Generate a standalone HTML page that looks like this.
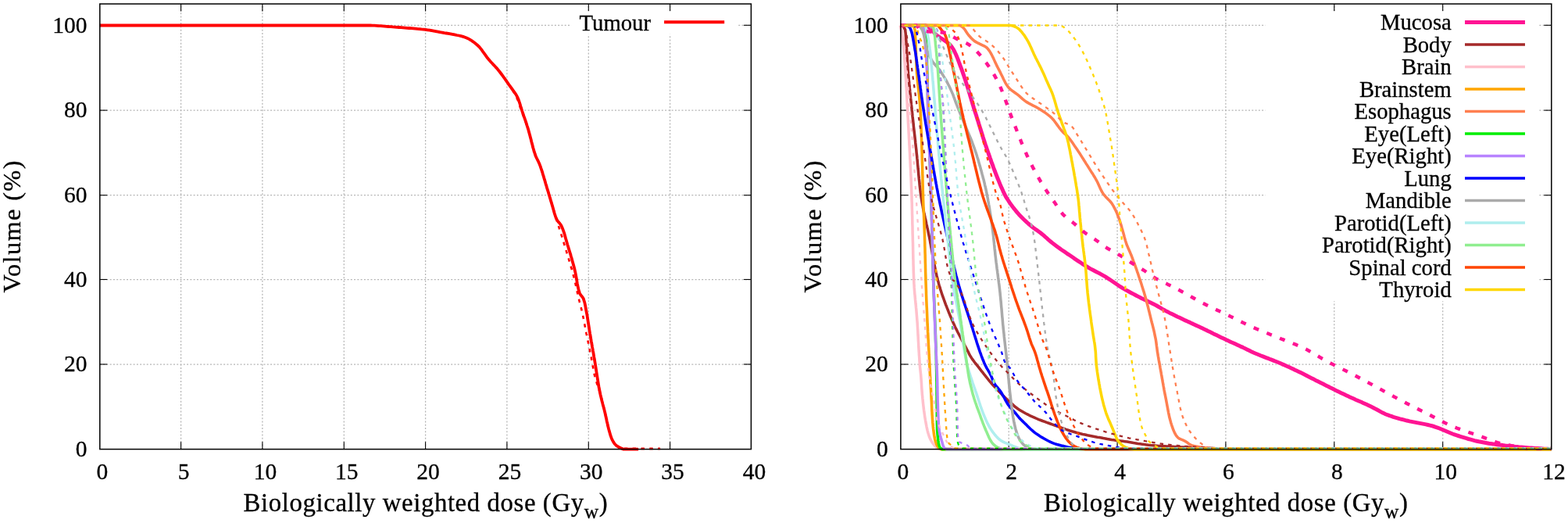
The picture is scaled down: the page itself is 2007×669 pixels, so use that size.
<!DOCTYPE html><html><head><meta charset="utf-8"><style>html,body{margin:0;padding:0;background:#fff;overflow:hidden}svg{display:block}</style></head><body><svg width="2007" height="669" viewBox="0 0 2007 669">
<rect width="2007" height="669" fill="#fff"/>
<g><line x1="231.6" y1="574.65" x2="231.6" y2="5.0" stroke="#b4b4b4" stroke-width="1.25" stroke-dasharray="2 2.28"/><line x1="335.9" y1="574.65" x2="335.9" y2="5.0" stroke="#b4b4b4" stroke-width="1.25" stroke-dasharray="2 2.28"/><line x1="440.3" y1="574.65" x2="440.3" y2="5.0" stroke="#b4b4b4" stroke-width="1.25" stroke-dasharray="2 2.28"/><line x1="544.6" y1="574.65" x2="544.6" y2="5.0" stroke="#b4b4b4" stroke-width="1.25" stroke-dasharray="2 2.28"/><line x1="648.9" y1="574.65" x2="648.9" y2="5.0" stroke="#b4b4b4" stroke-width="1.25" stroke-dasharray="2 2.28"/><line x1="753.3" y1="574.65" x2="753.3" y2="5.0" stroke="#b4b4b4" stroke-width="1.25" stroke-dasharray="2 2.28"/><line x1="857.6" y1="574.65" x2="857.6" y2="5.0" stroke="#b4b4b4" stroke-width="1.25" stroke-dasharray="2 2.28"/><line x1="127.8" y1="466.0" x2="961.4" y2="466.0" stroke="#b4b4b4" stroke-width="1.25" stroke-dasharray="2 2.28"/><line x1="127.8" y1="357.5" x2="961.4" y2="357.5" stroke="#b4b4b4" stroke-width="1.25" stroke-dasharray="2 2.28"/><line x1="127.8" y1="249.7" x2="961.4" y2="249.7" stroke="#b4b4b4" stroke-width="1.25" stroke-dasharray="2 2.28"/><line x1="127.8" y1="141.1" x2="961.4" y2="141.1" stroke="#b4b4b4" stroke-width="1.25" stroke-dasharray="2 2.28"/><line x1="127.8" y1="32.3" x2="961.4" y2="32.3" stroke="#b4b4b4" stroke-width="1.25" stroke-dasharray="2 2.28"/></g>
<g><line x1="1291.2" y1="574.65" x2="1291.2" y2="5.0" stroke="#b4b4b4" stroke-width="1.25" stroke-dasharray="2 2.28"/><line x1="1430.1" y1="574.65" x2="1430.1" y2="5.0" stroke="#b4b4b4" stroke-width="1.25" stroke-dasharray="2 2.28"/><line x1="1568.9" y1="574.65" x2="1568.9" y2="5.0" stroke="#b4b4b4" stroke-width="1.25" stroke-dasharray="2 2.28"/><line x1="1707.8" y1="574.65" x2="1707.8" y2="5.0" stroke="#b4b4b4" stroke-width="1.25" stroke-dasharray="2 2.28"/><line x1="1846.7" y1="574.65" x2="1846.7" y2="5.0" stroke="#b4b4b4" stroke-width="1.25" stroke-dasharray="2 2.28"/><line x1="1152.9" y1="466.0" x2="1985.8" y2="466.0" stroke="#b4b4b4" stroke-width="1.25" stroke-dasharray="2 2.28"/><line x1="1152.9" y1="357.5" x2="1985.8" y2="357.5" stroke="#b4b4b4" stroke-width="1.25" stroke-dasharray="2 2.28"/><line x1="1152.9" y1="249.7" x2="1985.8" y2="249.7" stroke="#b4b4b4" stroke-width="1.25" stroke-dasharray="2 2.28"/><line x1="1152.9" y1="141.1" x2="1985.8" y2="141.1" stroke="#b4b4b4" stroke-width="1.25" stroke-dasharray="2 2.28"/><line x1="1152.9" y1="32.3" x2="1985.8" y2="32.3" stroke="#b4b4b4" stroke-width="1.25" stroke-dasharray="2 2.28"/></g>
<line x1="231.6" y1="574.65" x2="231.6" y2="565.15" stroke="#000" stroke-width="1.1"/><line x1="231.6" y1="5.0" x2="231.6" y2="14.5" stroke="#000" stroke-width="1.1"/><line x1="335.9" y1="574.65" x2="335.9" y2="565.15" stroke="#000" stroke-width="1.1"/><line x1="335.9" y1="5.0" x2="335.9" y2="14.5" stroke="#000" stroke-width="1.1"/><line x1="440.3" y1="574.65" x2="440.3" y2="565.15" stroke="#000" stroke-width="1.1"/><line x1="440.3" y1="5.0" x2="440.3" y2="14.5" stroke="#000" stroke-width="1.1"/><line x1="544.6" y1="574.65" x2="544.6" y2="565.15" stroke="#000" stroke-width="1.1"/><line x1="544.6" y1="5.0" x2="544.6" y2="14.5" stroke="#000" stroke-width="1.1"/><line x1="648.9" y1="574.65" x2="648.9" y2="565.15" stroke="#000" stroke-width="1.1"/><line x1="648.9" y1="5.0" x2="648.9" y2="14.5" stroke="#000" stroke-width="1.1"/><line x1="753.3" y1="574.65" x2="753.3" y2="565.15" stroke="#000" stroke-width="1.1"/><line x1="753.3" y1="5.0" x2="753.3" y2="14.5" stroke="#000" stroke-width="1.1"/><line x1="857.6" y1="574.65" x2="857.6" y2="565.15" stroke="#000" stroke-width="1.1"/><line x1="857.6" y1="5.0" x2="857.6" y2="14.5" stroke="#000" stroke-width="1.1"/><line x1="127.8" y1="466.0" x2="137.3" y2="466.0" stroke="#000" stroke-width="1.1"/><line x1="961.4" y1="466.0" x2="951.9" y2="466.0" stroke="#000" stroke-width="1.1"/><line x1="127.8" y1="357.5" x2="137.3" y2="357.5" stroke="#000" stroke-width="1.1"/><line x1="961.4" y1="357.5" x2="951.9" y2="357.5" stroke="#000" stroke-width="1.1"/><line x1="127.8" y1="249.7" x2="137.3" y2="249.7" stroke="#000" stroke-width="1.1"/><line x1="961.4" y1="249.7" x2="951.9" y2="249.7" stroke="#000" stroke-width="1.1"/><line x1="127.8" y1="141.1" x2="137.3" y2="141.1" stroke="#000" stroke-width="1.1"/><line x1="961.4" y1="141.1" x2="951.9" y2="141.1" stroke="#000" stroke-width="1.1"/><line x1="127.8" y1="32.3" x2="137.3" y2="32.3" stroke="#000" stroke-width="1.1"/><line x1="961.4" y1="32.3" x2="951.9" y2="32.3" stroke="#000" stroke-width="1.1"/>
<line x1="1291.2" y1="574.65" x2="1291.2" y2="565.15" stroke="#000" stroke-width="1.1"/><line x1="1291.2" y1="5.0" x2="1291.2" y2="14.5" stroke="#000" stroke-width="1.1"/><line x1="1430.1" y1="574.65" x2="1430.1" y2="565.15" stroke="#000" stroke-width="1.1"/><line x1="1430.1" y1="5.0" x2="1430.1" y2="14.5" stroke="#000" stroke-width="1.1"/><line x1="1568.9" y1="574.65" x2="1568.9" y2="565.15" stroke="#000" stroke-width="1.1"/><line x1="1568.9" y1="5.0" x2="1568.9" y2="14.5" stroke="#000" stroke-width="1.1"/><line x1="1707.8" y1="574.65" x2="1707.8" y2="565.15" stroke="#000" stroke-width="1.1"/><line x1="1707.8" y1="5.0" x2="1707.8" y2="14.5" stroke="#000" stroke-width="1.1"/><line x1="1846.7" y1="574.65" x2="1846.7" y2="565.15" stroke="#000" stroke-width="1.1"/><line x1="1846.7" y1="5.0" x2="1846.7" y2="14.5" stroke="#000" stroke-width="1.1"/><line x1="1152.9" y1="466.0" x2="1162.4" y2="466.0" stroke="#000" stroke-width="1.1"/><line x1="1985.8" y1="466.0" x2="1976.3" y2="466.0" stroke="#000" stroke-width="1.1"/><line x1="1152.9" y1="357.5" x2="1162.4" y2="357.5" stroke="#000" stroke-width="1.1"/><line x1="1985.8" y1="357.5" x2="1976.3" y2="357.5" stroke="#000" stroke-width="1.1"/><line x1="1152.9" y1="249.7" x2="1162.4" y2="249.7" stroke="#000" stroke-width="1.1"/><line x1="1985.8" y1="249.7" x2="1976.3" y2="249.7" stroke="#000" stroke-width="1.1"/><line x1="1152.9" y1="141.1" x2="1162.4" y2="141.1" stroke="#000" stroke-width="1.1"/><line x1="1985.8" y1="141.1" x2="1976.3" y2="141.1" stroke="#000" stroke-width="1.1"/><line x1="1152.9" y1="32.3" x2="1162.4" y2="32.3" stroke="#000" stroke-width="1.1"/><line x1="1985.8" y1="32.3" x2="1976.3" y2="32.3" stroke="#000" stroke-width="1.1"/>
<path d="M127.2,32.5 L129.8,32.5 L132.3,32.5 L134.8,32.5 L137.3,32.5 L139.8,32.5 L142.3,32.5 L144.9,32.5 L147.4,32.5 L149.9,32.5 L152.4,32.5 L154.9,32.5 L157.4,32.5 L160.0,32.5 L162.5,32.5 L165.0,32.5 L167.5,32.5 L170.0,32.5 L172.5,32.5 L175.1,32.5 L177.6,32.5 L180.1,32.5 L182.6,32.5 L185.1,32.5 L187.6,32.5 L190.1,32.5 L192.7,32.5 L195.2,32.5 L197.7,32.5 L200.2,32.5 L202.7,32.5 L205.2,32.5 L207.7,32.5 L210.3,32.5 L212.8,32.5 L215.3,32.5 L217.8,32.5 L220.3,32.5 L222.8,32.5 L225.3,32.5 L227.9,32.5 L230.4,32.5 L232.9,32.5 L235.4,32.5 L237.9,32.5 L240.4,32.5 L242.9,32.5 L245.5,32.5 L248.0,32.5 L250.5,32.5 L253.0,32.5 L255.5,32.5 L258.0,32.5 L260.5,32.5 L263.1,32.5 L265.6,32.5 L268.1,32.5 L270.6,32.5 L273.1,32.5 L275.6,32.5 L278.1,32.5 L280.6,32.5 L283.2,32.5 L285.7,32.5 L288.2,32.5 L290.7,32.5 L293.2,32.5 L295.7,32.5 L298.2,32.5 L300.8,32.5 L303.3,32.5 L305.8,32.5 L308.3,32.5 L310.8,32.5 L313.3,32.5 L315.8,32.5 L318.3,32.5 L320.9,32.5 L323.4,32.5 L325.9,32.5 L328.4,32.5 L330.9,32.5 L333.4,32.5 L335.9,32.5 L338.4,32.5 L341.0,32.5 L343.5,32.5 L346.0,32.5 L348.5,32.5 L351.0,32.5 L353.5,32.5 L356.0,32.5 L358.5,32.5 L361.1,32.5 L363.6,32.5 L366.1,32.5 L368.6,32.5 L371.1,32.5 L373.6,32.5 L376.1,32.5 L378.6,32.5 L381.1,32.5 L383.7,32.5 L386.2,32.5 L388.7,32.5 L391.2,32.5 L393.7,32.5 L396.2,32.5 L398.7,32.5 L401.2,32.5 L403.8,32.5 L406.3,32.5 L408.8,32.5 L411.3,32.5 L413.8,32.5 L416.3,32.5 L418.8,32.5 L421.3,32.5 L423.8,32.5 L426.4,32.5 L428.9,32.5 L431.4,32.5 L433.9,32.5 L436.4,32.5 L438.9,32.5 L441.4,32.5 L443.9,32.5 L446.4,32.5 L449.0,32.5 L451.5,32.5 L454.0,32.5 L456.5,32.5 L459.0,32.5 L461.5,32.5 L464.0,32.5 L466.5,32.5 L469.0,32.5 L471.6,32.5 L474.2,32.5 L476.8,32.6 L479.4,32.7 L482.0,32.9 L484.6,33.1 L487.2,33.2 L489.8,33.4 L492.4,33.6 L495.0,33.8 L497.6,34.0 L500.3,34.1 L502.9,34.4 L505.5,34.6 L508.1,34.8 L510.7,35.0 L513.3,35.2 L515.9,35.4 L518.5,35.6 L521.1,35.8 L523.7,36.0 L526.4,36.2 L529.0,36.4 L531.6,36.6 L534.2,36.9 L536.8,37.1 L539.4,37.4 L542.0,37.6 L544.6,37.9 L547.3,38.3 L550.0,38.7 L552.7,39.2 L555.3,39.7 L558.0,40.2 L560.7,40.7 L563.4,41.2 L566.0,41.6 L568.7,42.1 L571.3,42.5 L574.0,42.9 L576.6,43.4 L579.2,43.9 L581.9,44.4 L584.7,45.0 L587.4,45.5 L590.1,46.2 L592.8,46.9 L595.3,47.7 L597.8,48.7 L600.2,49.9 L602.6,51.3 L604.9,52.9 L607.2,54.5 L609.3,56.2 L611.4,58.0 L613.3,59.8 L615.0,61.9 L616.7,64.0 L618.3,66.3 L620.0,68.6 L621.6,70.9 L623.2,73.2 L624.9,75.3 L626.6,77.3 L628.3,79.2 L630.0,81.0 L631.7,82.9 L633.5,84.8 L635.2,86.6 L636.9,88.6 L638.5,90.5 L640.1,92.5 L641.6,94.5 L643.1,96.5 L644.6,98.6 L646.1,100.6 L647.5,102.7 L649.0,104.8 L650.4,106.9 L651.8,108.9 L653.5,111.2 L655.2,113.5 L656.9,115.8 L658.5,118.1 L660.1,120.4 L661.5,122.8 L662.7,125.2 L663.8,127.8 L664.7,130.5 L665.6,133.2 L666.4,136.0 L667.3,138.7 L668.1,141.5 L668.9,143.8 L669.7,146.2 L670.5,148.6 L671.4,151.0 L672.2,153.4 L673.0,155.7 L673.8,158.1 L674.5,160.5 L675.3,162.9 L676.1,165.3 L676.8,167.9 L677.5,170.5 L678.2,173.1 L678.9,175.7 L679.6,178.3 L680.2,180.9 L680.9,183.5 L681.6,186.1 L682.2,188.7 L683.0,191.3 L683.7,193.9 L684.6,196.4 L685.4,198.9 L686.4,201.2 L687.5,203.5 L688.6,205.7 L689.7,208.0 L690.7,210.3 L691.6,212.7 L692.4,215.2 L693.3,217.6 L694.1,220.1 L694.8,222.6 L695.6,225.1 L696.3,227.6 L697.1,230.1 L697.8,232.6 L698.5,235.1 L699.3,237.6 L700.0,240.1 L700.8,242.6 L701.6,245.1 L702.3,247.6 L703.1,250.1 L703.8,252.7 L704.6,255.2 L705.3,257.7 L706.1,260.2 L706.8,262.6 L707.5,265.1 L708.2,267.6 L708.9,270.1 L709.6,272.6 L710.4,275.0 L711.2,277.4 L712.1,279.7 L713.2,281.9 L714.7,283.9 L716.5,285.8 L718.0,287.8 L719.1,290.1 L720.1,292.4 L721.0,294.9 L721.9,297.4 L722.7,299.9 L723.4,302.5 L724.1,305.1 L724.9,307.7 L725.6,310.2 L726.3,312.7 L727.1,315.3 L727.9,317.9 L728.7,320.5 L729.5,323.0 L730.3,325.6 L731.0,328.2 L731.8,330.8 L732.5,333.4 L733.2,336.0 L733.9,338.6 L734.6,341.1 L735.3,343.8 L735.9,346.4 L736.5,349.0 L737.0,351.6 L737.5,354.3 L738.0,357.0 L738.4,359.7 L738.8,362.4 L739.3,365.0 L739.9,367.6 L740.5,370.2 L741.2,372.7 L742.0,375.1 L743.4,377.5 L745.3,379.7 L746.8,382.1 L747.6,384.7 L748.4,387.3 L749.0,390.1 L749.5,392.9 L750.0,395.6 L750.5,398.4 L751.0,400.9 L751.5,403.5 L751.9,406.1 L752.3,408.6 L752.7,411.2 L753.1,413.7 L753.5,416.3 L753.9,418.9 L754.3,421.5 L754.7,424.0 L755.1,426.6 L755.6,429.1 L756.0,431.6 L756.4,434.1 L756.8,436.6 L757.3,439.1 L757.7,441.5 L758.1,444.0 L758.6,446.5 L759.0,449.0 L759.5,451.5 L759.9,454.0 L760.3,456.5 L760.8,459.0 L761.2,461.5 L761.6,464.0 L762.0,466.5 L762.4,469.0 L762.8,471.6 L763.2,474.1 L763.6,476.7 L764.0,479.2 L764.4,481.7 L764.8,484.3 L765.2,486.8 L765.6,489.3 L766.0,491.9 L766.4,494.4 L766.9,496.9 L767.4,499.4 L767.9,501.9 L768.4,504.4 L769.0,506.9 L769.6,509.4 L770.2,511.9 L770.9,514.4 L771.5,516.9 L772.2,519.4 L772.9,521.9 L773.5,524.4 L774.1,526.9 L774.7,529.3 L775.2,531.7 L775.8,534.2 L776.3,536.6 L776.8,539.1 L777.4,541.5 L777.9,544.0 L778.5,546.4 L779.1,548.8 L779.8,551.3 L780.6,554.1 L781.4,556.9 L782.4,559.7 L783.5,562.4 L785.0,565.1 L786.7,567.7 L788.7,569.8 L791.6,571.7 L794.8,573.3 L797.7,574.6 L800.3,574.6 L803.0,574.6 L805.7,574.6 L808.5,574.6 L811.3,574.6 L814.2,574.6 L817.1,574.6" fill="none" stroke="#ff0000" stroke-width="3.8" stroke-linejoin="round" stroke-linecap="butt"/>
<path d="M127.2,32.5 L129.8,32.5 L132.3,32.5 L134.8,32.5 L137.3,32.5 L139.8,32.5 L142.3,32.5 L144.9,32.5 L147.4,32.5 L149.9,32.5 L152.4,32.5 L154.9,32.5 L157.4,32.5 L160.0,32.5 L162.5,32.5 L165.0,32.5 L167.5,32.5 L170.0,32.5 L172.5,32.5 L175.1,32.5 L177.6,32.5 L180.1,32.5 L182.6,32.5 L185.1,32.5 L187.6,32.5 L190.1,32.5 L192.7,32.5 L195.2,32.5 L197.7,32.5 L200.2,32.5 L202.7,32.5 L205.2,32.5 L207.7,32.5 L210.3,32.5 L212.8,32.5 L215.3,32.5 L217.8,32.5 L220.3,32.5 L222.8,32.5 L225.3,32.5 L227.9,32.5 L230.4,32.5 L232.9,32.5 L235.4,32.5 L237.9,32.5 L240.4,32.5 L242.9,32.5 L245.5,32.5 L248.0,32.5 L250.5,32.5 L253.0,32.5 L255.5,32.5 L258.0,32.5 L260.5,32.5 L263.1,32.5 L265.6,32.5 L268.1,32.5 L270.6,32.5 L273.1,32.5 L275.6,32.5 L278.1,32.5 L280.6,32.5 L283.2,32.5 L285.7,32.5 L288.2,32.5 L290.7,32.5 L293.2,32.5 L295.7,32.5 L298.2,32.5 L300.8,32.5 L303.3,32.5 L305.8,32.5 L308.3,32.5 L310.8,32.5 L313.3,32.5 L315.8,32.5 L318.3,32.5 L320.9,32.5 L323.4,32.5 L325.9,32.5 L328.4,32.5 L330.9,32.5 L333.4,32.5 L335.9,32.5 L338.4,32.5 L341.0,32.5 L343.5,32.5 L346.0,32.5 L348.5,32.5 L351.0,32.5 L353.5,32.5 L356.0,32.5 L358.5,32.5 L361.1,32.5 L363.6,32.5 L366.1,32.5 L368.6,32.5 L371.1,32.5 L373.6,32.5 L376.1,32.5 L378.6,32.5 L381.1,32.5 L383.7,32.5 L386.2,32.5 L388.7,32.5 L391.2,32.5 L393.7,32.5 L396.2,32.5 L398.7,32.5 L401.2,32.5 L403.8,32.5 L406.3,32.5 L408.8,32.5 L411.3,32.5 L413.8,32.5 L416.3,32.5 L418.8,32.5 L421.3,32.5 L423.8,32.5 L426.4,32.5 L428.9,32.5 L431.4,32.5 L433.9,32.5 L436.4,32.5 L438.9,32.5 L441.4,32.5 L443.9,32.5 L446.4,32.5 L449.0,32.5 L451.5,32.5 L454.0,32.5 L456.5,32.5 L459.0,32.5 L461.5,32.5 L464.0,32.5 L466.5,32.5 L469.0,32.5 L471.6,32.5 L474.2,32.5 L476.8,32.6 L479.4,32.7 L482.0,32.9 L484.6,33.1 L487.2,33.2 L489.8,33.4 L492.4,33.6 L495.0,33.8 L497.6,34.0 L500.3,34.1 L502.9,34.4 L505.5,34.6 L508.1,34.8 L510.7,35.0 L513.3,35.2 L515.9,35.4 L518.5,35.6 L521.1,35.8 L523.7,36.0 L526.4,36.2 L529.0,36.4 L531.6,36.6 L534.2,36.9 L536.8,37.1 L539.4,37.4 L542.0,37.6 L544.6,37.9 L547.3,38.3 L550.0,38.7 L552.7,39.2 L555.3,39.7 L558.0,40.2 L560.7,40.7 L563.4,41.2 L566.0,41.6 L568.7,42.1 L571.3,42.5 L574.0,42.9 L576.6,43.4 L579.2,43.9 L581.9,44.4 L584.7,45.0 L587.4,45.5 L590.1,46.2 L592.8,46.9 L595.3,47.7 L597.8,48.7 L600.2,49.9 L602.6,51.3 L604.9,52.9 L607.2,54.5 L609.3,56.2 L611.4,58.0 L613.3,59.8 L615.0,61.9 L616.7,64.0 L618.3,66.3 L620.0,68.6 L621.6,70.9 L623.2,73.2 L624.9,75.3 L626.6,77.3 L628.3,79.2 L630.0,81.0 L631.7,82.9 L633.5,84.8 L635.2,86.6 L636.9,88.6 L638.5,90.5 L640.1,92.5 L641.6,94.5 L643.1,96.5 L644.7,98.5 L646.1,100.6 L647.6,102.7 L649.0,104.7 L650.5,106.8 L651.8,108.9 L653.3,111.2 L654.8,113.5 L656.3,115.8 L657.7,118.1 L659.0,120.4 L660.3,122.8 L661.4,125.2 L662.6,127.8 L663.6,130.5 L664.5,133.2 L665.4,136.0 L666.3,138.7 L667.3,141.5 L668.2,143.8 L669.1,146.2 L670.0,148.6 L670.9,151.0 L671.8,153.4 L672.7,155.7 L673.6,158.1 L674.4,160.5 L675.3,162.9 L676.1,165.3 L676.8,167.9 L677.6,170.5 L678.3,173.1 L679.0,175.7 L679.6,178.3 L680.3,180.9 L680.9,183.5 L681.6,186.1 L682.3,188.7 L683.0,191.3 L683.8,193.9 L684.6,196.4 L685.4,198.9 L686.4,201.2 L687.5,203.5 L688.6,205.7 L689.7,208.0 L690.7,210.3 L691.6,212.7 L692.4,215.2 L693.3,217.6 L694.1,220.1 L694.8,222.6 L695.6,225.1 L696.3,227.6 L697.1,230.1 L697.8,232.6 L698.5,235.1 L699.3,237.6 L700.0,240.1 L700.8,242.6 L701.6,245.1 L702.3,247.6 L703.1,250.1 L703.8,252.6 L704.6,255.2 L705.3,257.7 L706.1,260.2 L706.8,262.6 L707.5,265.0 L708.2,267.4 L709.0,269.8 L709.7,272.2 L710.4,274.6 L711.1,277.0 L711.8,279.5 L712.6,281.9 L713.4,284.5 L714.2,287.1 L715.1,289.7 L715.9,292.3 L716.7,294.9 L717.5,297.3 L718.3,299.8 L719.1,302.2 L719.8,304.7 L720.6,307.2 L721.3,309.6 L722.1,312.1 L722.9,314.6 L723.6,317.0 L724.4,319.5 L725.1,322.0 L725.8,324.5 L726.6,327.0 L727.3,329.4 L728.1,331.9 L728.8,334.4 L729.6,336.9 L730.3,339.4 L731.0,341.9 L731.8,344.4 L732.5,346.9 L733.2,349.5 L733.8,352.0 L734.5,354.5 L735.1,356.9 L735.7,359.4 L736.3,361.9 L736.8,364.3 L737.4,366.8 L737.9,369.3 L738.5,371.7 L739.0,374.2 L739.6,376.7 L740.2,379.1 L740.7,381.6 L741.3,384.0 L741.9,386.5 L742.6,388.9 L743.2,391.3 L743.8,393.8 L744.4,396.2 L745.0,398.7 L745.5,401.1 L746.1,403.6 L746.6,406.2 L747.1,408.7 L747.6,411.3 L748.1,413.8 L748.6,416.4 L749.1,418.9 L749.6,421.5 L750.0,424.0 L750.5,426.6 L751.1,429.2 L751.6,431.8 L752.1,434.4 L752.7,437.0 L753.2,439.6 L753.7,442.2 L754.3,444.9 L754.8,447.5 L755.3,450.1 L755.9,452.7 L756.4,455.3 L756.9,457.8 L757.3,460.2 L757.8,462.7 L758.2,465.2 L758.6,467.7 L759.1,470.1 L759.5,472.6 L760.0,475.1 L760.5,477.5 L761.0,480.0 L761.6,482.4 L762.3,484.9 L763.0,487.3 L763.8,489.8 L764.6,492.2 L765.5,494.6 L766.3,497.0 L767.1,499.5 L767.9,501.9 L768.6,504.4 L769.2,506.9 L769.9,509.4 L770.5,511.9 L771.1,514.4 L771.7,516.9 L772.3,519.4 L772.9,521.9 L773.5,524.4 L774.1,526.9 L774.7,529.3 L775.2,531.7 L775.8,534.2 L776.3,536.6 L776.8,539.1 L777.4,541.5 L777.9,544.0 L778.5,546.4 L779.1,548.8 L779.8,551.3 L780.6,554.1 L781.4,556.9 L782.4,559.7 L783.5,562.4 L785.0,565.1 L786.7,567.7 L788.7,569.8 L791.6,571.7 L794.8,573.3 L797.7,573.9 L800.2,573.9 L802.7,573.9 L805.2,573.9 L807.7,573.9 L810.3,573.9 L812.8,573.9 L815.4,573.9 L818.0,573.9 L820.6,573.9 L823.2,573.9 L825.8,573.9 L828.5,573.9 L831.2,573.9 L833.9,573.9 L836.7,573.9 L839.4,573.9 L842.2,573.9 L845.1,573.9" fill="none" stroke="#ff0000" stroke-width="2.6" stroke-dasharray="4.5 6.3" stroke-linejoin="round" stroke-linecap="butt"/>
<path d="M1152.3,32.5 L1155.1,32.5 L1157.9,32.5 L1160.7,32.5 L1163.3,32.5 L1166.0,32.5 L1168.6,32.5 L1171.2,32.5 L1173.7,32.5 L1176.2,32.5 L1178.7,32.5 L1181.1,32.5 L1183.5,32.5 L1186.0,33.2 L1188.3,34.7 L1190.5,36.3 L1192.7,38.3 L1194.7,40.6 L1196.7,42.9 L1198.8,45.0 L1201.2,46.7 L1203.6,48.3 L1206.1,49.8 L1208.5,51.5 L1211.0,53.3 L1213.4,55.1 L1215.7,57.0 L1217.6,59.1 L1218.9,61.0 L1220.2,63.0 L1221.4,65.2 L1222.5,67.5 L1223.6,69.8 L1224.6,72.2 L1225.6,74.6 L1226.5,77.0 L1227.4,79.5 L1228.3,81.9 L1229.2,84.3 L1230.1,86.7 L1231.0,89.1 L1231.9,91.5 L1232.7,94.0 L1233.6,96.4 L1234.4,98.9 L1235.2,101.3 L1236.0,103.8 L1236.8,106.2 L1237.6,108.7 L1238.4,111.2 L1239.1,113.7 L1239.9,116.1 L1240.6,118.6 L1241.4,121.1 L1242.1,123.6 L1242.9,126.1 L1243.6,128.5 L1244.4,131.0 L1245.1,133.5 L1245.9,136.0 L1246.6,138.5 L1247.4,140.9 L1248.2,143.4 L1249.0,145.9 L1249.8,148.3 L1250.5,150.8 L1251.3,153.3 L1252.1,155.7 L1252.8,158.2 L1253.6,160.7 L1254.4,163.2 L1255.1,165.6 L1255.9,168.1 L1256.7,170.6 L1257.5,173.0 L1258.2,175.5 L1259.0,178.0 L1259.8,180.4 L1260.6,182.9 L1261.4,185.3 L1262.3,187.8 L1263.1,190.2 L1263.9,192.7 L1264.8,195.1 L1265.6,197.5 L1266.5,199.9 L1267.3,202.3 L1268.2,204.7 L1269.0,207.1 L1269.9,209.5 L1270.8,211.9 L1271.6,214.3 L1272.5,216.6 L1273.4,219.0 L1274.3,221.4 L1275.2,223.8 L1276.2,226.2 L1277.1,228.5 L1278.1,230.9 L1279.0,233.2 L1280.0,235.6 L1281.0,237.9 L1282.0,240.2 L1283.1,242.5 L1284.1,244.8 L1285.2,247.1 L1286.3,249.3 L1287.6,251.8 L1289.1,254.2 L1290.6,256.5 L1292.1,258.9 L1293.7,261.1 L1295.4,263.4 L1297.0,265.6 L1298.8,267.8 L1300.5,270.0 L1302.3,272.1 L1304.1,274.2 L1306.0,276.2 L1308.0,278.3 L1310.0,280.3 L1312.0,282.2 L1314.1,284.1 L1316.2,286.0 L1318.3,287.8 L1320.4,289.5 L1322.5,291.2 L1324.7,292.8 L1327.0,294.3 L1329.2,295.9 L1331.4,297.5 L1333.5,299.2 L1335.6,300.9 L1337.5,302.6 L1339.5,304.3 L1341.4,306.1 L1343.4,307.8 L1345.4,309.5 L1347.4,311.1 L1349.6,312.8 L1351.8,314.4 L1353.9,316.0 L1356.2,317.6 L1358.4,319.2 L1360.6,320.7 L1362.9,322.2 L1365.1,323.8 L1367.4,325.3 L1369.6,326.8 L1371.8,328.3 L1374.0,329.8 L1376.2,331.4 L1378.4,332.8 L1380.7,334.3 L1382.9,335.8 L1385.1,337.3 L1387.3,338.7 L1389.6,340.1 L1391.9,341.5 L1394.1,342.8 L1396.4,344.1 L1398.7,345.3 L1401.0,346.5 L1403.3,347.7 L1405.6,348.9 L1408.0,350.1 L1410.3,351.4 L1412.5,352.6 L1414.8,353.9 L1417.0,355.3 L1419.3,356.8 L1421.5,358.3 L1423.7,359.8 L1425.9,361.3 L1428.1,362.8 L1430.3,364.3 L1432.5,365.8 L1434.7,367.2 L1437.0,368.6 L1439.2,369.8 L1441.4,371.1 L1443.6,372.3 L1445.8,373.5 L1448.0,374.7 L1450.3,375.9 L1452.5,377.0 L1454.7,378.2 L1457.0,379.4 L1459.2,380.5 L1461.5,381.7 L1463.8,382.8 L1466.2,383.9 L1468.5,385.1 L1470.8,386.2 L1473.1,387.3 L1475.5,388.5 L1477.8,389.6 L1480.1,390.8 L1482.6,392.2 L1485.1,393.6 L1487.5,395.1 L1490.0,396.5 L1492.6,397.9 L1495.0,399.1 L1497.4,400.4 L1499.9,401.6 L1502.4,402.8 L1504.8,404.0 L1507.3,405.2 L1509.8,406.3 L1512.3,407.5 L1514.8,408.7 L1517.2,409.9 L1519.7,411.0 L1522.2,412.1 L1524.6,413.3 L1527.1,414.4 L1529.6,415.6 L1532.1,416.7 L1534.5,417.8 L1537.0,419.0 L1539.3,420.1 L1541.7,421.2 L1544.0,422.3 L1546.3,423.5 L1548.7,424.6 L1551.0,425.7 L1553.3,426.9 L1555.6,428.0 L1558.0,429.1 L1560.3,430.3 L1562.6,431.4 L1565.0,432.5 L1567.3,433.6 L1569.6,434.7 L1572.0,435.8 L1574.3,436.9 L1576.7,438.0 L1579.1,439.0 L1581.4,440.1 L1583.8,441.2 L1586.2,442.3 L1588.5,443.4 L1590.9,444.4 L1593.2,445.6 L1596.0,446.9 L1598.8,448.3 L1601.6,449.7 L1604.4,451.0 L1606.7,452.0 L1609.2,453.0 L1611.6,454.0 L1614.0,455.0 L1616.4,455.9 L1618.9,456.9 L1621.3,457.8 L1623.8,458.7 L1626.2,459.7 L1628.7,460.6 L1631.1,461.6 L1633.5,462.5 L1636.0,463.5 L1638.4,464.5 L1640.8,465.6 L1643.2,466.6 L1645.6,467.7 L1648.0,468.7 L1650.4,469.8 L1652.8,470.9 L1655.2,472.0 L1657.5,473.2 L1659.9,474.3 L1662.3,475.4 L1664.7,476.6 L1667.2,477.8 L1669.6,479.0 L1672.0,480.2 L1674.4,481.5 L1676.8,482.7 L1679.2,483.9 L1681.6,485.1 L1683.9,486.4 L1686.3,487.6 L1688.7,488.8 L1691.2,490.0 L1693.4,491.1 L1695.7,492.3 L1698.0,493.4 L1700.3,494.5 L1702.5,495.7 L1704.8,496.8 L1707.1,497.9 L1709.4,499.1 L1711.6,500.2 L1713.9,501.3 L1716.2,502.4 L1718.5,503.5 L1720.8,504.6 L1723.1,505.7 L1725.5,506.8 L1727.9,507.9 L1730.3,509.0 L1732.7,510.1 L1735.1,511.2 L1737.5,512.2 L1739.9,513.3 L1742.4,514.3 L1744.8,515.4 L1747.2,516.5 L1749.6,517.6 L1752.0,518.7 L1754.3,519.8 L1756.7,521.0 L1759.1,522.3 L1761.5,523.5 L1763.9,524.8 L1766.2,526.1 L1768.6,527.4 L1771.0,528.6 L1773.4,529.7 L1775.9,530.7 L1778.4,531.6 L1780.9,532.4 L1783.4,533.3 L1786.0,534.1 L1788.6,534.8 L1791.2,535.6 L1793.8,536.3 L1796.4,536.9 L1799.0,537.6 L1801.6,538.2 L1804.1,538.9 L1806.8,539.4 L1809.4,539.9 L1812.0,540.4 L1814.6,540.9 L1817.2,541.4 L1819.9,541.9 L1822.5,542.4 L1825.1,542.9 L1827.7,543.5 L1830.3,544.1 L1832.8,544.7 L1835.3,545.5 L1837.7,546.3 L1840.1,547.1 L1842.5,548.0 L1844.9,549.0 L1847.3,550.0 L1849.7,551.0 L1852.0,552.0 L1854.4,553.0 L1856.8,554.0 L1859.2,555.0 L1861.6,555.8 L1864.1,556.7 L1866.6,557.5 L1869.2,558.3 L1871.8,559.1 L1874.4,559.9 L1877.0,560.7 L1879.6,561.5 L1882.2,562.2 L1884.8,562.9 L1887.4,563.6 L1890.0,564.2 L1892.7,564.8 L1895.3,565.3 L1897.9,565.8 L1900.5,566.3 L1903.1,566.7 L1905.7,567.2 L1908.3,567.6 L1910.9,567.9 L1913.5,568.3 L1916.1,568.7 L1918.7,569.0 L1921.3,569.3 L1923.9,569.6 L1926.6,570.0 L1929.2,570.2 L1931.8,570.5 L1934.4,570.8 L1937.0,571.1 L1939.6,571.4 L1942.2,571.6 L1944.8,571.9 L1947.4,572.1 L1950.0,572.3 L1952.6,572.5 L1955.2,572.7 L1957.8,572.9 L1960.3,573.1 L1962.8,573.3 L1965.4,573.5 L1967.9,573.6 L1970.4,573.8 L1972.9,573.9 L1975.5,574.1 L1978.0,574.2 L1980.5,574.3 L1983.1,574.5 L1985.6,574.6" fill="none" stroke="#ff1493" stroke-width="5.0" stroke-linejoin="round" stroke-linecap="butt"/>
<path d="M1152.3,32.5 L1156.5,34.1 L1158.5,37.9 L1158.9,40.5 L1159.2,43.3 L1159.4,46.0 L1159.6,48.8 L1159.8,51.5 L1160.0,54.2 L1160.1,56.9 L1160.3,59.6 L1160.5,62.3 L1160.6,65.0 L1160.8,67.7 L1161.0,70.5 L1161.1,73.2 L1161.3,75.9 L1161.5,78.6 L1161.7,81.3 L1161.8,84.0 L1162.0,86.7 L1162.2,89.3 L1162.4,91.9 L1162.6,94.5 L1162.9,97.1 L1163.1,99.6 L1163.3,102.2 L1163.6,104.8 L1163.8,107.4 L1164.1,110.0 L1164.3,112.5 L1164.6,115.1 L1164.8,117.7 L1165.1,120.3 L1165.4,122.9 L1165.6,125.4 L1165.9,128.0 L1166.2,130.6 L1166.4,133.2 L1166.7,135.8 L1167.0,138.3 L1167.2,140.9 L1167.5,143.5 L1167.8,146.1 L1168.0,148.7 L1168.3,151.2 L1168.6,153.8 L1168.9,156.4 L1169.2,159.0 L1169.4,161.6 L1169.7,164.2 L1170.0,166.7 L1170.3,169.3 L1170.6,171.9 L1170.9,174.5 L1171.2,177.1 L1171.5,179.6 L1171.7,182.2 L1172.0,184.8 L1172.3,187.4 L1172.6,190.0 L1172.9,192.5 L1173.1,195.1 L1173.4,197.7 L1173.7,200.3 L1173.9,202.9 L1174.2,205.5 L1174.4,208.0 L1174.6,210.6 L1174.9,213.2 L1175.1,215.8 L1175.4,218.4 L1175.6,221.0 L1175.8,223.6 L1176.1,226.2 L1176.3,228.7 L1176.6,231.3 L1176.9,233.9 L1177.1,236.5 L1177.4,239.1 L1177.7,241.6 L1178.0,244.2 L1178.3,246.8 L1178.7,249.3 L1179.0,251.8 L1179.4,254.3 L1179.8,256.8 L1180.2,259.2 L1180.7,261.7 L1181.2,264.2 L1181.6,266.6 L1182.1,269.1 L1182.6,271.6 L1183.2,274.0 L1183.7,276.5 L1184.2,278.9 L1184.8,281.4 L1185.3,283.9 L1185.8,286.3 L1186.4,288.8 L1186.9,291.2 L1187.5,293.7 L1188.0,296.1 L1188.5,298.6 L1189.0,301.1 L1189.5,303.5 L1190.0,306.0 L1190.5,308.5 L1190.9,310.9 L1191.4,313.4 L1191.8,315.9 L1192.3,318.4 L1192.7,320.9 L1193.2,323.3 L1193.6,325.8 L1194.1,328.3 L1194.5,330.8 L1195.0,333.2 L1195.4,335.7 L1195.9,338.2 L1196.4,340.7 L1196.9,343.1 L1197.4,345.6 L1197.9,348.0 L1198.5,350.5 L1199.0,352.9 L1199.6,355.3 L1200.2,357.7 L1200.9,360.2 L1201.5,362.7 L1202.2,365.2 L1203.0,367.6 L1203.7,370.1 L1204.5,372.5 L1205.3,375.0 L1206.1,377.4 L1207.0,379.9 L1207.9,382.3 L1208.7,384.7 L1209.6,387.2 L1210.5,389.6 L1211.5,392.0 L1212.4,394.4 L1213.4,396.8 L1214.3,399.2 L1215.3,401.6 L1216.3,404.0 L1217.3,406.3 L1218.3,408.7 L1219.3,411.0 L1220.3,413.3 L1221.4,415.6 L1222.4,417.9 L1223.5,420.2 L1224.7,422.4 L1225.8,424.7 L1227.0,427.0 L1228.2,429.2 L1229.4,431.5 L1230.5,433.7 L1231.7,436.0 L1232.9,438.2 L1234.1,440.4 L1235.3,442.7 L1236.5,444.9 L1237.7,447.2 L1239.0,449.6 L1240.2,452.1 L1241.5,454.6 L1242.9,456.9 L1244.3,459.1 L1245.9,461.2 L1247.4,463.3 L1249.1,465.3 L1250.7,467.4 L1252.3,469.4 L1254.2,471.9 L1256.1,474.3 L1258.0,476.7 L1259.9,479.2 L1261.7,481.3 L1263.4,483.5 L1265.1,485.7 L1266.9,487.8 L1268.9,490.2 L1271.0,492.5 L1273.1,494.8 L1275.2,497.0 L1277.0,498.9 L1278.7,500.7 L1280.5,502.5 L1282.3,504.4 L1284.1,506.2 L1285.9,508.0 L1287.7,509.7 L1289.5,511.5 L1291.4,513.2 L1293.3,514.9 L1295.5,516.9 L1297.7,518.9 L1299.9,520.8 L1302.3,522.5 L1304.4,523.9 L1306.5,525.2 L1308.7,526.5 L1310.9,527.8 L1313.1,529.0 L1315.4,530.1 L1317.6,531.3 L1319.9,532.4 L1322.2,533.4 L1324.5,534.4 L1327.0,535.5 L1329.5,536.6 L1332.0,537.5 L1334.6,538.5 L1337.2,539.4 L1339.7,540.4 L1342.3,541.3 L1344.9,542.2 L1347.4,543.1 L1349.9,544.0 L1352.3,544.9 L1354.8,545.8 L1357.3,546.7 L1359.7,547.6 L1362.2,548.5 L1364.7,549.4 L1367.2,550.2 L1369.6,551.0 L1372.2,551.8 L1374.8,552.5 L1377.4,553.3 L1380.1,554.0 L1383.0,554.7 L1385.9,555.4 L1388.9,556.0 L1391.9,556.7 L1394.4,557.2 L1396.9,557.7 L1399.5,558.2 L1402.0,558.7 L1404.6,559.2 L1407.1,559.6 L1409.7,560.1 L1412.2,560.6 L1414.8,561.0 L1417.4,561.5 L1420.1,561.9 L1422.7,562.4 L1425.3,562.8 L1428.0,563.2 L1431.0,563.6 L1434.0,563.9 L1437.0,564.3 L1439.8,564.7 L1442.6,565.1 L1445.3,565.5 L1448.1,566.0 L1450.9,566.5 L1453.7,566.9 L1456.4,567.4 L1459.2,567.8 L1462.0,568.2 L1464.8,568.6 L1467.5,568.9 L1470.3,569.3 L1473.1,569.6 L1475.9,569.8 L1478.4,570.0 L1480.9,570.2 L1483.4,570.4 L1486.0,570.5 L1488.5,570.7 L1491.0,570.8 L1493.5,571.0 L1496.0,571.1 L1498.6,571.2 L1501.1,571.3 L1503.6,571.4 L1506.1,571.5 L1508.7,571.6 L1511.2,571.8 L1513.7,571.9 L1516.2,572.0 L1518.8,572.1 L1521.3,572.2 L1523.8,572.3 L1526.3,572.4 L1528.8,572.5 L1531.3,572.6 L1533.8,572.7 L1536.3,572.9 L1538.8,573.0 L1541.4,573.1 L1543.9,573.2 L1546.4,573.3 L1548.9,573.4 L1551.4,573.5 L1553.9,573.6 L1556.4,573.7 L1558.9,573.8 L1561.4,573.9 L1563.9,573.9 L1566.4,574.0 L1568.9,574.0 L1571.5,574.1 L1574.1,574.1 L1576.7,574.1 L1579.2,574.2 L1581.8,574.2 L1584.4,574.2 L1586.9,574.2 L1589.5,574.3 L1592.1,574.3 L1594.7,574.3 L1597.2,574.3 L1599.8,574.4 L1602.4,574.4 L1604.9,574.4 L1607.5,574.4 L1610.1,574.5 L1612.7,574.5 L1615.2,574.5 L1617.8,574.5 L1620.4,574.5 L1622.9,574.5 L1625.5,574.5 L1628.1,574.5 L1630.7,574.6 L1633.2,574.6 L1635.8,574.6 L1638.4,574.6 L1640.9,574.6 L1643.4,574.6 L1645.9,574.6 L1648.4,574.6 L1651.0,574.6 L1653.5,574.6 L1656.0,574.6 L1658.5,574.6 L1661.0,574.6 L1663.5,574.6 L1666.1,574.6 L1668.6,574.6 L1671.1,574.6 L1673.6,574.6 L1676.1,574.6 L1678.6,574.6 L1681.2,574.6 L1683.7,574.6 L1686.2,574.6 L1688.7,574.6 L1691.2,574.6 L1693.7,574.6 L1696.2,574.6 L1698.8,574.6 L1701.3,574.6 L1703.8,574.6 L1706.3,574.6 L1708.8,574.6 L1711.3,574.6 L1713.9,574.6 L1716.4,574.6 L1718.9,574.6 L1721.4,574.6 L1723.9,574.6 L1726.4,574.6 L1729.0,574.6 L1731.5,574.6 L1734.0,574.6 L1736.5,574.6 L1739.0,574.6 L1741.5,574.6 L1744.0,574.6 L1746.6,574.6 L1749.1,574.6 L1751.6,574.6 L1754.1,574.6 L1756.6,574.6 L1759.1,574.6 L1761.7,574.6 L1764.2,574.6 L1766.7,574.6 L1769.2,574.6 L1771.7,574.6 L1774.2,574.6 L1776.8,574.6 L1779.3,574.6 L1781.8,574.6 L1784.3,574.6 L1786.8,574.6 L1789.3,574.6 L1791.9,574.6 L1794.4,574.6 L1796.9,574.6 L1799.4,574.6 L1801.9,574.6 L1804.4,574.6 L1806.9,574.6 L1809.5,574.6 L1812.0,574.6 L1814.5,574.6 L1817.0,574.6 L1819.5,574.6 L1822.0,574.6 L1824.6,574.6 L1827.1,574.6 L1829.6,574.6 L1832.1,574.6 L1834.6,574.6 L1837.1,574.6 L1839.7,574.6 L1842.2,574.6 L1844.7,574.6 L1847.2,574.6 L1849.7,574.6 L1852.2,574.6 L1854.7,574.6 L1857.3,574.6 L1859.8,574.6 L1862.3,574.6 L1864.8,574.6 L1867.3,574.6 L1869.8,574.6 L1872.4,574.6 L1874.9,574.6 L1877.4,574.6 L1879.9,574.6 L1882.4,574.6 L1884.9,574.6 L1887.5,574.6 L1890.0,574.6 L1892.5,574.6 L1895.0,574.6 L1897.5,574.6 L1900.0,574.6 L1902.6,574.6 L1905.1,574.6 L1907.6,574.6 L1910.1,574.6 L1912.6,574.6 L1915.1,574.6 L1917.6,574.6 L1920.2,574.6 L1922.7,574.6 L1925.2,574.6 L1927.7,574.6 L1930.2,574.6 L1932.7,574.6 L1935.3,574.6 L1937.8,574.6 L1940.3,574.6 L1942.8,574.6 L1945.3,574.6 L1947.8,574.6 L1950.4,574.6 L1952.9,574.6 L1955.4,574.6 L1957.9,574.6 L1960.4,574.6 L1962.9,574.6 L1965.5,574.6 L1968.0,574.6 L1970.5,574.6 L1973.0,574.6 L1975.5,574.6 L1978.0,574.6 L1980.5,574.6 L1983.1,574.6 L1985.6,574.6" fill="none" stroke="#a52a2a" stroke-width="3.55" stroke-linejoin="round" stroke-linecap="butt"/>
<path d="M1152.3,32.5 L1152.9,35.2 L1153.4,37.9 L1153.9,40.6 L1154.4,43.4 L1154.8,46.1 L1155.2,48.8 L1155.5,51.5 L1155.9,54.2 L1156.2,56.9 L1156.5,59.6 L1156.7,62.3 L1157.0,65.0 L1157.2,67.7 L1157.4,70.4 L1157.6,73.2 L1157.8,75.9 L1158.0,78.6 L1158.2,81.3 L1158.4,84.0 L1158.5,86.7 L1158.7,89.3 L1158.9,91.9 L1159.0,94.5 L1159.2,97.0 L1159.4,99.6 L1159.5,102.2 L1159.7,104.8 L1159.8,107.4 L1159.9,109.9 L1160.1,112.5 L1160.2,115.1 L1160.4,117.7 L1160.5,120.3 L1160.6,122.8 L1160.8,125.4 L1160.9,128.0 L1161.1,130.6 L1161.2,133.2 L1161.3,135.8 L1161.5,138.3 L1161.6,140.9 L1161.7,143.5 L1161.9,146.1 L1162.0,148.7 L1162.2,151.2 L1162.3,153.8 L1162.4,156.4 L1162.6,159.0 L1162.7,161.6 L1162.9,164.1 L1163.0,166.7 L1163.1,169.3 L1163.3,171.9 L1163.4,174.5 L1163.5,177.1 L1163.7,179.6 L1163.8,182.2 L1163.9,184.8 L1164.1,187.4 L1164.2,190.0 L1164.3,192.5 L1164.5,195.1 L1164.6,197.7 L1164.7,200.3 L1164.8,202.9 L1165.0,205.4 L1165.1,208.0 L1165.2,210.6 L1165.3,213.2 L1165.5,215.8 L1165.6,218.4 L1165.7,220.9 L1165.8,223.5 L1166.0,226.1 L1166.1,228.7 L1166.2,231.3 L1166.3,233.8 L1166.4,236.4 L1166.5,239.0 L1166.6,241.6 L1166.7,244.2 L1166.8,246.7 L1166.9,249.3 L1167.0,251.9 L1167.0,254.5 L1167.1,257.1 L1167.2,259.7 L1167.3,262.2 L1167.3,264.8 L1167.4,267.4 L1167.5,270.0 L1167.5,272.6 L1167.6,275.1 L1167.7,277.7 L1167.7,280.3 L1167.8,282.9 L1167.8,285.5 L1167.9,288.0 L1168.0,290.6 L1168.0,293.2 L1168.1,295.8 L1168.1,298.4 L1168.2,301.0 L1168.3,303.5 L1168.3,306.1 L1168.4,308.7 L1168.5,311.3 L1168.5,313.9 L1168.6,316.4 L1168.6,319.0 L1168.7,321.6 L1168.7,324.2 L1168.8,326.8 L1168.8,329.4 L1168.9,331.9 L1169.0,334.5 L1169.0,337.1 L1169.1,339.7 L1169.2,342.3 L1169.2,344.8 L1169.3,347.4 L1169.4,350.0 L1169.5,352.6 L1169.6,355.2 L1169.7,357.7 L1169.8,360.3 L1169.9,362.8 L1170.1,365.4 L1170.2,367.9 L1170.4,370.5 L1170.6,373.0 L1170.8,375.6 L1171.1,378.1 L1171.3,380.7 L1171.5,383.2 L1171.8,385.8 L1172.0,388.3 L1172.3,390.9 L1172.5,393.4 L1172.8,396.0 L1173.0,398.5 L1173.2,401.0 L1173.4,403.6 L1173.6,406.1 L1173.8,408.7 L1174.0,411.2 L1174.2,413.7 L1174.3,416.2 L1174.5,418.7 L1174.6,421.2 L1174.8,423.7 L1174.9,426.2 L1175.0,428.7 L1175.2,431.2 L1175.3,433.7 L1175.4,436.2 L1175.6,438.7 L1175.7,441.2 L1175.8,443.7 L1176.0,446.2 L1176.1,448.7 L1176.3,451.2 L1176.4,453.7 L1176.6,456.2 L1176.8,458.7 L1176.9,461.2 L1177.1,463.7 L1177.3,466.1 L1177.5,469.0 L1177.8,471.8 L1178.1,474.6 L1178.4,477.4 L1178.7,480.2 L1178.9,483.0 L1179.1,485.7 L1179.3,488.4 L1179.5,491.1 L1179.6,493.8 L1179.8,496.5 L1180.0,499.2 L1180.2,501.9 L1180.4,504.6 L1180.7,507.2 L1180.9,509.7 L1181.2,512.3 L1181.4,514.8 L1181.7,517.4 L1182.0,519.9 L1182.3,522.5 L1182.6,525.0 L1183.0,527.6 L1183.3,530.1 L1183.7,532.7 L1184.1,535.2 L1184.5,537.7 L1185.0,540.4 L1185.5,543.1 L1186.0,545.8 L1186.6,548.5 L1187.2,551.1 L1187.9,553.8 L1188.7,556.3 L1189.5,558.8 L1190.5,561.1 L1191.7,563.4 L1193.0,565.6 L1194.5,567.7 L1196.0,569.7 L1199.5,572.9 L1201.9,574.0 L1204.4,574.6 L1206.8,574.6 L1209.2,574.6 L1211.6,574.6 L1214.0,574.6 L1216.5,574.6 L1218.9,574.6 L1221.3,574.6 L1223.7,574.6 L1226.1,574.6 L1228.6,574.6 L1231.0,574.6 L1233.4,574.6 L1235.8,574.6 L1238.2,574.6 L1240.7,574.6 L1243.1,574.6 L1245.5,574.6 L1247.9,574.6 L1250.3,574.6 L1252.8,574.6 L1255.2,574.6 L1257.6,574.6 L1260.0,574.6 L1262.5,574.6 L1264.9,574.6 L1267.3,574.6 L1269.7,574.6 L1272.2,574.6 L1274.6,574.6 L1277.0,574.6 L1279.4,574.6 L1281.9,574.6 L1284.3,574.6 L1286.7,574.6 L1289.2,574.6 L1291.6,574.6 L1294.0,574.6 L1296.4,574.6 L1298.9,574.6 L1301.3,574.6 L1303.7,574.6 L1306.2,574.6 L1308.6,574.6 L1311.0,574.6 L1313.5,574.6 L1315.9,574.6 L1318.3,574.6 L1320.8,574.6 L1323.2,574.6 L1325.6,574.6 L1328.1,574.6 L1330.5,574.6 L1332.9,574.6 L1335.4,574.6 L1337.8,574.6 L1340.2,574.6 L1342.7,574.6 L1345.1,574.6 L1347.6,574.6 L1350.0,574.6 L1352.4,574.6 L1354.9,574.6 L1357.3,574.6 L1359.7,574.6 L1362.2,574.6 L1364.6,574.6 L1367.1,574.6 L1369.5,574.6 L1372.0,574.6 L1374.4,574.6 L1376.8,574.6 L1379.3,574.6 L1381.7,574.6 L1384.2,574.6 L1386.6,574.6 L1389.1,574.6 L1391.5,574.6 L1394.0,574.6 L1396.4,574.6 L1398.9,574.6 L1401.3,574.6 L1403.8,574.6 L1406.2,574.6 L1408.7,574.6 L1411.1,574.6 L1413.6,574.6 L1416.0,574.6 L1418.5,574.6 L1420.9,574.6 L1423.4,574.6 L1425.8,574.6 L1428.3,574.6 L1430.7,574.6 L1433.2,574.6 L1435.6,574.6 L1438.1,574.6 L1440.6,574.6 L1443.0,574.6 L1445.5,574.6 L1447.9,574.6 L1450.4,574.6 L1452.8,574.6 L1455.3,574.6 L1457.8,574.6 L1460.2,574.6 L1462.7,574.6 L1465.2,574.6 L1467.6,574.6 L1470.1,574.6 L1472.5,574.6 L1475.0,574.6 L1477.5,574.6 L1479.9,574.6 L1482.4,574.6 L1484.9,574.6 L1487.3,574.6 L1489.8,574.6 L1492.3,574.6 L1494.7,574.6 L1497.2,574.6 L1499.7,574.6 L1502.2,574.6 L1504.6,574.6 L1507.1,574.6 L1509.6,574.6 L1512.0,574.6 L1514.5,574.6 L1517.0,574.6 L1519.5,574.6 L1522.0,574.6 L1524.4,574.6 L1526.9,574.6 L1529.4,574.6 L1531.9,574.6 L1534.3,574.6 L1536.8,574.6 L1539.3,574.6 L1541.8,574.6 L1544.3,574.6 L1546.7,574.6 L1549.2,574.6 L1551.7,574.6 L1554.2,574.6 L1556.7,574.6 L1559.2,574.6 L1561.7,574.6 L1564.1,574.6 L1566.6,574.6 L1569.1,574.6 L1571.6,574.6 L1574.1,574.6 L1576.6,574.6 L1579.1,574.6 L1581.6,574.6 L1584.1,574.6 L1586.6,574.6 L1589.1,574.6 L1591.5,574.6 L1594.0,574.6 L1596.5,574.6 L1599.0,574.6 L1601.5,574.6 L1604.0,574.6 L1606.5,574.6 L1609.0,574.6 L1611.5,574.6 L1614.0,574.6 L1616.5,574.6 L1619.0,574.6 L1621.5,574.6 L1624.0,574.6 L1626.5,574.6 L1629.0,574.6 L1631.6,574.6 L1634.1,574.6 L1636.6,574.6 L1639.1,574.6 L1641.6,574.6 L1644.1,574.6 L1646.6,574.6 L1649.1,574.6 L1651.6,574.6 L1654.1,574.6 L1656.7,574.6 L1659.2,574.6 L1661.7,574.6 L1664.2,574.6 L1666.7,574.6 L1669.2,574.6 L1671.8,574.6 L1674.3,574.6 L1676.8,574.6 L1679.3,574.6 L1681.8,574.6 L1684.4,574.6 L1686.9,574.6 L1689.4,574.6 L1691.9,574.6 L1694.5,574.6 L1697.0,574.6 L1699.5,574.6 L1702.0,574.6 L1704.6,574.6 L1707.1,574.6 L1709.6,574.6 L1712.2,574.6 L1714.7,574.6 L1717.2,574.6 L1719.8,574.6 L1722.3,574.6 L1724.8,574.6 L1727.4,574.6 L1729.9,574.6 L1732.4,574.6 L1735.0,574.6 L1737.5,574.6 L1740.0,574.6 L1742.6,574.6 L1745.1,574.6 L1747.7,574.6 L1750.2,574.6 L1752.8,574.6 L1755.3,574.6 L1757.9,574.6 L1760.4,574.6 L1762.9,574.6 L1765.5,574.6 L1768.0,574.6 L1770.6,574.6 L1773.1,574.6 L1775.7,574.6 L1778.3,574.6 L1780.8,574.6 L1783.4,574.6 L1785.9,574.6 L1788.5,574.6 L1791.0,574.6 L1793.6,574.6 L1796.1,574.6 L1798.7,574.6 L1801.3,574.6 L1803.8,574.6 L1806.4,574.6 L1809.0,574.6 L1811.5,574.6 L1814.1,574.6 L1816.7,574.6 L1819.2,574.6 L1821.8,574.6 L1824.4,574.6 L1826.9,574.6 L1829.5,574.6 L1832.1,574.6 L1834.6,574.6 L1837.2,574.6 L1839.8,574.6 L1842.4,574.6 L1845.0,574.6 L1847.5,574.6 L1850.1,574.6 L1852.7,574.6 L1855.3,574.6 L1857.8,574.6 L1860.4,574.6 L1863.0,574.6 L1865.6,574.6 L1868.2,574.6 L1870.8,574.6 L1873.4,574.6 L1875.9,574.6 L1878.5,574.6 L1881.1,574.6 L1883.7,574.6 L1886.3,574.6 L1888.9,574.6 L1891.5,574.6 L1894.1,574.6 L1896.7,574.6 L1899.3,574.6 L1901.9,574.6 L1904.5,574.6 L1907.1,574.6 L1909.7,574.6 L1912.3,574.6 L1914.9,574.6 L1917.5,574.6 L1920.1,574.6 L1922.7,574.6 L1925.3,574.6 L1927.9,574.6 L1930.5,574.6 L1933.1,574.6 L1935.8,574.6 L1938.4,574.6 L1941.0,574.6 L1943.6,574.6 L1946.2,574.6 L1948.8,574.6 L1951.5,574.6 L1954.1,574.6 L1956.7,574.6 L1959.3,574.6 L1961.9,574.6 L1964.6,574.6 L1967.2,574.6 L1969.8,574.6 L1972.4,574.6 L1975.1,574.6 L1977.7,574.6 L1980.3,574.6 L1982.9,574.6 L1985.6,574.6" fill="none" stroke="#ffc0cb" stroke-width="3.55" stroke-linejoin="round" stroke-linecap="butt"/>
<path d="M1152.3,32.5 L1155.5,32.5 L1158.5,32.5 L1161.2,32.5 L1163.6,32.5 L1165.7,32.5 L1167.6,32.5 L1169.8,34.5 L1171.0,37.9 L1171.3,40.5 L1171.5,43.2 L1171.6,46.0 L1171.7,48.8 L1171.9,51.3 L1172.0,53.8 L1172.1,56.4 L1172.2,58.9 L1172.2,61.4 L1172.3,64.0 L1172.4,66.5 L1172.5,69.0 L1172.5,71.5 L1172.6,74.1 L1172.7,76.6 L1172.8,79.1 L1172.9,81.7 L1173.0,84.2 L1173.1,86.7 L1173.3,89.3 L1173.4,91.9 L1173.6,94.5 L1173.9,97.0 L1174.1,99.6 L1174.3,102.2 L1174.6,104.8 L1174.9,107.4 L1175.1,109.9 L1175.4,112.5 L1175.7,115.1 L1176.0,117.7 L1176.2,120.3 L1176.5,122.8 L1176.8,125.4 L1177.0,128.0 L1177.2,130.6 L1177.5,133.2 L1177.7,135.8 L1177.8,138.3 L1178.0,140.9 L1178.1,143.5 L1178.3,146.1 L1178.4,148.7 L1178.5,151.2 L1178.6,153.8 L1178.7,156.4 L1178.8,159.0 L1178.9,161.6 L1179.0,164.1 L1179.1,166.7 L1179.2,169.3 L1179.3,171.9 L1179.4,174.5 L1179.5,177.0 L1179.6,179.6 L1179.7,182.2 L1179.8,184.8 L1179.8,187.4 L1179.9,190.0 L1180.0,192.5 L1180.1,195.1 L1180.2,197.7 L1180.2,200.3 L1180.3,202.9 L1180.4,205.4 L1180.4,208.0 L1180.5,210.6 L1180.6,213.2 L1180.6,215.8 L1180.7,218.4 L1180.7,220.9 L1180.8,223.5 L1180.9,226.1 L1180.9,228.7 L1181.0,231.3 L1181.0,233.8 L1181.1,236.4 L1181.2,239.0 L1181.2,241.6 L1181.3,244.2 L1181.4,246.7 L1181.5,249.3 L1181.5,251.9 L1181.6,254.5 L1181.7,257.1 L1181.8,259.7 L1181.9,262.2 L1182.0,264.8 L1182.1,267.4 L1182.2,270.0 L1182.3,272.6 L1182.5,275.1 L1182.6,277.7 L1182.7,280.3 L1182.8,282.9 L1182.9,285.5 L1183.0,288.0 L1183.1,290.6 L1183.2,293.2 L1183.3,295.8 L1183.4,298.4 L1183.5,301.0 L1183.5,303.5 L1183.6,306.1 L1183.7,308.7 L1183.8,311.3 L1183.8,313.9 L1183.9,316.4 L1184.0,319.0 L1184.0,321.6 L1184.1,324.2 L1184.2,326.8 L1184.2,329.3 L1184.3,331.9 L1184.3,334.5 L1184.4,337.1 L1184.5,339.7 L1184.5,342.3 L1184.6,344.8 L1184.6,347.4 L1184.7,350.0 L1184.8,352.6 L1184.9,355.2 L1184.9,357.7 L1185.0,360.3 L1185.1,362.9 L1185.2,365.5 L1185.3,368.1 L1185.4,370.6 L1185.5,373.2 L1185.5,375.8 L1185.6,378.4 L1185.7,381.0 L1185.8,383.6 L1185.9,386.1 L1186.0,388.7 L1186.1,391.3 L1186.3,393.9 L1186.4,396.5 L1186.5,399.0 L1186.6,401.6 L1186.7,404.2 L1186.8,406.8 L1186.9,409.4 L1187.0,411.9 L1187.1,414.5 L1187.3,417.1 L1187.4,419.7 L1187.5,422.3 L1187.6,424.9 L1187.8,427.4 L1187.9,430.0 L1188.0,432.6 L1188.2,435.2 L1188.3,437.8 L1188.4,440.3 L1188.6,442.9 L1188.7,445.5 L1188.9,448.1 L1189.0,450.7 L1189.1,453.2 L1189.3,455.8 L1189.4,458.4 L1189.5,461.0 L1189.7,463.6 L1189.8,466.1 L1189.9,469.0 L1190.1,471.8 L1190.2,474.6 L1190.3,477.4 L1190.5,480.2 L1190.6,483.0 L1190.8,485.7 L1190.9,488.4 L1191.1,491.1 L1191.3,493.8 L1191.4,496.5 L1191.6,499.2 L1191.7,501.9 L1191.9,504.6 L1192.0,507.2 L1192.1,509.7 L1192.3,512.3 L1192.4,514.8 L1192.5,517.4 L1192.6,519.9 L1192.7,522.5 L1192.8,525.0 L1193.0,527.5 L1193.1,530.1 L1193.3,532.6 L1193.4,535.2 L1193.6,537.7 L1193.8,540.4 L1194.1,543.2 L1194.3,545.9 L1194.6,548.7 L1195.0,551.4 L1195.3,554.1 L1195.7,556.8 L1196.2,559.5 L1196.7,562.1 L1197.4,564.8 L1198.4,567.5 L1199.5,570.0 L1200.9,572.1 L1204.4,574.6 L1206.6,574.6 L1208.7,574.6 L1210.9,574.6 L1213.1,574.6 L1215.3,574.6 L1217.5,574.6 L1219.7,574.6 L1221.9,574.6 L1224.1,574.6 L1226.3,574.6 L1228.5,574.6 L1230.7,574.6 L1232.8,574.6 L1235.0,574.6 L1237.2,574.6 L1239.4,574.6 L1241.7,574.6 L1243.9,574.6 L1246.1,574.6 L1248.3,574.6 L1250.5,574.6 L1252.7,574.6 L1254.9,574.6 L1257.1,574.6 L1259.3,574.6 L1261.5,574.6 L1263.8,574.6 L1266.0,574.6 L1268.2,574.6 L1270.4,574.6 L1272.6,574.6 L1274.9,574.6 L1277.1,574.6 L1279.3,574.6 L1281.5,574.6 L1283.8,574.6 L1286.0,574.6 L1288.2,574.6 L1290.5,574.6 L1292.7,574.6 L1295.0,574.6 L1297.2,574.6 L1299.4,574.6 L1301.7,574.6 L1303.9,574.6 L1306.2,574.6 L1308.4,574.6 L1310.7,574.6 L1312.9,574.6 L1315.2,574.6 L1317.4,574.6 L1319.7,574.6 L1321.9,574.6 L1324.2,574.6 L1326.5,574.6 L1328.7,574.6 L1331.0,574.6 L1333.2,574.6 L1335.5,574.6 L1337.8,574.6 L1340.1,574.6 L1342.3,574.6 L1344.6,574.6 L1346.9,574.6 L1349.2,574.6 L1351.4,574.6 L1353.7,574.6 L1356.0,574.6 L1358.3,574.6 L1360.6,574.6 L1362.9,574.6 L1365.1,574.6 L1367.4,574.6 L1369.7,574.6 L1372.0,574.6 L1374.3,574.6 L1376.6,574.6 L1378.9,574.6 L1381.2,574.6 L1383.5,574.6 L1385.8,574.6 L1388.1,574.6 L1390.5,574.6 L1392.8,574.6 L1395.1,574.6 L1397.4,574.6 L1399.7,574.6 L1402.0,574.6 L1404.4,574.6 L1406.7,574.6 L1409.0,574.6 L1411.3,574.6 L1413.7,574.6 L1416.0,574.6 L1418.3,574.6 L1420.7,574.6 L1423.0,574.6 L1425.3,574.6 L1427.7,574.6 L1430.0,574.6 L1432.4,574.6 L1434.7,574.6 L1437.1,574.6 L1439.4,574.6 L1441.8,574.6 L1444.1,574.6 L1446.5,574.6 L1448.9,574.6 L1451.2,574.6 L1453.6,574.6 L1455.9,574.6 L1458.3,574.6 L1460.7,574.6 L1463.1,574.6 L1465.4,574.6 L1467.8,574.6 L1470.2,574.6 L1472.6,574.6 L1475.0,574.6 L1477.3,574.6 L1479.7,574.6 L1482.1,574.6 L1484.5,574.6 L1486.9,574.6 L1489.3,574.6 L1491.7,574.6 L1494.1,574.6 L1496.5,574.6 L1498.9,574.6 L1501.3,574.6 L1503.7,574.6 L1506.2,574.6 L1508.6,574.6 L1511.0,574.6 L1513.4,574.6 L1515.8,574.6 L1518.2,574.6 L1520.7,574.6 L1523.1,574.6 L1525.5,574.6 L1528.0,574.6 L1530.4,574.6 L1532.8,574.6 L1535.3,574.6 L1537.7,574.6 L1540.2,574.6 L1542.6,574.6 L1545.1,574.6 L1547.5,574.6 L1550.0,574.6 L1552.4,574.6 L1554.9,574.6 L1557.4,574.6 L1559.8,574.6 L1562.3,574.6 L1564.8,574.6 L1567.2,574.6 L1569.7,574.6 L1572.2,574.6 L1574.7,574.6 L1577.2,574.6 L1579.6,574.6 L1582.1,574.6 L1584.6,574.6 L1587.1,574.6 L1589.6,574.6 L1592.1,574.6 L1594.6,574.6 L1597.1,574.6 L1599.6,574.6 L1602.1,574.6 L1604.6,574.6 L1607.1,574.6 L1609.7,574.6 L1612.2,574.6 L1614.7,574.6 L1617.2,574.6 L1619.7,574.6 L1622.3,574.6 L1624.8,574.6 L1627.3,574.6 L1629.9,574.6 L1632.4,574.6 L1635.0,574.6 L1637.5,574.6 L1640.1,574.6 L1642.6,574.6 L1645.2,574.6 L1647.7,574.6 L1650.3,574.6 L1652.8,574.6 L1655.4,574.6 L1658.0,574.6 L1660.5,574.6 L1663.1,574.6 L1665.7,574.6 L1668.3,574.6 L1670.8,574.6 L1673.4,574.6 L1676.0,574.6 L1678.6,574.6 L1681.2,574.6 L1683.8,574.6 L1686.4,574.6 L1689.0,574.6 L1691.6,574.6 L1694.2,574.6 L1696.8,574.6 L1699.4,574.6 L1702.0,574.6 L1704.7,574.6 L1707.3,574.6 L1709.9,574.6 L1712.5,574.6 L1715.2,574.6 L1717.8,574.6 L1720.4,574.6 L1723.1,574.6 L1725.7,574.6 L1728.4,574.6 L1731.0,574.6 L1733.7,574.6 L1736.3,574.6 L1739.0,574.6 L1741.6,574.6 L1744.3,574.6 L1747.0,574.6 L1749.6,574.6 L1752.3,574.6 L1755.0,574.6 L1757.7,574.6 L1760.3,574.6 L1763.0,574.6 L1765.7,574.6 L1768.4,574.6 L1771.1,574.6 L1773.8,574.6 L1776.5,574.6 L1779.2,574.6 L1781.9,574.6 L1784.6,574.6 L1787.3,574.6 L1790.0,574.6 L1792.8,574.6 L1795.5,574.6 L1798.2,574.6 L1800.9,574.6 L1803.7,574.6 L1806.4,574.6 L1809.1,574.6 L1811.9,574.6 L1814.6,574.6 L1817.4,574.6 L1820.1,574.6 L1822.9,574.6 L1825.6,574.6 L1828.4,574.6 L1831.2,574.6 L1833.9,574.6 L1836.7,574.6 L1839.5,574.6 L1842.3,574.6 L1845.0,574.6 L1847.8,574.6 L1850.6,574.6 L1853.4,574.6 L1856.2,574.6 L1859.0,574.6 L1861.8,574.6 L1864.6,574.6 L1867.4,574.6 L1870.2,574.6 L1873.0,574.6 L1875.9,574.6 L1878.7,574.6 L1881.5,574.6 L1884.3,574.6 L1887.2,574.6 L1890.0,574.6 L1892.8,574.6 L1895.7,574.6 L1898.5,574.6 L1901.4,574.6 L1904.2,574.6 L1907.1,574.6 L1910.0,574.6 L1912.8,574.6 L1915.7,574.6 L1918.6,574.6 L1921.4,574.6 L1924.3,574.6 L1927.2,574.6 L1930.1,574.6 L1933.0,574.6 L1935.9,574.6 L1938.7,574.6 L1941.6,574.6 L1944.6,574.6 L1947.5,574.6 L1950.4,574.6 L1953.3,574.6 L1956.2,574.6 L1959.1,574.6 L1962.0,574.6 L1965.0,574.6 L1967.9,574.6 L1970.8,574.6 L1973.8,574.6 L1976.7,574.6 L1979.7,574.6 L1982.6,574.6 L1985.6,574.6" fill="none" stroke="#ffa500" stroke-width="3.55" stroke-linejoin="round" stroke-linecap="butt"/>
<path d="M1152.3,32.5 L1155.2,32.5 L1158.1,32.5 L1160.9,32.5 L1163.7,32.5 L1166.5,32.5 L1169.2,32.5 L1172.0,32.5 L1174.7,32.5 L1177.3,32.5 L1180.0,32.5 L1182.6,32.5 L1185.2,32.5 L1187.8,32.5 L1190.3,32.5 L1192.9,32.5 L1195.4,32.5 L1197.9,32.5 L1200.3,32.5 L1202.8,32.5 L1205.2,32.5 L1207.6,32.5 L1210.0,32.5 L1212.4,32.5 L1214.8,32.5 L1217.1,32.5 L1219.5,32.5 L1221.8,32.5 L1224.1,32.5 L1226.4,32.5 L1228.7,32.5 L1232.2,34.7 L1233.9,36.5 L1235.4,38.5 L1236.8,40.7 L1238.2,42.9 L1239.8,45.0 L1241.6,47.0 L1243.4,49.0 L1245.4,50.9 L1247.4,52.6 L1249.6,53.9 L1252.0,55.2 L1254.4,56.4 L1257.0,57.6 L1259.7,58.8 L1262.0,60.2 L1263.7,61.7 L1265.2,63.5 L1266.6,65.4 L1268.0,67.6 L1269.2,69.8 L1270.4,72.2 L1271.6,74.6 L1272.7,77.1 L1273.8,79.6 L1275.0,82.0 L1276.1,84.4 L1277.3,86.7 L1278.7,89.4 L1280.1,92.1 L1281.2,94.4 L1282.4,96.8 L1283.5,99.1 L1284.6,101.5 L1285.8,103.8 L1287.0,106.1 L1288.3,108.2 L1289.7,110.3 L1291.2,112.2 L1293.1,114.1 L1295.3,115.8 L1297.6,117.5 L1300.0,119.2 L1302.3,120.9 L1304.5,122.7 L1306.7,124.6 L1308.9,126.6 L1311.1,128.4 L1313.4,130.1 L1315.6,131.4 L1317.8,132.7 L1320.2,133.9 L1322.5,135.1 L1324.8,136.2 L1327.1,137.4 L1329.4,138.8 L1331.8,140.2 L1334.1,141.7 L1336.5,143.3 L1338.8,144.9 L1341.1,146.6 L1343.3,148.3 L1345.3,150.1 L1347.2,152.0 L1349.0,154.0 L1350.6,156.2 L1352.2,158.4 L1353.8,160.6 L1355.4,162.8 L1357.1,165.0 L1358.8,167.1 L1360.6,169.1 L1363.1,171.3 L1365.5,173.4 L1367.3,175.5 L1369.1,177.6 L1370.7,179.8 L1372.4,182.1 L1374.0,184.4 L1375.5,186.7 L1377.1,189.0 L1378.7,191.3 L1380.2,193.6 L1381.7,195.8 L1383.2,198.1 L1384.6,200.4 L1386.1,202.7 L1387.5,205.0 L1389.0,207.3 L1390.4,209.6 L1391.9,211.9 L1393.3,214.2 L1394.7,216.4 L1396.1,218.6 L1397.5,220.8 L1399.0,223.0 L1400.3,225.3 L1401.7,227.5 L1403.0,229.8 L1404.2,232.0 L1405.3,234.3 L1406.3,236.6 L1407.4,238.9 L1408.4,241.2 L1409.5,243.4 L1410.7,245.6 L1412.0,247.7 L1413.5,249.7 L1415.2,251.7 L1417.0,253.5 L1418.9,255.4 L1420.7,257.3 L1422.4,259.2 L1423.8,261.3 L1425.2,263.6 L1426.5,266.1 L1427.8,268.6 L1429.0,271.2 L1430.1,273.9 L1431.1,276.5 L1432.1,279.1 L1433.1,281.7 L1433.9,284.3 L1434.7,286.9 L1435.5,289.6 L1436.2,292.2 L1437.0,294.9 L1437.7,297.4 L1438.4,299.9 L1439.0,302.5 L1439.7,305.0 L1440.4,307.5 L1441.2,310.0 L1442.0,312.5 L1443.0,314.9 L1444.0,317.3 L1445.1,319.7 L1446.1,322.0 L1447.1,324.4 L1448.1,326.8 L1449.1,329.3 L1450.0,331.8 L1450.9,334.3 L1451.9,336.8 L1452.8,339.3 L1453.7,341.8 L1454.6,344.3 L1455.4,346.8 L1456.3,349.3 L1457.1,351.8 L1457.9,354.2 L1458.7,356.5 L1459.5,358.9 L1460.3,361.3 L1461.1,363.7 L1461.8,366.1 L1462.6,368.5 L1463.3,370.9 L1464.1,373.3 L1464.8,375.7 L1465.5,378.1 L1466.2,380.5 L1466.9,383.0 L1467.5,385.4 L1468.2,387.9 L1468.8,390.3 L1469.5,392.8 L1470.1,395.3 L1470.7,397.7 L1471.3,400.2 L1471.9,402.7 L1472.5,405.1 L1473.1,407.6 L1473.7,410.1 L1474.3,412.5 L1475.0,415.0 L1475.6,417.4 L1476.2,419.9 L1476.8,422.3 L1477.4,424.8 L1477.9,427.3 L1478.4,429.8 L1478.9,432.2 L1479.4,434.7 L1479.8,437.2 L1480.1,439.8 L1480.4,442.3 L1480.8,444.8 L1481.1,447.4 L1481.4,449.9 L1481.9,452.5 L1482.3,455.2 L1482.8,457.9 L1483.2,460.5 L1483.7,463.1 L1484.2,465.8 L1484.7,468.4 L1485.1,471.1 L1485.6,473.7 L1486.1,476.3 L1486.5,478.8 L1487.0,481.3 L1487.4,483.9 L1487.9,486.4 L1488.3,488.9 L1488.8,491.5 L1489.2,494.0 L1489.7,496.5 L1490.1,499.1 L1490.6,501.6 L1491.1,504.1 L1491.6,506.6 L1492.1,509.2 L1492.6,511.7 L1493.1,514.4 L1493.6,517.0 L1494.1,519.7 L1494.6,522.4 L1495.1,525.1 L1495.6,527.8 L1496.2,530.5 L1496.7,533.2 L1497.4,535.8 L1498.1,538.4 L1498.8,541.0 L1499.6,543.5 L1500.5,546.1 L1501.4,548.8 L1502.5,551.4 L1503.6,553.9 L1504.9,556.2 L1506.3,558.2 L1507.8,559.9 L1509.7,561.2 L1512.0,562.2 L1514.5,563.2 L1516.9,564.3 L1519.1,565.7 L1521.3,567.4 L1523.6,568.9 L1525.9,570.0 L1528.4,570.6 L1531.0,571.1 L1533.7,571.5 L1536.4,571.9 L1539.2,572.3 L1541.9,572.7 L1544.5,573.1 L1547.1,573.6 L1549.8,574.1 L1552.4,574.4 L1555.1,574.6 L1557.5,574.6 L1560.0,574.6 L1562.5,574.6 L1565.0,574.6 L1567.5,574.6 L1570.0,574.6 L1572.5,574.6 L1574.9,574.6 L1577.4,574.6 L1579.9,574.6 L1582.4,574.6 L1584.9,574.6 L1587.4,574.6 L1589.9,574.6 L1592.4,574.6 L1594.8,574.6 L1597.3,574.6 L1599.8,574.6 L1602.3,574.6 L1604.8,574.6 L1607.3,574.6 L1609.8,574.6 L1612.3,574.6 L1614.8,574.6 L1617.2,574.6 L1619.7,574.6 L1622.2,574.6 L1624.7,574.6 L1627.2,574.6 L1629.7,574.6 L1632.2,574.6 L1634.7,574.6 L1637.2,574.6 L1639.7,574.6 L1642.1,574.6 L1644.6,574.6 L1647.1,574.6 L1649.6,574.6 L1652.1,574.6 L1654.6,574.6 L1657.1,574.6 L1659.6,574.6 L1662.1,574.6 L1664.6,574.6 L1667.1,574.6 L1669.6,574.6 L1672.0,574.6 L1674.5,574.6 L1677.0,574.6 L1679.5,574.6 L1682.0,574.6 L1684.5,574.6 L1687.0,574.6 L1689.5,574.6 L1692.0,574.6 L1694.5,574.6 L1697.0,574.6 L1699.5,574.6 L1702.0,574.6 L1704.5,574.6 L1707.0,574.6 L1709.5,574.6 L1712.0,574.6 L1714.5,574.6 L1717.0,574.6 L1719.4,574.6 L1721.9,574.6 L1724.4,574.6 L1726.9,574.6 L1729.4,574.6 L1731.9,574.6 L1734.4,574.6 L1736.9,574.6 L1739.4,574.6 L1741.9,574.6 L1744.4,574.6 L1746.9,574.6 L1749.4,574.6 L1751.9,574.6 L1754.4,574.6 L1756.9,574.6 L1759.4,574.6 L1761.9,574.6 L1764.4,574.6 L1766.9,574.6 L1769.4,574.6 L1771.9,574.6 L1774.4,574.6 L1776.9,574.6 L1779.4,574.6 L1781.9,574.6 L1784.4,574.6 L1786.9,574.6 L1789.4,574.6 L1791.9,574.6 L1794.4,574.6 L1797.0,574.6 L1799.5,574.6 L1802.0,574.6 L1804.5,574.6 L1807.0,574.6 L1809.5,574.6 L1812.0,574.6 L1814.5,574.6 L1817.0,574.6 L1819.5,574.6 L1822.0,574.6 L1824.5,574.6 L1827.0,574.6 L1829.5,574.6 L1832.0,574.6 L1834.5,574.6 L1837.0,574.6 L1839.6,574.6 L1842.1,574.6 L1844.6,574.6 L1847.1,574.6 L1849.6,574.6 L1852.1,574.6 L1854.6,574.6 L1857.1,574.6 L1859.6,574.6 L1862.1,574.6 L1864.7,574.6 L1867.2,574.6 L1869.7,574.6 L1872.2,574.6 L1874.7,574.6 L1877.2,574.6 L1879.7,574.6 L1882.2,574.6 L1884.8,574.6 L1887.3,574.6 L1889.8,574.6 L1892.3,574.6 L1894.8,574.6 L1897.3,574.6 L1899.8,574.6 L1902.4,574.6 L1904.9,574.6 L1907.4,574.6 L1909.9,574.6 L1912.4,574.6 L1914.9,574.6 L1917.5,574.6 L1920.0,574.6 L1922.5,574.6 L1925.0,574.6 L1927.5,574.6 L1930.1,574.6 L1932.6,574.6 L1935.1,574.6 L1937.6,574.6 L1940.1,574.6 L1942.7,574.6 L1945.2,574.6 L1947.7,574.6 L1950.2,574.6 L1952.8,574.6 L1955.3,574.6 L1957.8,574.6 L1960.3,574.6 L1962.8,574.6 L1965.4,574.6 L1967.9,574.6 L1970.4,574.6 L1972.9,574.6 L1975.5,574.6 L1978.0,574.6 L1980.5,574.6 L1983.1,574.6 L1985.6,574.6" fill="none" stroke="#ff7f50" stroke-width="3.55" stroke-linejoin="round" stroke-linecap="butt"/>
<path d="M1152.3,32.5 L1155.2,32.5 L1158.0,32.5 L1160.7,32.5 L1163.3,32.5 L1165.9,32.5 L1168.4,32.5 L1170.8,32.5 L1173.2,32.5 L1175.5,32.5 L1177.8,32.5 L1180.1,32.5 L1183.2,34.7 L1184.0,37.0 L1184.6,39.9 L1185.0,43.0 L1185.3,46.1 L1185.4,48.6 L1185.6,51.1 L1185.7,53.6 L1185.8,56.2 L1185.9,58.7 L1186.0,61.2 L1186.1,63.8 L1186.2,66.3 L1186.2,68.9 L1186.3,71.4 L1186.4,74.0 L1186.4,76.5 L1186.5,79.1 L1186.5,81.6 L1186.6,84.2 L1186.7,86.7 L1186.7,89.3 L1186.8,91.9 L1186.9,94.5 L1186.9,97.0 L1187.0,99.6 L1187.1,102.2 L1187.1,104.8 L1187.2,107.4 L1187.2,109.9 L1187.3,112.5 L1187.3,115.1 L1187.4,117.7 L1187.4,120.3 L1187.5,122.9 L1187.5,125.4 L1187.6,128.0 L1187.7,130.6 L1187.7,133.2 L1187.8,135.8 L1187.9,138.3 L1187.9,140.9 L1188.0,143.4 L1188.1,146.0 L1188.1,148.5 L1188.2,151.0 L1188.3,153.5 L1188.4,156.0 L1188.4,158.6 L1188.5,161.1 L1188.6,163.6 L1188.7,166.1 L1188.8,168.7 L1188.9,171.2 L1189.0,173.7 L1189.1,176.2 L1189.1,178.7 L1189.2,181.3 L1189.3,183.8 L1189.4,186.3 L1189.5,188.8 L1189.6,191.3 L1189.7,193.9 L1189.8,196.4 L1189.9,198.9 L1190.0,201.4 L1190.1,203.9 L1190.2,206.5 L1190.3,209.0 L1190.4,211.5 L1190.5,214.0 L1190.5,216.6 L1190.6,219.1 L1190.7,221.6 L1190.8,224.1 L1190.9,226.6 L1191.0,229.2 L1191.1,231.7 L1191.2,234.2 L1191.3,236.7 L1191.3,239.2 L1191.4,241.8 L1191.5,244.3 L1191.6,246.8 L1191.7,249.3 L1191.7,251.9 L1191.8,254.4 L1191.9,256.9 L1192.0,259.4 L1192.0,261.9 L1192.1,264.5 L1192.2,267.0 L1192.3,269.5 L1192.3,272.0 L1192.4,274.5 L1192.5,277.1 L1192.5,279.6 L1192.6,282.1 L1192.7,284.6 L1192.7,287.1 L1192.8,289.7 L1192.9,292.2 L1192.9,294.7 L1193.0,297.2 L1193.1,299.8 L1193.1,302.3 L1193.2,304.8 L1193.3,307.3 L1193.3,309.8 L1193.4,312.4 L1193.5,314.9 L1193.5,317.4 L1193.6,319.9 L1193.7,322.4 L1193.7,325.0 L1193.8,327.5 L1193.9,330.0 L1193.9,332.5 L1194.0,335.1 L1194.1,337.6 L1194.1,340.1 L1194.2,342.6 L1194.3,345.1 L1194.4,347.7 L1194.4,350.2 L1194.5,352.7 L1194.6,355.2 L1194.7,357.7 L1194.7,360.3 L1194.8,362.8 L1194.9,365.3 L1195.0,367.8 L1195.1,370.3 L1195.2,372.9 L1195.3,375.4 L1195.4,377.9 L1195.5,380.4 L1195.6,383.0 L1195.7,385.5 L1195.8,388.0 L1195.9,390.5 L1196.0,393.0 L1196.1,395.6 L1196.2,398.1 L1196.3,400.6 L1196.4,403.1 L1196.5,405.6 L1196.6,408.2 L1196.7,410.7 L1196.8,413.2 L1196.9,415.7 L1197.0,418.2 L1197.1,420.8 L1197.2,423.3 L1197.3,425.8 L1197.4,428.3 L1197.5,430.8 L1197.5,433.4 L1197.6,435.9 L1197.7,438.4 L1197.8,440.9 L1197.9,443.5 L1198.0,446.0 L1198.0,448.5 L1198.1,451.0 L1198.2,453.5 L1198.3,456.1 L1198.3,458.6 L1198.4,461.1 L1198.4,463.6 L1198.5,466.1 L1198.5,468.7 L1198.6,471.3 L1198.6,473.9 L1198.7,476.4 L1198.7,479.0 L1198.7,481.6 L1198.8,484.1 L1198.8,486.7 L1198.9,489.3 L1198.9,491.8 L1198.9,494.4 L1199.0,497.0 L1199.0,499.5 L1199.0,502.1 L1199.0,504.7 L1199.1,507.2 L1199.1,509.8 L1199.1,512.4 L1199.2,514.9 L1199.2,517.4 L1199.2,519.9 L1199.2,522.4 L1199.3,524.9 L1199.3,527.4 L1199.3,530.0 L1199.3,532.5 L1199.3,535.0 L1199.4,537.5 L1199.4,540.0 L1199.4,542.5 L1199.5,545.0 L1199.5,547.5 L1199.6,550.2 L1199.8,552.9 L1200.0,555.6 L1200.3,558.3 L1200.6,561.0 L1200.9,563.7 L1201.4,566.8 L1202.0,569.8 L1203.0,572.4 L1205.8,574.6 L1207.9,574.6 L1210.0,574.6 L1212.2,574.6 L1214.3,574.6 L1216.4,574.6 L1218.6,574.6 L1220.7,574.6 L1222.8,574.6 L1225.0,574.6 L1227.1,574.6 L1229.3,574.6 L1231.4,574.6 L1233.6,574.6 L1235.7,574.6 L1237.9,574.6 L1240.0,574.6 L1242.2,574.6 L1244.3,574.6 L1246.5,574.6 L1248.6,574.6 L1250.8,574.6 L1252.9,574.6 L1255.1,574.6 L1257.3,574.6 L1259.4,574.6 L1261.6,574.6 L1263.8,574.6 L1266.0,574.6 L1268.1,574.6 L1270.3,574.6 L1272.5,574.6 L1274.7,574.6 L1276.8,574.6 L1279.0,574.6 L1281.2,574.6 L1283.4,574.6 L1285.6,574.6 L1287.8,574.6 L1290.0,574.6 L1292.2,574.6 L1294.3,574.6 L1296.5,574.6 L1298.7,574.6 L1300.9,574.6 L1303.1,574.6 L1305.4,574.6 L1307.6,574.6 L1309.8,574.6 L1312.0,574.6 L1314.2,574.6 L1316.4,574.6 L1318.6,574.6 L1320.8,574.6 L1323.1,574.6 L1325.3,574.6 L1327.5,574.6 L1329.7,574.6 L1332.0,574.6 L1334.2,574.6 L1336.4,574.6 L1338.7,574.6 L1340.9,574.6 L1343.1,574.6 L1345.4,574.6 L1347.6,574.6 L1349.9,574.6 L1352.1,574.6 L1354.4,574.6 L1356.6,574.6 L1358.9,574.6 L1361.1,574.6 L1363.4,574.6 L1365.6,574.6 L1367.9,574.6 L1370.2,574.6 L1372.4,574.6 L1374.7,574.6 L1377.0,574.6 L1379.2,574.6 L1381.5,574.6 L1383.8,574.6 L1386.1,574.6 L1388.3,574.6 L1390.6,574.6 L1392.9,574.6 L1395.2,574.6 L1397.5,574.6 L1399.8,574.6 L1402.1,574.6 L1404.4,574.6 L1406.7,574.6 L1409.0,574.6 L1411.3,574.6 L1413.6,574.6 L1415.9,574.6 L1418.2,574.6 L1420.5,574.6 L1422.8,574.6 L1425.2,574.6 L1427.5,574.6 L1429.8,574.6 L1432.1,574.6 L1434.5,574.6 L1436.8,574.6 L1439.1,574.6 L1441.5,574.6 L1443.8,574.6 L1446.1,574.6 L1448.5,574.6 L1450.8,574.6 L1453.2,574.6 L1455.5,574.6 L1457.9,574.6 L1460.2,574.6 L1462.6,574.6 L1465.0,574.6 L1467.3,574.6 L1469.7,574.6 L1472.1,574.6 L1474.4,574.6 L1476.8,574.6 L1479.2,574.6 L1481.6,574.6 L1483.9,574.6 L1486.3,574.6 L1488.7,574.6 L1491.1,574.6 L1493.5,574.6 L1495.9,574.6 L1498.3,574.6 L1500.7,574.6 L1503.1,574.6 L1505.5,574.6 L1507.9,574.6 L1510.3,574.6 L1512.7,574.6 L1515.1,574.6 L1517.6,574.6 L1520.0,574.6 L1522.4,574.6 L1524.8,574.6 L1527.3,574.6 L1529.7,574.6 L1532.1,574.6 L1534.6,574.6 L1537.0,574.6 L1539.5,574.6 L1541.9,574.6 L1544.4,574.6 L1546.8,574.6 L1549.3,574.6 L1551.7,574.6 L1554.2,574.6 L1556.7,574.6 L1559.1,574.6 L1561.6,574.6 L1564.1,574.6 L1566.5,574.6 L1569.0,574.6 L1571.5,574.6 L1574.0,574.6 L1576.5,574.6 L1579.0,574.6 L1581.5,574.6 L1584.0,574.6 L1586.5,574.6 L1589.0,574.6 L1591.5,574.6 L1594.0,574.6 L1596.5,574.6 L1599.0,574.6 L1601.5,574.6 L1604.0,574.6 L1606.6,574.6 L1609.1,574.6 L1611.6,574.6 L1614.2,574.6 L1616.7,574.6 L1619.2,574.6 L1621.8,574.6 L1624.3,574.6 L1626.9,574.6 L1629.4,574.6 L1632.0,574.6 L1634.5,574.6 L1637.1,574.6 L1639.7,574.6 L1642.2,574.6 L1644.8,574.6 L1647.4,574.6 L1650.0,574.6 L1652.5,574.6 L1655.1,574.6 L1657.7,574.6 L1660.3,574.6 L1662.9,574.6 L1665.5,574.6 L1668.1,574.6 L1670.7,574.6 L1673.3,574.6 L1675.9,574.6 L1678.5,574.6 L1681.2,574.6 L1683.8,574.6 L1686.4,574.6 L1689.0,574.6 L1691.7,574.6 L1694.3,574.6 L1696.9,574.6 L1699.6,574.6 L1702.2,574.6 L1704.9,574.6 L1707.5,574.6 L1710.2,574.6 L1712.8,574.6 L1715.5,574.6 L1718.2,574.6 L1720.8,574.6 L1723.5,574.6 L1726.2,574.6 L1728.9,574.6 L1731.5,574.6 L1734.2,574.6 L1736.9,574.6 L1739.6,574.6 L1742.3,574.6 L1745.0,574.6 L1747.7,574.6 L1750.4,574.6 L1753.1,574.6 L1755.8,574.6 L1758.6,574.6 L1761.3,574.6 L1764.0,574.6 L1766.7,574.6 L1769.5,574.6 L1772.2,574.6 L1775.0,574.6 L1777.7,574.6 L1780.5,574.6 L1783.2,574.6 L1786.0,574.6 L1788.7,574.6 L1791.5,574.6 L1794.2,574.6 L1797.0,574.6 L1799.8,574.6 L1802.6,574.6 L1805.4,574.6 L1808.1,574.6 L1810.9,574.6 L1813.7,574.6 L1816.5,574.6 L1819.3,574.6 L1822.1,574.6 L1824.9,574.6 L1827.7,574.6 L1830.6,574.6 L1833.4,574.6 L1836.2,574.6 L1839.0,574.6 L1841.9,574.6 L1844.7,574.6 L1847.5,574.6 L1850.4,574.6 L1853.2,574.6 L1856.1,574.6 L1858.9,574.6 L1861.8,574.6 L1864.7,574.6 L1867.5,574.6 L1870.4,574.6 L1873.3,574.6 L1876.2,574.6 L1879.0,574.6 L1881.9,574.6 L1884.8,574.6 L1887.7,574.6 L1890.6,574.6 L1893.5,574.6 L1896.4,574.6 L1899.3,574.6 L1902.2,574.6 L1905.2,574.6 L1908.1,574.6 L1911.0,574.6 L1914.0,574.6 L1916.9,574.6 L1919.8,574.6 L1922.8,574.6 L1925.7,574.6 L1928.7,574.6 L1931.6,574.6 L1934.6,574.6 L1937.6,574.6 L1940.5,574.6 L1943.5,574.6 L1946.5,574.6 L1949.5,574.6 L1952.4,574.6 L1955.4,574.6 L1958.4,574.6 L1961.4,574.6 L1964.4,574.6 L1967.4,574.6 L1970.5,574.6 L1973.5,574.6 L1976.5,574.6 L1979.5,574.6 L1982.5,574.6 L1985.6,574.6" fill="none" stroke="#00ee00" stroke-width="3.55" stroke-linejoin="round" stroke-linecap="butt"/>
<path d="M1152.3,32.5 L1156.0,32.5 L1159.5,32.5 L1162.9,32.5 L1166.0,32.5 L1168.9,32.5 L1171.5,32.5 L1173.9,32.5 L1175.9,32.5 L1177.7,32.5 L1179.1,32.5 L1180.1,32.5 L1180.9,33.3 L1181.6,35.5 L1182.3,38.6 L1182.8,42.1 L1183.2,45.7 L1183.5,48.8 L1183.8,51.3 L1184.1,53.8 L1184.4,56.3 L1184.6,58.8 L1184.8,61.4 L1185.0,63.9 L1185.2,66.4 L1185.4,69.0 L1185.6,71.5 L1185.7,74.0 L1185.9,76.6 L1186.0,79.1 L1186.1,81.6 L1186.2,84.2 L1186.3,86.7 L1186.4,89.3 L1186.5,91.9 L1186.6,94.5 L1186.7,97.0 L1186.7,99.6 L1186.8,102.2 L1186.9,104.8 L1186.9,107.4 L1187.0,109.9 L1187.1,112.5 L1187.1,115.1 L1187.2,117.7 L1187.2,120.3 L1187.3,122.8 L1187.3,125.4 L1187.4,128.0 L1187.4,130.6 L1187.5,133.2 L1187.6,135.8 L1187.6,138.3 L1187.7,140.9 L1187.8,143.4 L1187.9,146.0 L1187.9,148.5 L1188.0,151.0 L1188.1,153.5 L1188.2,156.0 L1188.3,158.6 L1188.4,161.1 L1188.5,163.6 L1188.6,166.1 L1188.6,168.7 L1188.7,171.2 L1188.8,173.7 L1188.9,176.2 L1189.0,178.7 L1189.1,181.3 L1189.2,183.8 L1189.3,186.3 L1189.4,188.8 L1189.5,191.3 L1189.6,193.9 L1189.7,196.4 L1189.8,198.9 L1189.9,201.4 L1190.0,203.9 L1190.1,206.5 L1190.2,209.0 L1190.3,211.5 L1190.4,214.0 L1190.5,216.6 L1190.6,219.1 L1190.7,221.6 L1190.8,224.1 L1190.9,226.6 L1191.0,229.2 L1191.1,231.7 L1191.2,234.2 L1191.3,236.7 L1191.3,239.2 L1191.4,241.8 L1191.5,244.3 L1191.6,246.8 L1191.7,249.3 L1191.8,251.9 L1191.8,254.4 L1191.9,256.9 L1192.0,259.4 L1192.1,261.9 L1192.1,264.5 L1192.2,267.0 L1192.3,269.5 L1192.3,272.0 L1192.4,274.5 L1192.5,277.1 L1192.5,279.6 L1192.6,282.1 L1192.7,284.6 L1192.7,287.1 L1192.8,289.7 L1192.9,292.2 L1192.9,294.7 L1193.0,297.2 L1193.1,299.8 L1193.1,302.3 L1193.2,304.8 L1193.3,307.3 L1193.3,309.8 L1193.4,312.4 L1193.4,314.9 L1193.5,317.4 L1193.6,319.9 L1193.6,322.4 L1193.7,325.0 L1193.8,327.5 L1193.8,330.0 L1193.9,332.5 L1194.0,335.1 L1194.1,337.6 L1194.1,340.1 L1194.2,342.6 L1194.3,345.1 L1194.3,347.7 L1194.4,350.2 L1194.5,352.7 L1194.6,355.2 L1194.7,357.7 L1194.7,360.3 L1194.8,362.8 L1194.9,365.3 L1195.0,367.8 L1195.1,370.3 L1195.2,372.9 L1195.2,375.4 L1195.3,377.9 L1195.4,380.4 L1195.5,383.0 L1195.6,385.5 L1195.7,388.0 L1195.8,390.5 L1195.9,393.0 L1196.0,395.6 L1196.0,398.1 L1196.1,400.6 L1196.2,403.1 L1196.3,405.6 L1196.4,408.2 L1196.5,410.7 L1196.6,413.2 L1196.7,415.7 L1196.8,418.3 L1196.9,420.8 L1197.0,423.3 L1197.1,425.8 L1197.2,428.3 L1197.3,430.9 L1197.4,433.4 L1197.5,435.9 L1197.6,438.4 L1197.7,440.9 L1197.8,443.5 L1197.9,446.0 L1198.1,448.5 L1198.2,451.0 L1198.3,453.5 L1198.4,456.1 L1198.5,458.6 L1198.6,461.1 L1198.7,463.6 L1198.8,466.1 L1199.0,469.0 L1199.1,471.8 L1199.3,474.6 L1199.4,477.4 L1199.5,480.2 L1199.6,482.7 L1199.7,485.2 L1199.7,487.7 L1199.8,490.2 L1199.8,492.8 L1199.9,495.3 L1199.9,497.8 L1199.9,500.3 L1200.0,502.8 L1200.0,505.3 L1200.1,507.8 L1200.1,510.3 L1200.2,512.8 L1200.3,515.3 L1200.4,517.9 L1200.4,520.4 L1200.5,523.0 L1200.6,525.5 L1200.7,528.1 L1200.8,530.6 L1200.9,533.2 L1201.0,535.7 L1201.1,538.3 L1201.3,540.8 L1201.4,543.3 L1201.6,545.8 L1201.9,548.6 L1202.3,551.5 L1202.9,554.3 L1203.5,557.1 L1204.2,559.8 L1205.0,562.6 L1205.8,565.3 L1206.5,568.1 L1207.4,570.8 L1208.5,572.9 L1211.3,574.6 L1213.6,574.6 L1215.9,574.6 L1218.1,574.6 L1220.4,574.6 L1222.7,574.6 L1224.9,574.6 L1227.2,574.6 L1229.5,574.6 L1231.8,574.6 L1234.0,574.6 L1236.3,574.6 L1238.6,574.6 L1240.9,574.6 L1243.1,574.6 L1245.4,574.6 L1247.7,574.6 L1250.0,574.6 L1252.3,574.6 L1254.6,574.6 L1256.8,574.6 L1259.1,574.6 L1261.4,574.6 L1263.7,574.6 L1266.0,574.6 L1268.3,574.6 L1270.6,574.6 L1272.9,574.6 L1275.2,574.6 L1277.4,574.6 L1279.7,574.6 L1282.0,574.6 L1284.3,574.6 L1286.6,574.6 L1288.9,574.6 L1291.2,574.6 L1293.5,574.6 L1295.8,574.6 L1298.1,574.6 L1300.4,574.6 L1302.8,574.6 L1305.1,574.6 L1307.4,574.6 L1309.7,574.6 L1312.0,574.6 L1314.3,574.6 L1316.6,574.6 L1318.9,574.6 L1321.2,574.6 L1323.6,574.6 L1325.9,574.6 L1328.2,574.6 L1330.5,574.6 L1332.8,574.6 L1335.2,574.6 L1337.5,574.6 L1339.8,574.6 L1342.1,574.6 L1344.5,574.6 L1346.8,574.6 L1349.1,574.6 L1351.5,574.6 L1353.8,574.6 L1356.1,574.6 L1358.5,574.6 L1360.8,574.6 L1363.1,574.6 L1365.5,574.6 L1367.8,574.6 L1370.2,574.6 L1372.5,574.6 L1374.8,574.6 L1377.2,574.6 L1379.5,574.6 L1381.9,574.6 L1384.2,574.6 L1386.6,574.6 L1388.9,574.6 L1391.3,574.6 L1393.7,574.6 L1396.0,574.6 L1398.4,574.6 L1400.7,574.6 L1403.1,574.6 L1405.5,574.6 L1407.8,574.6 L1410.2,574.6 L1412.6,574.6 L1414.9,574.6 L1417.3,574.6 L1419.7,574.6 L1422.0,574.6 L1424.4,574.6 L1426.8,574.6 L1429.2,574.6 L1431.5,574.6 L1433.9,574.6 L1436.3,574.6 L1438.7,574.6 L1441.1,574.6 L1443.5,574.6 L1445.8,574.6 L1448.2,574.6 L1450.6,574.6 L1453.0,574.6 L1455.4,574.6 L1457.8,574.6 L1460.2,574.6 L1462.6,574.6 L1465.0,574.6 L1467.4,574.6 L1469.8,574.6 L1472.2,574.6 L1474.6,574.6 L1477.0,574.6 L1479.4,574.6 L1481.9,574.6 L1484.3,574.6 L1486.7,574.6 L1489.1,574.6 L1491.5,574.6 L1493.9,574.6 L1496.4,574.6 L1498.8,574.6 L1501.2,574.6 L1503.6,574.6 L1506.1,574.6 L1508.5,574.6 L1510.9,574.6 L1513.4,574.6 L1515.8,574.6 L1518.2,574.6 L1520.7,574.6 L1523.1,574.6 L1525.5,574.6 L1528.0,574.6 L1530.4,574.6 L1532.9,574.6 L1535.3,574.6 L1537.8,574.6 L1540.2,574.6 L1542.7,574.6 L1545.1,574.6 L1547.6,574.6 L1550.1,574.6 L1552.5,574.6 L1555.0,574.6 L1557.5,574.6 L1559.9,574.6 L1562.4,574.6 L1564.9,574.6 L1567.3,574.6 L1569.8,574.6 L1572.3,574.6 L1574.8,574.6 L1577.2,574.6 L1579.7,574.6 L1582.2,574.6 L1584.7,574.6 L1587.2,574.6 L1589.7,574.6 L1592.2,574.6 L1594.7,574.6 L1597.1,574.6 L1599.6,574.6 L1602.1,574.6 L1604.6,574.6 L1607.1,574.6 L1609.7,574.6 L1612.2,574.6 L1614.7,574.6 L1617.2,574.6 L1619.7,574.6 L1622.2,574.6 L1624.7,574.6 L1627.2,574.6 L1629.8,574.6 L1632.3,574.6 L1634.8,574.6 L1637.3,574.6 L1639.9,574.6 L1642.4,574.6 L1644.9,574.6 L1647.5,574.6 L1650.0,574.6 L1652.5,574.6 L1655.1,574.6 L1657.6,574.6 L1660.2,574.6 L1662.7,574.6 L1665.3,574.6 L1667.8,574.6 L1670.4,574.6 L1672.9,574.6 L1675.5,574.6 L1678.1,574.6 L1680.6,574.6 L1683.2,574.6 L1685.8,574.6 L1688.3,574.6 L1690.9,574.6 L1693.5,574.6 L1696.0,574.6 L1698.6,574.6 L1701.2,574.6 L1703.8,574.6 L1706.4,574.6 L1709.0,574.6 L1711.5,574.6 L1714.1,574.6 L1716.7,574.6 L1719.3,574.6 L1721.9,574.6 L1724.5,574.6 L1727.1,574.6 L1729.7,574.6 L1732.3,574.6 L1734.9,574.6 L1737.6,574.6 L1740.2,574.6 L1742.8,574.6 L1745.4,574.6 L1748.0,574.6 L1750.6,574.6 L1753.3,574.6 L1755.9,574.6 L1758.5,574.6 L1761.2,574.6 L1763.8,574.6 L1766.4,574.6 L1769.1,574.6 L1771.7,574.6 L1774.4,574.6 L1777.0,574.6 L1779.6,574.6 L1782.3,574.6 L1785.0,574.6 L1787.6,574.6 L1790.3,574.6 L1792.9,574.6 L1795.6,574.6 L1798.3,574.6 L1800.9,574.6 L1803.6,574.6 L1806.3,574.6 L1808.9,574.6 L1811.6,574.6 L1814.3,574.6 L1817.0,574.6 L1819.7,574.6 L1822.4,574.6 L1825.0,574.6 L1827.7,574.6 L1830.4,574.6 L1833.1,574.6 L1835.8,574.6 L1838.5,574.6 L1841.2,574.6 L1844.0,574.6 L1846.7,574.6 L1849.4,574.6 L1852.1,574.6 L1854.8,574.6 L1857.5,574.6 L1860.3,574.6 L1863.0,574.6 L1865.7,574.6 L1868.4,574.6 L1871.2,574.6 L1873.9,574.6 L1876.6,574.6 L1879.4,574.6 L1882.1,574.6 L1884.9,574.6 L1887.6,574.6 L1890.4,574.6 L1893.1,574.6 L1895.9,574.6 L1898.7,574.6 L1901.4,574.6 L1904.2,574.6 L1907.0,574.6 L1909.7,574.6 L1912.5,574.6 L1915.3,574.6 L1918.1,574.6 L1920.8,574.6 L1923.6,574.6 L1926.4,574.6 L1929.2,574.6 L1932.0,574.6 L1934.8,574.6 L1937.6,574.6 L1940.4,574.6 L1943.2,574.6 L1946.0,574.6 L1948.8,574.6 L1951.6,574.6 L1954.4,574.6 L1957.2,574.6 L1960.1,574.6 L1962.9,574.6 L1965.7,574.6 L1968.5,574.6 L1971.4,574.6 L1974.2,574.6 L1977.1,574.6 L1979.9,574.6 L1982.7,574.6 L1985.6,574.6" fill="none" stroke="#b883ff" stroke-width="3.55" stroke-linejoin="round" stroke-linecap="butt"/>
<path d="M1152.3,32.5 L1155.3,32.5 L1158.0,32.5 L1160.6,32.5 L1164.1,34.7 L1165.1,36.4 L1166.0,38.5 L1166.8,40.8 L1167.5,43.2 L1168.0,45.8 L1168.5,48.5 L1169.0,51.2 L1169.5,53.9 L1169.9,56.5 L1170.4,59.1 L1170.8,61.6 L1171.2,64.1 L1171.7,66.6 L1172.0,69.1 L1172.4,71.6 L1172.8,74.1 L1173.1,76.6 L1173.5,79.2 L1173.8,81.7 L1174.2,84.2 L1174.5,86.7 L1174.9,89.3 L1175.3,91.9 L1175.6,94.5 L1176.0,97.0 L1176.4,99.6 L1176.7,102.2 L1177.1,104.8 L1177.4,107.4 L1177.8,110.0 L1178.1,112.5 L1178.5,115.1 L1178.8,117.7 L1179.2,120.3 L1179.5,122.9 L1179.9,125.4 L1180.3,128.0 L1180.6,130.6 L1181.0,133.2 L1181.4,135.8 L1181.8,138.3 L1182.2,140.9 L1182.6,143.5 L1183.0,146.1 L1183.4,148.7 L1183.8,151.3 L1184.2,153.8 L1184.6,156.4 L1185.0,159.0 L1185.5,161.6 L1185.9,164.2 L1186.3,166.8 L1186.8,169.3 L1187.2,171.9 L1187.6,174.5 L1188.1,177.1 L1188.5,179.7 L1189.0,182.2 L1189.4,184.8 L1189.8,187.4 L1190.3,190.0 L1190.7,192.5 L1191.2,195.1 L1191.6,197.6 L1192.0,200.1 L1192.5,202.5 L1192.9,205.0 L1193.3,207.5 L1193.7,209.9 L1194.2,212.4 L1194.6,214.9 L1195.0,217.3 L1195.5,219.8 L1195.9,222.3 L1196.3,224.7 L1196.8,227.2 L1197.2,229.7 L1197.7,232.1 L1198.1,234.6 L1198.6,237.0 L1199.0,239.5 L1199.5,242.0 L1200.0,244.4 L1200.4,246.9 L1200.9,249.3 L1201.4,251.8 L1201.9,254.3 L1202.4,256.7 L1202.9,259.2 L1203.4,261.7 L1204.0,264.1 L1204.5,266.6 L1205.0,269.1 L1205.5,271.5 L1206.1,274.0 L1206.6,276.5 L1207.2,278.9 L1207.7,281.4 L1208.3,283.9 L1208.8,286.3 L1209.4,288.8 L1209.9,291.2 L1210.5,293.7 L1211.1,296.2 L1211.6,298.6 L1212.2,301.1 L1212.7,303.5 L1213.3,306.0 L1213.8,308.5 L1214.4,310.9 L1214.9,313.4 L1215.4,315.9 L1216.0,318.4 L1216.5,320.8 L1217.1,323.3 L1217.6,325.8 L1218.1,328.2 L1218.7,330.7 L1219.3,333.2 L1219.8,335.7 L1220.4,338.1 L1220.9,340.6 L1221.5,343.0 L1222.1,345.5 L1222.7,348.0 L1223.3,350.4 L1223.9,352.9 L1224.6,355.3 L1225.2,357.7 L1225.9,360.2 L1226.6,362.6 L1227.2,365.1 L1228.0,367.5 L1228.7,370.0 L1229.4,372.4 L1230.2,374.8 L1230.9,377.2 L1231.7,379.7 L1232.5,382.1 L1233.2,384.5 L1234.0,386.9 L1234.8,389.4 L1235.6,391.8 L1236.4,394.2 L1237.2,396.6 L1238.0,399.0 L1238.8,401.4 L1239.6,403.9 L1240.4,406.3 L1241.2,408.7 L1242.0,411.1 L1242.7,413.5 L1243.5,415.9 L1244.2,418.4 L1245.0,420.8 L1245.7,423.2 L1246.5,425.6 L1247.2,428.1 L1248.0,430.5 L1248.7,432.9 L1249.5,435.3 L1250.2,437.8 L1251.0,440.2 L1251.8,442.6 L1252.6,445.0 L1253.4,447.4 L1254.2,449.8 L1255.1,452.2 L1255.9,454.5 L1256.8,456.9 L1257.7,459.2 L1258.7,461.5 L1259.6,463.9 L1260.6,466.1 L1261.8,468.5 L1263.0,470.9 L1264.4,473.2 L1265.7,475.5 L1267.1,477.9 L1268.3,480.2 L1269.3,482.7 L1270.3,485.2 L1271.3,487.6 L1272.4,490.0 L1273.9,492.3 L1275.6,494.4 L1277.4,496.5 L1279.1,498.6 L1280.8,500.8 L1282.1,503.0 L1283.4,505.3 L1284.7,507.5 L1285.9,509.8 L1287.1,512.1 L1288.4,514.4 L1289.7,516.6 L1291.2,518.7 L1292.9,520.9 L1294.7,522.9 L1296.5,524.9 L1298.4,526.9 L1300.2,529.0 L1302.3,531.7 L1304.0,533.7 L1305.8,535.7 L1307.7,537.6 L1309.6,539.4 L1311.5,541.3 L1313.4,543.1 L1315.2,544.9 L1317.0,546.7 L1318.8,548.5 L1320.7,550.2 L1322.6,551.8 L1324.5,553.4 L1326.8,555.1 L1329.1,556.6 L1331.5,558.2 L1333.9,559.6 L1336.3,561.0 L1339.0,562.5 L1341.8,564.0 L1344.6,565.4 L1347.4,566.6 L1350.1,567.6 L1352.9,568.5 L1355.7,569.2 L1358.5,570.0 L1361.3,570.6 L1364.1,571.3 L1366.9,571.9 L1369.6,572.4 L1372.6,572.9 L1375.5,573.4 L1378.5,573.8 L1381.5,574.0 L1384.2,574.2 L1387.0,574.3 L1389.8,574.5 L1392.6,574.5 L1395.3,574.6 L1397.8,574.6 L1400.3,574.6 L1402.8,574.6 L1405.3,574.6 L1407.8,574.6 L1410.3,574.6 L1412.8,574.6 L1415.3,574.6 L1417.8,574.6 L1420.3,574.6 L1422.8,574.6 L1425.3,574.6 L1427.8,574.6 L1430.3,574.6 L1432.8,574.6 L1435.3,574.6 L1437.8,574.6 L1440.3,574.6 L1442.8,574.6 L1445.3,574.6 L1447.8,574.6 L1450.3,574.6 L1452.8,574.6 L1455.3,574.6 L1457.8,574.6 L1460.3,574.6 L1462.8,574.6 L1465.3,574.6 L1467.8,574.6 L1470.3,574.6 L1472.8,574.6 L1475.3,574.6 L1477.8,574.6 L1480.3,574.6 L1482.8,574.6 L1485.3,574.6 L1487.8,574.6 L1490.3,574.6 L1492.8,574.6 L1495.3,574.6 L1497.8,574.6 L1500.3,574.6 L1502.8,574.6 L1505.3,574.6 L1507.8,574.6 L1510.3,574.6 L1512.8,574.6 L1515.3,574.6 L1517.8,574.6 L1520.3,574.6 L1522.8,574.6 L1525.3,574.6 L1527.8,574.6 L1530.3,574.6 L1532.8,574.6 L1535.3,574.6 L1537.8,574.6 L1540.3,574.6 L1542.8,574.6 L1545.3,574.6 L1547.8,574.6 L1550.3,574.6 L1552.8,574.6 L1555.3,574.6 L1557.8,574.6 L1560.3,574.6 L1562.8,574.6 L1565.3,574.6 L1567.8,574.6 L1570.3,574.6 L1572.8,574.6 L1575.3,574.6 L1577.8,574.6 L1580.3,574.6 L1582.8,574.6 L1585.3,574.6 L1587.8,574.6 L1590.3,574.6 L1592.8,574.6 L1595.3,574.6 L1597.8,574.6 L1600.3,574.6 L1602.8,574.6 L1605.3,574.6 L1607.8,574.6 L1610.3,574.6 L1612.8,574.6 L1615.3,574.6 L1617.8,574.6 L1620.3,574.6 L1622.8,574.6 L1625.3,574.6 L1627.9,574.6 L1630.4,574.6 L1632.9,574.6 L1635.4,574.6 L1637.9,574.6 L1640.4,574.6 L1642.9,574.6 L1645.4,574.6 L1647.9,574.6 L1650.4,574.6 L1652.9,574.6 L1655.4,574.6 L1657.9,574.6 L1660.4,574.6 L1662.9,574.6 L1665.4,574.6 L1667.9,574.6 L1670.4,574.6 L1672.9,574.6 L1675.4,574.6 L1677.9,574.6 L1680.4,574.6 L1682.9,574.6 L1685.4,574.6 L1687.9,574.6 L1690.4,574.6 L1692.9,574.6 L1695.4,574.6 L1697.9,574.6 L1700.4,574.6 L1702.9,574.6 L1705.4,574.6 L1707.9,574.6 L1710.4,574.6 L1712.9,574.6 L1715.4,574.6 L1717.9,574.6 L1720.4,574.6 L1722.9,574.6 L1725.4,574.6 L1727.9,574.6 L1730.4,574.6 L1732.9,574.6 L1735.4,574.6 L1737.9,574.6 L1740.4,574.6 L1742.9,574.6 L1745.4,574.6 L1747.9,574.6 L1750.4,574.6 L1752.9,574.6 L1755.4,574.6 L1757.9,574.6 L1760.4,574.6 L1762.9,574.6 L1765.4,574.6 L1767.9,574.6 L1770.4,574.6 L1772.9,574.6 L1775.4,574.6 L1777.9,574.6 L1780.4,574.6 L1782.9,574.6 L1785.4,574.6 L1787.9,574.6 L1790.4,574.6 L1792.9,574.6 L1795.4,574.6 L1797.9,574.6 L1800.4,574.6 L1802.9,574.6 L1805.4,574.6 L1807.9,574.6 L1810.4,574.6 L1812.9,574.6 L1815.4,574.6 L1817.9,574.6 L1820.4,574.6 L1822.9,574.6 L1825.4,574.6 L1827.9,574.6 L1830.4,574.6 L1832.9,574.6 L1835.4,574.6 L1837.9,574.6 L1840.4,574.6 L1842.9,574.6 L1845.4,574.6 L1848.0,574.6 L1850.5,574.6 L1853.0,574.6 L1855.5,574.6 L1858.0,574.6 L1860.5,574.6 L1863.0,574.6 L1865.5,574.6 L1868.0,574.6 L1870.5,574.6 L1873.0,574.6 L1875.5,574.6 L1878.0,574.6 L1880.5,574.6 L1883.0,574.6 L1885.5,574.6 L1888.0,574.6 L1890.5,574.6 L1893.0,574.6 L1895.5,574.6 L1898.0,574.6 L1900.5,574.6 L1903.0,574.6 L1905.5,574.6 L1908.0,574.6 L1910.5,574.6 L1913.0,574.6 L1915.5,574.6 L1918.0,574.6 L1920.5,574.6 L1923.0,574.6 L1925.5,574.6 L1928.0,574.6 L1930.5,574.6 L1933.0,574.6 L1935.5,574.6 L1938.0,574.6 L1940.5,574.6 L1943.0,574.6 L1945.5,574.6 L1948.0,574.6 L1950.5,574.6 L1953.0,574.6 L1955.5,574.6 L1958.0,574.6 L1960.6,574.6 L1963.1,574.6 L1965.6,574.6 L1968.1,574.6 L1970.6,574.6 L1973.1,574.6 L1975.6,574.6 L1978.1,574.6 L1980.6,574.6 L1983.1,574.6 L1985.6,574.6" fill="none" stroke="#0000ff" stroke-width="3.55" stroke-linejoin="round" stroke-linecap="butt"/>
<path d="M1152.3,32.5 L1155.4,32.5 L1158.4,32.5 L1161.2,32.5 L1163.8,32.5 L1166.4,32.5 L1168.8,32.5 L1171.0,32.5 L1173.2,32.5 L1175.2,32.5 L1178.0,34.5 L1180.1,37.9 L1181.2,40.4 L1182.1,43.2 L1182.8,46.0 L1183.5,48.8 L1184.2,51.5 L1184.7,54.2 L1185.2,57.0 L1185.7,59.7 L1186.3,62.4 L1187.0,65.0 L1187.9,67.7 L1189.0,70.3 L1190.3,72.9 L1191.7,75.4 L1193.1,77.9 L1194.7,80.2 L1196.6,82.6 L1198.8,84.9 L1200.9,87.3 L1202.5,89.4 L1204.1,91.7 L1205.6,94.0 L1207.1,96.3 L1208.5,98.6 L1209.9,100.9 L1211.2,103.1 L1212.4,105.4 L1213.6,107.7 L1214.8,110.0 L1216.1,112.7 L1217.3,115.4 L1218.5,118.1 L1219.7,120.9 L1220.7,123.7 L1221.8,126.5 L1222.8,129.4 L1223.8,132.2 L1224.8,134.7 L1225.8,137.2 L1226.8,139.7 L1227.8,142.1 L1228.8,144.6 L1229.8,147.1 L1230.8,149.5 L1231.9,152.0 L1232.9,154.4 L1233.9,156.9 L1234.9,159.3 L1236.0,161.8 L1237.0,164.3 L1238.0,166.7 L1239.1,169.2 L1240.1,171.6 L1241.2,174.1 L1242.2,176.5 L1243.2,179.0 L1244.2,181.5 L1245.1,184.0 L1246.0,186.5 L1246.9,188.8 L1247.7,191.2 L1248.5,193.6 L1249.3,195.9 L1250.1,198.3 L1250.8,200.7 L1251.6,203.1 L1252.3,205.5 L1253.0,207.9 L1253.7,210.4 L1254.4,212.8 L1255.1,215.2 L1255.7,217.6 L1256.4,220.0 L1257.0,222.4 L1257.7,224.9 L1258.3,227.3 L1259.0,229.7 L1259.6,232.2 L1260.2,234.6 L1260.7,237.1 L1261.3,239.5 L1261.9,242.0 L1262.4,244.4 L1262.9,246.9 L1263.4,249.3 L1263.9,251.9 L1264.4,254.4 L1264.8,256.9 L1265.3,259.5 L1265.7,262.0 L1266.2,264.6 L1266.6,267.1 L1267.0,269.7 L1267.4,272.2 L1267.8,274.8 L1268.2,277.3 L1268.6,279.9 L1269.0,282.5 L1269.3,285.0 L1269.7,287.6 L1270.0,290.1 L1270.3,292.7 L1270.7,295.2 L1271.0,297.7 L1271.3,300.3 L1271.6,302.8 L1271.8,305.3 L1272.1,307.9 L1272.4,310.4 L1272.6,312.9 L1272.9,315.5 L1273.1,318.0 L1273.4,320.5 L1273.7,323.0 L1273.9,325.6 L1274.2,328.1 L1274.5,330.6 L1274.8,333.3 L1275.1,335.9 L1275.5,338.5 L1275.8,341.1 L1276.1,343.7 L1276.5,346.3 L1276.8,348.9 L1277.2,351.6 L1277.5,354.2 L1277.9,356.8 L1278.2,359.4 L1278.5,362.0 L1278.9,364.6 L1279.2,367.2 L1279.5,369.8 L1279.8,372.5 L1280.1,375.1 L1280.3,377.6 L1280.6,380.1 L1280.8,382.6 L1281.1,385.1 L1281.3,387.6 L1281.5,390.1 L1281.7,392.6 L1282.0,395.1 L1282.2,397.6 L1282.4,400.1 L1282.6,402.6 L1282.8,405.1 L1283.1,407.6 L1283.3,410.1 L1283.5,412.6 L1283.7,415.1 L1284.0,417.6 L1284.2,420.1 L1284.5,422.7 L1284.8,425.3 L1285.1,427.9 L1285.3,430.5 L1285.6,433.2 L1285.9,435.8 L1286.2,438.4 L1286.5,441.0 L1286.8,443.6 L1287.1,446.2 L1287.4,448.8 L1287.7,451.4 L1288.0,454.1 L1288.3,456.7 L1288.6,459.3 L1288.8,461.9 L1289.1,464.5 L1289.3,467.1 L1289.6,469.6 L1289.8,472.1 L1290.0,474.6 L1290.2,477.2 L1290.5,479.7 L1290.7,482.2 L1291.0,484.7 L1291.2,487.2 L1291.4,489.8 L1291.7,492.3 L1291.9,494.8 L1292.2,497.3 L1292.4,499.8 L1292.7,502.3 L1293.0,504.8 L1293.3,507.3 L1293.6,509.9 L1293.9,512.5 L1294.2,515.1 L1294.5,517.7 L1294.8,520.3 L1295.2,522.9 L1295.5,525.5 L1295.9,528.1 L1296.3,530.7 L1296.7,533.3 L1297.2,535.9 L1297.6,538.4 L1298.1,541.0 L1298.7,543.5 L1299.3,546.1 L1299.9,548.7 L1300.7,551.3 L1301.5,553.9 L1302.3,556.4 L1303.3,558.7 L1304.4,561.0 L1305.7,563.3 L1307.4,565.7 L1309.2,567.9 L1311.3,569.8 L1313.4,571.3 L1316.2,572.8 L1319.3,574.0 L1322.4,574.6 L1324.8,574.6 L1327.2,574.6 L1329.6,574.6 L1332.0,574.6 L1334.4,574.6 L1336.8,574.6 L1339.3,574.6 L1341.7,574.6 L1344.1,574.6 L1346.5,574.6 L1348.9,574.6 L1351.3,574.6 L1353.7,574.6 L1356.1,574.6 L1358.5,574.6 L1360.9,574.6 L1363.3,574.6 L1365.7,574.6 L1368.2,574.6 L1370.6,574.6 L1373.0,574.6 L1375.4,574.6 L1377.8,574.6 L1380.2,574.6 L1382.6,574.6 L1385.0,574.6 L1387.5,574.6 L1389.9,574.6 L1392.3,574.6 L1394.7,574.6 L1397.1,574.6 L1399.5,574.6 L1402.0,574.6 L1404.4,574.6 L1406.8,574.6 L1409.2,574.6 L1411.6,574.6 L1414.1,574.6 L1416.5,574.6 L1418.9,574.6 L1421.3,574.6 L1423.7,574.6 L1426.2,574.6 L1428.6,574.6 L1431.0,574.6 L1433.4,574.6 L1435.9,574.6 L1438.3,574.6 L1440.7,574.6 L1443.1,574.6 L1445.6,574.6 L1448.0,574.6 L1450.4,574.6 L1452.9,574.6 L1455.3,574.6 L1457.7,574.6 L1460.1,574.6 L1462.6,574.6 L1465.0,574.6 L1467.4,574.6 L1469.9,574.6 L1472.3,574.6 L1474.8,574.6 L1477.2,574.6 L1479.6,574.6 L1482.1,574.6 L1484.5,574.6 L1486.9,574.6 L1489.4,574.6 L1491.8,574.6 L1494.3,574.6 L1496.7,574.6 L1499.1,574.6 L1501.6,574.6 L1504.0,574.6 L1506.5,574.6 L1508.9,574.6 L1511.4,574.6 L1513.8,574.6 L1516.3,574.6 L1518.7,574.6 L1521.2,574.6 L1523.6,574.6 L1526.1,574.6 L1528.5,574.6 L1531.0,574.6 L1533.4,574.6 L1535.9,574.6 L1538.3,574.6 L1540.8,574.6 L1543.2,574.6 L1545.7,574.6 L1548.1,574.6 L1550.6,574.6 L1553.1,574.6 L1555.5,574.6 L1558.0,574.6 L1560.4,574.6 L1562.9,574.6 L1565.4,574.6 L1567.8,574.6 L1570.3,574.6 L1572.8,574.6 L1575.2,574.6 L1577.7,574.6 L1580.2,574.6 L1582.6,574.6 L1585.1,574.6 L1587.6,574.6 L1590.0,574.6 L1592.5,574.6 L1595.0,574.6 L1597.5,574.6 L1599.9,574.6 L1602.4,574.6 L1604.9,574.6 L1607.4,574.6 L1609.8,574.6 L1612.3,574.6 L1614.8,574.6 L1617.3,574.6 L1619.7,574.6 L1622.2,574.6 L1624.7,574.6 L1627.2,574.6 L1629.7,574.6 L1632.2,574.6 L1634.7,574.6 L1637.1,574.6 L1639.6,574.6 L1642.1,574.6 L1644.6,574.6 L1647.1,574.6 L1649.6,574.6 L1652.1,574.6 L1654.6,574.6 L1657.1,574.6 L1659.6,574.6 L1662.1,574.6 L1664.6,574.6 L1667.1,574.6 L1669.6,574.6 L1672.1,574.6 L1674.6,574.6 L1677.1,574.6 L1679.6,574.6 L1682.1,574.6 L1684.6,574.6 L1687.1,574.6 L1689.6,574.6 L1692.1,574.6 L1694.6,574.6 L1697.1,574.6 L1699.6,574.6 L1702.1,574.6 L1704.7,574.6 L1707.2,574.6 L1709.7,574.6 L1712.2,574.6 L1714.7,574.6 L1717.2,574.6 L1719.8,574.6 L1722.3,574.6 L1724.8,574.6 L1727.3,574.6 L1729.8,574.6 L1732.4,574.6 L1734.9,574.6 L1737.4,574.6 L1740.0,574.6 L1742.5,574.6 L1745.0,574.6 L1747.5,574.6 L1750.1,574.6 L1752.6,574.6 L1755.1,574.6 L1757.7,574.6 L1760.2,574.6 L1762.8,574.6 L1765.3,574.6 L1767.8,574.6 L1770.4,574.6 L1772.9,574.6 L1775.5,574.6 L1778.0,574.6 L1780.5,574.6 L1783.1,574.6 L1785.6,574.6 L1788.2,574.6 L1790.7,574.6 L1793.3,574.6 L1795.8,574.6 L1798.4,574.6 L1801.0,574.6 L1803.5,574.6 L1806.1,574.6 L1808.6,574.6 L1811.2,574.6 L1813.7,574.6 L1816.3,574.6 L1818.9,574.6 L1821.4,574.6 L1824.0,574.6 L1826.6,574.6 L1829.1,574.6 L1831.7,574.6 L1834.3,574.6 L1836.8,574.6 L1839.4,574.6 L1842.0,574.6 L1844.6,574.6 L1847.1,574.6 L1849.7,574.6 L1852.3,574.6 L1854.9,574.6 L1857.5,574.6 L1860.0,574.6 L1862.6,574.6 L1865.2,574.6 L1867.8,574.6 L1870.4,574.6 L1873.0,574.6 L1875.6,574.6 L1878.2,574.6 L1880.8,574.6 L1883.4,574.6 L1885.9,574.6 L1888.5,574.6 L1891.1,574.6 L1893.7,574.6 L1896.3,574.6 L1898.9,574.6 L1901.5,574.6 L1904.2,574.6 L1906.8,574.6 L1909.4,574.6 L1912.0,574.6 L1914.6,574.6 L1917.2,574.6 L1919.8,574.6 L1922.4,574.6 L1925.0,574.6 L1927.7,574.6 L1930.3,574.6 L1932.9,574.6 L1935.5,574.6 L1938.1,574.6 L1940.8,574.6 L1943.4,574.6 L1946.0,574.6 L1948.6,574.6 L1951.3,574.6 L1953.9,574.6 L1956.5,574.6 L1959.2,574.6 L1961.8,574.6 L1964.4,574.6 L1967.1,574.6 L1969.7,574.6 L1972.4,574.6 L1975.0,574.6 L1977.6,574.6 L1980.3,574.6 L1982.9,574.6 L1985.6,574.6" fill="none" stroke="#aaaaaa" stroke-width="3.55" stroke-linejoin="round" stroke-linecap="butt"/>
<path d="M1152.3,32.5 L1156.2,32.5 L1159.8,32.5 L1163.3,32.5 L1166.5,32.5 L1169.4,32.5 L1172.2,32.5 L1174.7,32.5 L1176.9,32.5 L1179.0,32.5 L1180.7,32.5 L1182.3,32.5 L1183.5,32.5 L1184.7,34.0 L1185.6,37.3 L1186.3,40.6 L1187.0,43.3 L1187.5,46.0 L1188.1,48.7 L1188.6,51.4 L1189.0,54.2 L1189.4,56.9 L1189.8,59.6 L1190.1,62.3 L1190.5,65.0 L1190.8,67.7 L1191.1,70.4 L1191.3,73.1 L1191.6,75.9 L1191.8,78.6 L1192.1,81.3 L1192.3,84.0 L1192.6,86.7 L1192.8,89.3 L1193.0,91.9 L1193.3,94.5 L1193.5,97.0 L1193.7,99.6 L1193.9,102.2 L1194.2,104.8 L1194.4,107.4 L1194.6,109.9 L1194.8,112.5 L1195.0,115.1 L1195.2,117.7 L1195.4,120.3 L1195.6,122.8 L1195.8,125.4 L1196.0,128.0 L1196.2,130.6 L1196.5,133.2 L1196.7,135.8 L1196.9,138.3 L1197.1,140.9 L1197.3,143.5 L1197.5,146.1 L1197.7,148.7 L1197.9,151.2 L1198.1,153.8 L1198.4,156.4 L1198.6,159.0 L1198.8,161.6 L1199.0,164.2 L1199.2,166.7 L1199.4,169.3 L1199.6,171.9 L1199.8,174.5 L1200.1,177.1 L1200.3,179.6 L1200.5,182.2 L1200.7,184.8 L1200.9,187.4 L1201.1,190.0 L1201.4,192.5 L1201.6,195.1 L1201.8,197.7 L1202.1,200.3 L1202.3,202.9 L1202.5,205.5 L1202.8,208.0 L1203.0,210.6 L1203.3,213.2 L1203.5,215.8 L1203.7,218.4 L1204.0,220.9 L1204.2,223.5 L1204.5,226.1 L1204.7,228.7 L1205.0,231.3 L1205.3,233.8 L1205.5,236.4 L1205.8,239.0 L1206.0,241.6 L1206.3,244.2 L1206.5,246.8 L1206.8,249.3 L1207.1,251.9 L1207.3,254.5 L1207.6,257.1 L1207.9,259.7 L1208.2,262.2 L1208.4,264.8 L1208.7,267.4 L1209.0,270.0 L1209.3,272.6 L1209.6,275.1 L1209.8,277.7 L1210.1,280.3 L1210.4,282.9 L1210.7,285.5 L1211.0,288.1 L1211.3,290.6 L1211.6,293.2 L1211.8,295.8 L1212.1,298.4 L1212.4,301.0 L1212.7,303.5 L1213.0,306.1 L1213.3,308.7 L1213.6,311.3 L1213.8,313.9 L1214.1,316.5 L1214.4,319.0 L1214.7,321.6 L1214.9,324.2 L1215.2,326.8 L1215.5,329.4 L1215.8,332.0 L1216.1,334.5 L1216.4,337.1 L1216.7,339.7 L1217.0,342.3 L1217.3,344.9 L1217.6,347.4 L1217.9,350.0 L1218.3,352.6 L1218.6,355.2 L1219.0,357.7 L1219.3,360.2 L1219.7,362.7 L1220.1,365.2 L1220.5,367.6 L1220.9,370.1 L1221.3,372.6 L1221.8,375.0 L1222.2,377.5 L1222.7,379.9 L1223.1,382.4 L1223.6,384.9 L1224.1,387.3 L1224.6,389.8 L1225.0,392.2 L1225.5,394.7 L1226.0,397.2 L1226.4,399.6 L1226.9,402.1 L1227.4,404.6 L1227.8,407.0 L1228.3,409.5 L1228.7,411.9 L1229.1,414.5 L1229.5,417.1 L1230.0,419.7 L1230.4,422.3 L1230.7,424.9 L1231.1,427.5 L1231.5,430.1 L1231.9,432.7 L1232.3,435.3 L1232.7,437.9 L1233.1,440.5 L1233.5,443.0 L1233.9,445.6 L1234.3,448.2 L1234.7,450.8 L1235.2,453.4 L1235.6,455.9 L1236.1,458.5 L1236.6,461.1 L1237.2,463.6 L1237.7,466.1 L1238.4,469.0 L1239.2,471.8 L1240.1,474.6 L1241.0,477.4 L1241.9,480.2 L1242.7,482.7 L1243.5,485.1 L1244.3,487.6 L1245.1,490.0 L1246.0,492.5 L1246.8,494.9 L1247.7,497.3 L1248.5,499.8 L1249.4,502.2 L1250.2,504.6 L1251.0,507.1 L1251.8,509.5 L1252.6,512.0 L1253.4,514.5 L1254.2,516.9 L1255.0,519.4 L1255.9,521.8 L1256.7,524.2 L1257.6,526.6 L1258.5,529.0 L1259.6,531.6 L1260.7,534.2 L1261.8,536.8 L1263.0,539.4 L1264.2,541.9 L1265.5,544.4 L1266.8,546.8 L1268.3,549.1 L1269.8,551.4 L1271.5,553.7 L1273.3,556.0 L1275.2,558.2 L1277.2,560.3 L1279.3,562.1 L1281.5,563.7 L1283.9,565.1 L1286.5,566.3 L1289.2,567.4 L1292.0,568.5 L1294.7,569.7 L1298.1,571.3 L1300.8,572.2 L1303.6,573.1 L1306.4,573.8 L1309.2,574.4 L1312.0,574.6 L1314.5,574.6 L1316.9,574.6 L1319.4,574.6 L1321.9,574.6 L1324.3,574.6 L1326.8,574.6 L1329.2,574.6 L1331.7,574.6 L1334.2,574.6 L1336.6,574.6 L1339.1,574.6 L1341.5,574.6 L1344.0,574.6 L1346.5,574.6 L1348.9,574.6 L1351.4,574.6 L1353.9,574.6 L1356.3,574.6 L1358.8,574.6 L1361.3,574.6 L1363.7,574.6 L1366.2,574.6 L1368.6,574.6 L1371.1,574.6 L1373.6,574.6 L1376.0,574.6 L1378.5,574.6 L1381.0,574.6 L1383.4,574.6 L1385.9,574.6 L1388.4,574.6 L1390.8,574.6 L1393.3,574.6 L1395.8,574.6 L1398.2,574.6 L1400.7,574.6 L1403.2,574.6 L1405.6,574.6 L1408.1,574.6 L1410.6,574.6 L1413.0,574.6 L1415.5,574.6 L1418.0,574.6 L1420.4,574.6 L1422.9,574.6 L1425.4,574.6 L1427.9,574.6 L1430.3,574.6 L1432.8,574.6 L1435.3,574.6 L1437.7,574.6 L1440.2,574.6 L1442.7,574.6 L1445.2,574.6 L1447.6,574.6 L1450.1,574.6 L1452.6,574.6 L1455.0,574.6 L1457.5,574.6 L1460.0,574.6 L1462.5,574.6 L1464.9,574.6 L1467.4,574.6 L1469.9,574.6 L1472.4,574.6 L1474.8,574.6 L1477.3,574.6 L1479.8,574.6 L1482.3,574.6 L1484.7,574.6 L1487.2,574.6 L1489.7,574.6 L1492.2,574.6 L1494.6,574.6 L1497.1,574.6 L1499.6,574.6 L1502.1,574.6 L1504.6,574.6 L1507.0,574.6 L1509.5,574.6 L1512.0,574.6 L1514.5,574.6 L1517.0,574.6 L1519.4,574.6 L1521.9,574.6 L1524.4,574.6 L1526.9,574.6 L1529.4,574.6 L1531.8,574.6 L1534.3,574.6 L1536.8,574.6 L1539.3,574.6 L1541.8,574.6 L1544.3,574.6 L1546.7,574.6 L1549.2,574.6 L1551.7,574.6 L1554.2,574.6 L1556.7,574.6 L1559.2,574.6 L1561.7,574.6 L1564.1,574.6 L1566.6,574.6 L1569.1,574.6 L1571.6,574.6 L1574.1,574.6 L1576.6,574.6 L1579.1,574.6 L1581.6,574.6 L1584.0,574.6 L1586.5,574.6 L1589.0,574.6 L1591.5,574.6 L1594.0,574.6 L1596.5,574.6 L1599.0,574.6 L1601.5,574.6 L1604.0,574.6 L1606.5,574.6 L1609.0,574.6 L1611.4,574.6 L1613.9,574.6 L1616.4,574.6 L1618.9,574.6 L1621.4,574.6 L1623.9,574.6 L1626.4,574.6 L1628.9,574.6 L1631.4,574.6 L1633.9,574.6 L1636.4,574.6 L1638.9,574.6 L1641.4,574.6 L1643.9,574.6 L1646.4,574.6 L1648.9,574.6 L1651.4,574.6 L1653.9,574.6 L1656.4,574.6 L1658.9,574.6 L1661.4,574.6 L1663.9,574.6 L1666.4,574.6 L1668.9,574.6 L1671.4,574.6 L1673.9,574.6 L1676.4,574.6 L1678.9,574.6 L1681.4,574.6 L1683.9,574.6 L1686.4,574.6 L1688.9,574.6 L1691.4,574.6 L1694.0,574.6 L1696.5,574.6 L1699.0,574.6 L1701.5,574.6 L1704.0,574.6 L1706.5,574.6 L1709.0,574.6 L1711.5,574.6 L1714.0,574.6 L1716.5,574.6 L1719.0,574.6 L1721.6,574.6 L1724.1,574.6 L1726.6,574.6 L1729.1,574.6 L1731.6,574.6 L1734.1,574.6 L1736.6,574.6 L1739.2,574.6 L1741.7,574.6 L1744.2,574.6 L1746.7,574.6 L1749.2,574.6 L1751.7,574.6 L1754.3,574.6 L1756.8,574.6 L1759.3,574.6 L1761.8,574.6 L1764.3,574.6 L1766.8,574.6 L1769.4,574.6 L1771.9,574.6 L1774.4,574.6 L1776.9,574.6 L1779.5,574.6 L1782.0,574.6 L1784.5,574.6 L1787.0,574.6 L1789.5,574.6 L1792.1,574.6 L1794.6,574.6 L1797.1,574.6 L1799.7,574.6 L1802.2,574.6 L1804.7,574.6 L1807.2,574.6 L1809.8,574.6 L1812.3,574.6 L1814.8,574.6 L1817.4,574.6 L1819.9,574.6 L1822.4,574.6 L1824.9,574.6 L1827.5,574.6 L1830.0,574.6 L1832.5,574.6 L1835.1,574.6 L1837.6,574.6 L1840.1,574.6 L1842.7,574.6 L1845.2,574.6 L1847.8,574.6 L1850.3,574.6 L1852.8,574.6 L1855.4,574.6 L1857.9,574.6 L1860.4,574.6 L1863.0,574.6 L1865.5,574.6 L1868.1,574.6 L1870.6,574.6 L1873.2,574.6 L1875.7,574.6 L1878.2,574.6 L1880.8,574.6 L1883.3,574.6 L1885.9,574.6 L1888.4,574.6 L1891.0,574.6 L1893.5,574.6 L1896.1,574.6 L1898.6,574.6 L1901.2,574.6 L1903.7,574.6 L1906.3,574.6 L1908.8,574.6 L1911.4,574.6 L1913.9,574.6 L1916.5,574.6 L1919.0,574.6 L1921.6,574.6 L1924.1,574.6 L1926.7,574.6 L1929.2,574.6 L1931.8,574.6 L1934.3,574.6 L1936.9,574.6 L1939.4,574.6 L1942.0,574.6 L1944.6,574.6 L1947.1,574.6 L1949.7,574.6 L1952.2,574.6 L1954.8,574.6 L1957.4,574.6 L1959.9,574.6 L1962.5,574.6 L1965.1,574.6 L1967.6,574.6 L1970.2,574.6 L1972.7,574.6 L1975.3,574.6 L1977.9,574.6 L1980.4,574.6 L1983.0,574.6 L1985.6,574.6" fill="none" stroke="#afeeee" stroke-width="3.55" stroke-linejoin="round" stroke-linecap="butt"/>
<path d="M1152.3,32.5 L1156.3,32.5 L1160.1,32.5 L1163.7,32.5 L1167.1,32.5 L1170.3,32.5 L1173.4,32.5 L1176.2,32.5 L1178.9,32.5 L1181.4,32.5 L1183.7,32.5 L1185.7,32.5 L1187.6,32.5 L1189.3,32.5 L1190.8,32.5 L1192.2,32.5 L1193.3,32.5 L1194.3,34.0 L1195.1,37.3 L1195.7,40.6 L1196.1,43.3 L1196.5,46.0 L1196.8,48.7 L1197.0,51.4 L1197.3,54.2 L1197.5,56.9 L1197.8,59.6 L1198.1,62.3 L1198.3,65.0 L1198.6,67.7 L1198.8,70.4 L1199.1,73.2 L1199.3,75.9 L1199.6,78.6 L1199.8,81.3 L1200.0,84.0 L1200.2,86.7 L1200.4,89.3 L1200.6,91.9 L1200.8,94.5 L1200.9,97.0 L1201.1,99.6 L1201.3,102.2 L1201.4,104.8 L1201.6,107.4 L1201.8,109.9 L1201.9,112.5 L1202.1,115.1 L1202.2,117.7 L1202.4,120.3 L1202.5,122.9 L1202.7,125.4 L1202.8,128.0 L1203.0,130.6 L1203.2,133.2 L1203.3,135.8 L1203.5,138.3 L1203.7,140.9 L1203.9,143.5 L1204.1,146.1 L1204.2,148.7 L1204.4,151.2 L1204.6,153.8 L1204.8,156.4 L1205.0,159.0 L1205.2,161.6 L1205.4,164.2 L1205.6,166.7 L1205.8,169.3 L1206.0,171.9 L1206.2,174.5 L1206.4,177.1 L1206.6,179.6 L1206.8,182.2 L1207.0,184.8 L1207.3,187.4 L1207.5,190.0 L1207.7,192.5 L1207.9,195.1 L1208.0,197.7 L1208.2,200.3 L1208.4,202.9 L1208.6,205.5 L1208.8,208.0 L1209.0,210.6 L1209.2,213.2 L1209.4,215.8 L1209.6,218.4 L1209.8,220.9 L1210.0,223.5 L1210.2,226.1 L1210.4,228.7 L1210.6,231.3 L1210.8,233.8 L1211.0,236.4 L1211.2,239.0 L1211.4,241.6 L1211.6,244.2 L1211.8,246.8 L1212.0,249.3 L1212.2,251.9 L1212.4,254.5 L1212.7,257.1 L1212.9,259.7 L1213.1,262.2 L1213.3,264.8 L1213.6,267.4 L1213.8,270.0 L1214.0,272.6 L1214.2,275.1 L1214.5,277.7 L1214.7,280.3 L1214.9,282.9 L1215.2,285.5 L1215.4,288.1 L1215.7,290.6 L1215.9,293.2 L1216.1,295.8 L1216.4,298.4 L1216.6,301.0 L1216.9,303.5 L1217.1,306.1 L1217.4,308.7 L1217.6,311.3 L1217.9,313.9 L1218.1,316.5 L1218.4,319.0 L1218.6,321.6 L1218.9,324.2 L1219.1,326.8 L1219.4,329.4 L1219.6,331.9 L1219.9,334.5 L1220.2,337.1 L1220.4,339.7 L1220.7,342.3 L1221.0,344.9 L1221.3,347.4 L1221.5,350.0 L1221.8,352.6 L1222.1,355.2 L1222.4,357.7 L1222.7,360.3 L1223.1,362.9 L1223.4,365.5 L1223.7,368.1 L1224.1,370.7 L1224.4,373.2 L1224.8,375.8 L1225.2,378.4 L1225.5,381.0 L1225.9,383.6 L1226.3,386.1 L1226.7,388.7 L1227.1,391.3 L1227.4,393.9 L1227.8,396.5 L1228.2,399.0 L1228.6,401.6 L1229.0,404.2 L1229.3,406.8 L1229.7,409.4 L1230.1,411.9 L1230.4,414.5 L1230.8,417.1 L1231.2,419.7 L1231.5,422.3 L1231.9,424.9 L1232.2,427.4 L1232.6,430.0 L1233.0,432.6 L1233.3,435.2 L1233.7,437.8 L1234.0,440.3 L1234.4,442.9 L1234.8,445.5 L1235.1,448.1 L1235.5,450.7 L1235.9,453.2 L1236.2,455.8 L1236.6,458.4 L1237.0,461.0 L1237.3,463.6 L1237.7,466.1 L1238.1,469.0 L1238.5,471.8 L1238.9,474.6 L1239.3,477.4 L1239.8,480.2 L1240.2,482.7 L1240.7,485.2 L1241.2,487.6 L1241.7,490.1 L1242.3,492.5 L1242.9,494.9 L1243.5,497.4 L1244.1,499.8 L1244.7,502.2 L1245.3,504.6 L1246.1,507.1 L1246.8,509.6 L1247.6,512.0 L1248.4,514.5 L1249.3,516.9 L1250.1,519.3 L1251.0,521.8 L1251.9,524.2 L1252.8,526.6 L1253.7,529.0 L1254.6,531.5 L1255.4,533.9 L1256.3,536.3 L1257.2,538.7 L1258.1,541.2 L1259.1,543.6 L1260.0,546.0 L1261.0,548.3 L1262.0,550.7 L1263.1,553.1 L1264.1,555.6 L1265.2,558.0 L1266.3,560.5 L1267.5,562.8 L1268.9,565.0 L1270.3,567.0 L1272.2,568.9 L1274.3,570.7 L1276.6,572.1 L1279.0,573.2 L1281.6,574.2 L1284.2,574.6 L1286.7,574.6 L1289.1,574.6 L1291.5,574.6 L1293.9,574.6 L1296.4,574.6 L1298.8,574.6 L1301.2,574.6 L1303.6,574.6 L1306.1,574.6 L1308.5,574.6 L1310.9,574.6 L1313.4,574.6 L1315.8,574.6 L1318.2,574.6 L1320.6,574.6 L1323.1,574.6 L1325.5,574.6 L1327.9,574.6 L1330.4,574.6 L1332.8,574.6 L1335.2,574.6 L1337.7,574.6 L1340.1,574.6 L1342.5,574.6 L1345.0,574.6 L1347.4,574.6 L1349.8,574.6 L1352.3,574.6 L1354.7,574.6 L1357.1,574.6 L1359.6,574.6 L1362.0,574.6 L1364.4,574.6 L1366.9,574.6 L1369.3,574.6 L1371.7,574.6 L1374.2,574.6 L1376.6,574.6 L1379.1,574.6 L1381.5,574.6 L1383.9,574.6 L1386.4,574.6 L1388.8,574.6 L1391.3,574.6 L1393.7,574.6 L1396.1,574.6 L1398.6,574.6 L1401.0,574.6 L1403.5,574.6 L1405.9,574.6 L1408.4,574.6 L1410.8,574.6 L1413.3,574.6 L1415.7,574.6 L1418.1,574.6 L1420.6,574.6 L1423.0,574.6 L1425.5,574.6 L1427.9,574.6 L1430.4,574.6 L1432.8,574.6 L1435.3,574.6 L1437.7,574.6 L1440.2,574.6 L1442.6,574.6 L1445.1,574.6 L1447.5,574.6 L1450.0,574.6 L1452.4,574.6 L1454.9,574.6 L1457.3,574.6 L1459.8,574.6 L1462.2,574.6 L1464.7,574.6 L1467.2,574.6 L1469.6,574.6 L1472.1,574.6 L1474.5,574.6 L1477.0,574.6 L1479.4,574.6 L1481.9,574.6 L1484.4,574.6 L1486.8,574.6 L1489.3,574.6 L1491.7,574.6 L1494.2,574.6 L1496.7,574.6 L1499.1,574.6 L1501.6,574.6 L1504.1,574.6 L1506.5,574.6 L1509.0,574.6 L1511.4,574.6 L1513.9,574.6 L1516.4,574.6 L1518.8,574.6 L1521.3,574.6 L1523.8,574.6 L1526.2,574.6 L1528.7,574.6 L1531.2,574.6 L1533.7,574.6 L1536.1,574.6 L1538.6,574.6 L1541.1,574.6 L1543.5,574.6 L1546.0,574.6 L1548.5,574.6 L1551.0,574.6 L1553.4,574.6 L1555.9,574.6 L1558.4,574.6 L1560.9,574.6 L1563.3,574.6 L1565.8,574.6 L1568.3,574.6 L1570.8,574.6 L1573.3,574.6 L1575.7,574.6 L1578.2,574.6 L1580.7,574.6 L1583.2,574.6 L1585.7,574.6 L1588.2,574.6 L1590.6,574.6 L1593.1,574.6 L1595.6,574.6 L1598.1,574.6 L1600.6,574.6 L1603.1,574.6 L1605.6,574.6 L1608.1,574.6 L1610.6,574.6 L1613.0,574.6 L1615.5,574.6 L1618.0,574.6 L1620.5,574.6 L1623.0,574.6 L1625.5,574.6 L1628.0,574.6 L1630.5,574.6 L1633.0,574.6 L1635.5,574.6 L1638.0,574.6 L1640.5,574.6 L1643.0,574.6 L1645.5,574.6 L1648.0,574.6 L1650.5,574.6 L1653.0,574.6 L1655.5,574.6 L1658.0,574.6 L1660.5,574.6 L1663.0,574.6 L1665.5,574.6 L1668.0,574.6 L1670.5,574.6 L1673.0,574.6 L1675.5,574.6 L1678.1,574.6 L1680.6,574.6 L1683.1,574.6 L1685.6,574.6 L1688.1,574.6 L1690.6,574.6 L1693.1,574.6 L1695.6,574.6 L1698.2,574.6 L1700.7,574.6 L1703.2,574.6 L1705.7,574.6 L1708.2,574.6 L1710.8,574.6 L1713.3,574.6 L1715.8,574.6 L1718.3,574.6 L1720.8,574.6 L1723.4,574.6 L1725.9,574.6 L1728.4,574.6 L1730.9,574.6 L1733.5,574.6 L1736.0,574.6 L1738.5,574.6 L1741.1,574.6 L1743.6,574.6 L1746.1,574.6 L1748.6,574.6 L1751.2,574.6 L1753.7,574.6 L1756.2,574.6 L1758.8,574.6 L1761.3,574.6 L1763.9,574.6 L1766.4,574.6 L1768.9,574.6 L1771.5,574.6 L1774.0,574.6 L1776.6,574.6 L1779.1,574.6 L1781.6,574.6 L1784.2,574.6 L1786.7,574.6 L1789.3,574.6 L1791.8,574.6 L1794.4,574.6 L1796.9,574.6 L1799.5,574.6 L1802.0,574.6 L1804.6,574.6 L1807.1,574.6 L1809.7,574.6 L1812.2,574.6 L1814.8,574.6 L1817.3,574.6 L1819.9,574.6 L1822.5,574.6 L1825.0,574.6 L1827.6,574.6 L1830.1,574.6 L1832.7,574.6 L1835.3,574.6 L1837.8,574.6 L1840.4,574.6 L1843.0,574.6 L1845.5,574.6 L1848.1,574.6 L1850.7,574.6 L1853.2,574.6 L1855.8,574.6 L1858.4,574.6 L1860.9,574.6 L1863.5,574.6 L1866.1,574.6 L1868.7,574.6 L1871.2,574.6 L1873.8,574.6 L1876.4,574.6 L1879.0,574.6 L1881.5,574.6 L1884.1,574.6 L1886.7,574.6 L1889.3,574.6 L1891.9,574.6 L1894.5,574.6 L1897.0,574.6 L1899.6,574.6 L1902.2,574.6 L1904.8,574.6 L1907.4,574.6 L1910.0,574.6 L1912.6,574.6 L1915.2,574.6 L1917.8,574.6 L1920.4,574.6 L1923.0,574.6 L1925.6,574.6 L1928.2,574.6 L1930.8,574.6 L1933.4,574.6 L1936.0,574.6 L1938.6,574.6 L1941.2,574.6 L1943.8,574.6 L1946.4,574.6 L1949.0,574.6 L1951.6,574.6 L1954.2,574.6 L1956.8,574.6 L1959.4,574.6 L1962.0,574.6 L1964.6,574.6 L1967.3,574.6 L1969.9,574.6 L1972.5,574.6 L1975.1,574.6 L1977.7,574.6 L1980.3,574.6 L1983.0,574.6 L1985.6,574.6" fill="none" stroke="#90ee90" stroke-width="3.55" stroke-linejoin="round" stroke-linecap="butt"/>
<path d="M1152.3,32.5 L1155.9,32.5 L1159.4,32.5 L1162.7,32.5 L1165.9,32.5 L1169.0,32.5 L1172.0,32.5 L1174.8,32.5 L1177.5,32.5 L1180.2,32.5 L1182.7,32.5 L1185.1,32.5 L1187.4,32.5 L1189.6,32.5 L1191.7,32.5 L1193.7,32.5 L1195.6,32.5 L1197.5,32.5 L1199.2,32.5 L1200.9,32.5 L1202.3,34.7 L1203.9,36.7 L1205.6,38.8 L1207.3,40.8 L1208.8,42.8 L1209.9,45.0 L1210.8,47.3 L1211.6,49.8 L1212.2,52.3 L1212.8,54.9 L1213.4,57.4 L1214.0,60.1 L1214.7,62.7 L1215.2,65.4 L1215.8,68.0 L1216.4,70.7 L1216.9,73.4 L1217.5,76.0 L1218.0,78.7 L1218.6,81.4 L1219.1,84.1 L1219.7,86.7 L1220.2,89.2 L1220.7,91.6 L1221.2,94.1 L1221.7,96.6 L1222.2,99.0 L1222.7,101.5 L1223.2,104.0 L1223.7,106.4 L1224.1,108.9 L1224.6,111.4 L1225.1,113.8 L1225.6,116.3 L1226.1,118.8 L1226.6,121.2 L1227.1,123.7 L1227.6,126.2 L1228.1,128.6 L1228.6,131.1 L1229.2,133.6 L1229.7,136.0 L1230.2,138.5 L1230.8,140.9 L1231.3,143.4 L1231.9,145.9 L1232.5,148.3 L1233.0,150.8 L1233.6,153.3 L1234.2,155.7 L1234.8,158.2 L1235.4,160.7 L1236.0,163.1 L1236.6,165.6 L1237.2,168.1 L1237.8,170.5 L1238.4,173.0 L1239.0,175.4 L1239.7,177.9 L1240.3,180.4 L1240.9,182.8 L1241.5,185.3 L1242.1,187.7 L1242.7,190.2 L1243.4,192.7 L1244.0,195.1 L1244.6,197.6 L1245.2,200.1 L1245.8,202.5 L1246.4,205.0 L1246.9,207.5 L1247.5,209.9 L1248.1,212.4 L1248.7,214.9 L1249.3,217.4 L1249.9,219.8 L1250.5,222.3 L1251.1,224.8 L1251.7,227.3 L1252.3,229.7 L1252.9,232.2 L1253.5,234.6 L1254.2,237.1 L1254.8,239.6 L1255.5,242.0 L1256.1,244.5 L1256.8,246.9 L1257.5,249.3 L1258.2,251.8 L1259.0,254.3 L1259.8,256.8 L1260.6,259.2 L1261.5,261.7 L1262.3,264.2 L1263.2,266.6 L1264.1,269.1 L1265.0,271.5 L1265.9,274.0 L1266.8,276.4 L1267.7,278.9 L1268.6,281.3 L1269.4,283.8 L1270.3,286.2 L1271.2,288.7 L1272.0,291.1 L1272.9,293.6 L1273.7,296.1 L1274.4,298.6 L1275.2,301.0 L1275.9,303.5 L1276.6,306.3 L1277.3,309.1 L1278.0,311.9 L1278.7,314.7 L1279.3,317.5 L1280.1,320.3 L1280.8,322.9 L1281.5,325.5 L1282.3,328.1 L1283.0,330.6 L1283.8,333.2 L1284.6,335.7 L1285.4,338.3 L1286.2,340.8 L1287.1,343.4 L1287.9,345.9 L1288.7,348.5 L1289.5,351.0 L1290.4,353.6 L1291.2,356.1 L1292.0,358.5 L1292.7,360.9 L1293.5,363.3 L1294.3,365.7 L1295.0,368.2 L1295.8,370.6 L1296.6,373.0 L1297.4,375.4 L1298.2,377.8 L1299.0,380.2 L1299.8,382.6 L1300.6,384.9 L1301.5,387.3 L1302.3,389.7 L1303.2,392.2 L1304.1,394.6 L1305.0,397.1 L1306.0,399.5 L1306.9,401.9 L1307.9,404.4 L1308.8,406.8 L1309.8,409.2 L1310.7,411.6 L1311.6,414.1 L1312.5,416.5 L1313.4,419.0 L1314.3,421.6 L1315.2,424.3 L1316.0,426.9 L1316.8,429.6 L1317.6,432.2 L1318.5,434.9 L1319.4,437.5 L1320.3,440.1 L1321.4,442.6 L1322.5,445.0 L1323.5,447.4 L1324.5,449.9 L1325.4,452.5 L1326.2,455.1 L1327.0,457.8 L1327.7,460.4 L1328.5,463.1 L1329.2,465.8 L1329.9,468.4 L1330.7,471.1 L1331.5,473.7 L1332.2,476.2 L1333.0,478.6 L1333.7,481.0 L1334.5,483.4 L1335.3,485.8 L1336.1,488.2 L1336.9,490.6 L1337.7,493.0 L1338.5,495.4 L1339.3,497.8 L1340.2,500.2 L1341.0,502.5 L1341.8,504.9 L1342.6,507.3 L1343.4,509.8 L1344.2,512.3 L1345.0,514.8 L1345.7,517.2 L1346.5,519.7 L1347.3,522.2 L1348.1,524.7 L1349.0,527.1 L1349.8,529.6 L1350.7,532.0 L1351.6,534.4 L1352.6,537.0 L1353.6,539.6 L1354.7,542.1 L1355.7,544.7 L1356.9,547.2 L1358.1,549.7 L1359.3,552.1 L1360.6,554.5 L1361.9,556.7 L1363.3,558.8 L1364.7,561.0 L1366.3,563.0 L1367.9,564.9 L1369.6,566.6 L1371.7,568.3 L1373.9,570.0 L1376.3,571.3 L1378.7,572.4 L1381.8,573.4 L1385.1,574.2 L1388.4,574.6 L1390.9,574.6 L1393.3,574.6 L1395.8,574.6 L1398.3,574.6 L1400.7,574.6 L1403.2,574.6 L1405.7,574.6 L1408.2,574.6 L1410.6,574.6 L1413.1,574.6 L1415.6,574.6 L1418.0,574.6 L1420.5,574.6 L1423.0,574.6 L1425.5,574.6 L1427.9,574.6 L1430.4,574.6 L1432.9,574.6 L1435.3,574.6 L1437.8,574.6 L1440.3,574.6 L1442.8,574.6 L1445.2,574.6 L1447.7,574.6 L1450.2,574.6 L1452.7,574.6 L1455.1,574.6 L1457.6,574.6 L1460.1,574.6 L1462.6,574.6 L1465.0,574.6 L1467.5,574.6 L1470.0,574.6 L1472.5,574.6 L1474.9,574.6 L1477.4,574.6 L1479.9,574.6 L1482.4,574.6 L1484.8,574.6 L1487.3,574.6 L1489.8,574.6 L1492.3,574.6 L1494.8,574.6 L1497.2,574.6 L1499.7,574.6 L1502.2,574.6 L1504.7,574.6 L1507.2,574.6 L1509.6,574.6 L1512.1,574.6 L1514.6,574.6 L1517.1,574.6 L1519.6,574.6 L1522.0,574.6 L1524.5,574.6 L1527.0,574.6 L1529.5,574.6 L1532.0,574.6 L1534.4,574.6 L1536.9,574.6 L1539.4,574.6 L1541.9,574.6 L1544.4,574.6 L1546.9,574.6 L1549.4,574.6 L1551.8,574.6 L1554.3,574.6 L1556.8,574.6 L1559.3,574.6 L1561.8,574.6 L1564.3,574.6 L1566.8,574.6 L1569.2,574.6 L1571.7,574.6 L1574.2,574.6 L1576.7,574.6 L1579.2,574.6 L1581.7,574.6 L1584.2,574.6 L1586.7,574.6 L1589.1,574.6 L1591.6,574.6 L1594.1,574.6 L1596.6,574.6 L1599.1,574.6 L1601.6,574.6 L1604.1,574.6 L1606.6,574.6 L1609.1,574.6 L1611.6,574.6 L1614.1,574.6 L1616.6,574.6 L1619.1,574.6 L1621.5,574.6 L1624.0,574.6 L1626.5,574.6 L1629.0,574.6 L1631.5,574.6 L1634.0,574.6 L1636.5,574.6 L1639.0,574.6 L1641.5,574.6 L1644.0,574.6 L1646.5,574.6 L1649.0,574.6 L1651.5,574.6 L1654.0,574.6 L1656.5,574.6 L1659.0,574.6 L1661.5,574.6 L1664.0,574.6 L1666.5,574.6 L1669.0,574.6 L1671.5,574.6 L1674.0,574.6 L1676.5,574.6 L1679.0,574.6 L1681.5,574.6 L1684.0,574.6 L1686.5,574.6 L1689.0,574.6 L1691.5,574.6 L1694.1,574.6 L1696.6,574.6 L1699.1,574.6 L1701.6,574.6 L1704.1,574.6 L1706.6,574.6 L1709.1,574.6 L1711.6,574.6 L1714.1,574.6 L1716.6,574.6 L1719.1,574.6 L1721.6,574.6 L1724.2,574.6 L1726.7,574.6 L1729.2,574.6 L1731.7,574.6 L1734.2,574.6 L1736.7,574.6 L1739.2,574.6 L1741.7,574.6 L1744.3,574.6 L1746.8,574.6 L1749.3,574.6 L1751.8,574.6 L1754.3,574.6 L1756.8,574.6 L1759.4,574.6 L1761.9,574.6 L1764.4,574.6 L1766.9,574.6 L1769.4,574.6 L1772.0,574.6 L1774.5,574.6 L1777.0,574.6 L1779.5,574.6 L1782.0,574.6 L1784.6,574.6 L1787.1,574.6 L1789.6,574.6 L1792.1,574.6 L1794.7,574.6 L1797.2,574.6 L1799.7,574.6 L1802.2,574.6 L1804.8,574.6 L1807.3,574.6 L1809.8,574.6 L1812.3,574.6 L1814.9,574.6 L1817.4,574.6 L1819.9,574.6 L1822.5,574.6 L1825.0,574.6 L1827.5,574.6 L1830.1,574.6 L1832.6,574.6 L1835.1,574.6 L1837.7,574.6 L1840.2,574.6 L1842.7,574.6 L1845.3,574.6 L1847.8,574.6 L1850.3,574.6 L1852.9,574.6 L1855.4,574.6 L1857.9,574.6 L1860.5,574.6 L1863.0,574.6 L1865.6,574.6 L1868.1,574.6 L1870.6,574.6 L1873.2,574.6 L1875.7,574.6 L1878.3,574.6 L1880.8,574.6 L1883.4,574.6 L1885.9,574.6 L1888.4,574.6 L1891.0,574.6 L1893.5,574.6 L1896.1,574.6 L1898.6,574.6 L1901.2,574.6 L1903.7,574.6 L1906.3,574.6 L1908.8,574.6 L1911.4,574.6 L1913.9,574.6 L1916.5,574.6 L1919.0,574.6 L1921.6,574.6 L1924.1,574.6 L1926.7,574.6 L1929.2,574.6 L1931.8,574.6 L1934.3,574.6 L1936.9,574.6 L1939.5,574.6 L1942.0,574.6 L1944.6,574.6 L1947.1,574.6 L1949.7,574.6 L1952.2,574.6 L1954.8,574.6 L1957.4,574.6 L1959.9,574.6 L1962.5,574.6 L1965.1,574.6 L1967.6,574.6 L1970.2,574.6 L1972.7,574.6 L1975.3,574.6 L1977.9,574.6 L1980.4,574.6 L1983.0,574.6 L1985.6,574.6" fill="none" stroke="#ff4500" stroke-width="3.55" stroke-linejoin="round" stroke-linecap="butt"/>
<path d="M1152.3,32.5 L1155.0,32.5 L1157.6,32.5 L1160.2,32.5 L1162.9,32.5 L1165.5,32.5 L1168.1,32.5 L1170.7,32.5 L1173.4,32.5 L1176.0,32.5 L1178.6,32.5 L1181.2,32.5 L1183.7,32.5 L1186.3,32.5 L1188.9,32.5 L1191.5,32.5 L1194.0,32.5 L1196.6,32.5 L1199.2,32.5 L1201.7,32.5 L1204.2,32.5 L1206.8,32.5 L1209.3,32.5 L1211.9,32.5 L1214.4,32.5 L1216.9,32.5 L1219.4,32.5 L1221.9,32.5 L1224.4,32.5 L1227.0,32.5 L1229.5,32.5 L1231.9,32.5 L1234.4,32.5 L1236.9,32.5 L1239.4,32.5 L1241.9,32.5 L1244.4,32.5 L1246.8,32.5 L1249.3,32.5 L1251.8,32.5 L1254.2,32.5 L1256.7,32.5 L1259.2,32.5 L1261.6,32.5 L1264.1,32.5 L1266.5,32.5 L1269.0,32.5 L1271.4,32.5 L1273.8,32.5 L1276.3,32.5 L1278.7,32.5 L1281.1,32.5 L1283.6,32.5 L1286.0,32.5 L1288.4,32.5 L1290.8,32.5 L1293.3,32.5 L1296.4,33.0 L1299.5,34.3 L1302.3,35.8 L1304.8,37.7 L1307.1,40.2 L1309.2,42.8 L1310.8,44.8 L1312.2,47.0 L1313.6,49.2 L1314.9,51.4 L1316.2,53.6 L1317.5,56.1 L1318.7,58.7 L1319.9,61.2 L1321.0,63.8 L1322.2,66.4 L1323.3,69.0 L1324.5,71.5 L1325.6,73.8 L1326.8,76.0 L1327.9,78.2 L1329.1,80.5 L1330.2,82.7 L1331.3,84.9 L1332.5,87.2 L1333.5,89.4 L1334.7,92.0 L1335.9,94.6 L1337.1,97.3 L1338.2,99.9 L1339.3,102.5 L1340.5,105.1 L1341.7,107.8 L1342.9,110.4 L1344.1,113.0 L1345.3,115.6 L1346.4,118.2 L1347.4,120.9 L1348.3,123.4 L1349.1,126.0 L1349.9,128.5 L1350.6,131.1 L1351.4,133.7 L1352.1,136.3 L1352.9,138.9 L1353.7,141.5 L1354.5,144.0 L1355.4,146.6 L1356.3,149.1 L1357.2,151.7 L1358.1,154.2 L1359.0,156.8 L1359.9,159.3 L1360.9,162.0 L1361.8,164.6 L1362.8,167.2 L1363.7,169.8 L1364.6,172.5 L1365.4,175.1 L1366.2,177.8 L1366.8,180.2 L1367.4,182.6 L1367.9,185.1 L1368.4,187.6 L1368.9,190.0 L1369.4,192.5 L1369.9,195.0 L1370.3,197.5 L1370.8,199.9 L1371.3,202.4 L1371.7,204.9 L1372.2,207.3 L1372.7,209.8 L1373.1,212.3 L1373.6,214.7 L1374.0,217.2 L1374.5,219.7 L1374.9,222.1 L1375.3,224.6 L1375.8,227.0 L1376.2,229.5 L1376.6,232.0 L1377.1,234.8 L1377.5,237.5 L1378.0,240.3 L1378.5,243.1 L1378.9,245.9 L1379.3,248.6 L1379.7,251.4 L1380.1,254.2 L1380.4,256.9 L1380.7,259.5 L1380.9,262.2 L1381.2,264.8 L1381.4,267.5 L1381.6,270.2 L1381.9,272.8 L1382.1,275.5 L1382.3,278.2 L1382.6,280.8 L1382.8,283.5 L1383.1,286.1 L1383.4,288.8 L1383.6,291.5 L1383.9,294.1 L1384.2,296.8 L1384.5,299.4 L1384.8,302.1 L1385.0,304.7 L1385.3,307.4 L1385.6,310.0 L1385.9,312.7 L1386.2,315.4 L1386.6,318.0 L1386.9,320.7 L1387.3,323.4 L1387.6,326.0 L1388.0,328.7 L1388.3,331.4 L1388.6,334.0 L1388.9,336.7 L1389.2,339.4 L1389.5,342.1 L1389.8,344.7 L1390.0,347.4 L1390.2,350.1 L1390.4,352.9 L1390.6,355.6 L1390.8,358.3 L1391.0,361.0 L1391.2,363.7 L1391.4,366.4 L1391.6,369.1 L1391.9,371.8 L1392.1,374.5 L1392.4,377.2 L1392.7,379.8 L1393.0,382.5 L1393.3,385.2 L1393.6,387.8 L1394.0,390.5 L1394.3,393.1 L1394.6,395.8 L1395.0,398.4 L1395.3,401.1 L1395.7,403.8 L1396.1,406.5 L1396.5,409.2 L1396.8,411.9 L1397.2,414.7 L1397.6,417.4 L1398.0,420.1 L1398.4,422.8 L1398.8,425.5 L1399.2,428.2 L1399.6,430.9 L1400.1,433.6 L1400.5,436.3 L1401.0,439.0 L1401.4,441.7 L1401.7,444.5 L1402.0,447.2 L1402.3,449.9 L1402.5,453.0 L1402.6,456.1 L1402.8,459.2 L1403.0,462.4 L1403.2,465.0 L1403.4,467.6 L1403.7,470.1 L1404.1,472.7 L1404.4,475.3 L1404.8,477.9 L1405.2,480.5 L1405.6,483.1 L1406.0,485.7 L1406.5,488.3 L1406.9,490.8 L1407.4,493.4 L1407.8,496.0 L1408.3,498.4 L1408.8,500.9 L1409.3,503.3 L1409.8,505.8 L1410.3,508.3 L1410.9,510.7 L1411.5,513.2 L1412.1,515.6 L1412.7,518.0 L1413.4,520.4 L1414.1,522.8 L1414.8,525.2 L1415.6,527.8 L1416.5,530.3 L1417.4,532.7 L1418.4,535.2 L1419.5,537.7 L1420.6,540.1 L1421.7,542.6 L1422.7,545.0 L1423.8,547.5 L1424.9,550.1 L1426.0,552.8 L1427.0,555.5 L1428.1,558.2 L1429.3,560.8 L1430.6,563.2 L1432.1,565.3 L1434.0,567.4 L1436.2,569.4 L1438.7,571.2 L1441.2,572.4 L1444.3,573.4 L1447.6,574.2 L1450.9,574.6 L1453.4,574.6 L1455.8,574.6 L1458.3,574.6 L1460.8,574.6 L1463.2,574.6 L1465.7,574.6 L1468.2,574.6 L1470.7,574.6 L1473.1,574.6 L1475.6,574.6 L1478.1,574.6 L1480.5,574.6 L1483.0,574.6 L1485.5,574.6 L1488.0,574.6 L1490.4,574.6 L1492.9,574.6 L1495.4,574.6 L1497.9,574.6 L1500.3,574.6 L1502.8,574.6 L1505.3,574.6 L1507.8,574.6 L1510.2,574.6 L1512.7,574.6 L1515.2,574.6 L1517.7,574.6 L1520.1,574.6 L1522.6,574.6 L1525.1,574.6 L1527.6,574.6 L1530.1,574.6 L1532.5,574.6 L1535.0,574.6 L1537.5,574.6 L1540.0,574.6 L1542.4,574.6 L1544.9,574.6 L1547.4,574.6 L1549.9,574.6 L1552.4,574.6 L1554.8,574.6 L1557.3,574.6 L1559.8,574.6 L1562.3,574.6 L1564.8,574.6 L1567.3,574.6 L1569.7,574.6 L1572.2,574.6 L1574.7,574.6 L1577.2,574.6 L1579.7,574.6 L1582.2,574.6 L1584.6,574.6 L1587.1,574.6 L1589.6,574.6 L1592.1,574.6 L1594.6,574.6 L1597.1,574.6 L1599.5,574.6 L1602.0,574.6 L1604.5,574.6 L1607.0,574.6 L1609.5,574.6 L1612.0,574.6 L1614.5,574.6 L1617.0,574.6 L1619.5,574.6 L1621.9,574.6 L1624.4,574.6 L1626.9,574.6 L1629.4,574.6 L1631.9,574.6 L1634.4,574.6 L1636.9,574.6 L1639.4,574.6 L1641.9,574.6 L1644.4,574.6 L1646.9,574.6 L1649.4,574.6 L1651.8,574.6 L1654.3,574.6 L1656.8,574.6 L1659.3,574.6 L1661.8,574.6 L1664.3,574.6 L1666.8,574.6 L1669.3,574.6 L1671.8,574.6 L1674.3,574.6 L1676.8,574.6 L1679.3,574.6 L1681.8,574.6 L1684.3,574.6 L1686.8,574.6 L1689.3,574.6 L1691.8,574.6 L1694.3,574.6 L1696.8,574.6 L1699.3,574.6 L1701.8,574.6 L1704.3,574.6 L1706.8,574.6 L1709.3,574.6 L1711.8,574.6 L1714.3,574.6 L1716.8,574.6 L1719.4,574.6 L1721.9,574.6 L1724.4,574.6 L1726.9,574.6 L1729.4,574.6 L1731.9,574.6 L1734.4,574.6 L1736.9,574.6 L1739.4,574.6 L1741.9,574.6 L1744.4,574.6 L1747.0,574.6 L1749.5,574.6 L1752.0,574.6 L1754.5,574.6 L1757.0,574.6 L1759.5,574.6 L1762.0,574.6 L1764.5,574.6 L1767.1,574.6 L1769.6,574.6 L1772.1,574.6 L1774.6,574.6 L1777.1,574.6 L1779.6,574.6 L1782.2,574.6 L1784.7,574.6 L1787.2,574.6 L1789.7,574.6 L1792.2,574.6 L1794.8,574.6 L1797.3,574.6 L1799.8,574.6 L1802.3,574.6 L1804.9,574.6 L1807.4,574.6 L1809.9,574.6 L1812.4,574.6 L1815.0,574.6 L1817.5,574.6 L1820.0,574.6 L1822.5,574.6 L1825.1,574.6 L1827.6,574.6 L1830.1,574.6 L1832.6,574.6 L1835.2,574.6 L1837.7,574.6 L1840.2,574.6 L1842.8,574.6 L1845.3,574.6 L1847.8,574.6 L1850.4,574.6 L1852.9,574.6 L1855.4,574.6 L1858.0,574.6 L1860.5,574.6 L1863.0,574.6 L1865.6,574.6 L1868.1,574.6 L1870.7,574.6 L1873.2,574.6 L1875.7,574.6 L1878.3,574.6 L1880.8,574.6 L1883.4,574.6 L1885.9,574.6 L1888.5,574.6 L1891.0,574.6 L1893.5,574.6 L1896.1,574.6 L1898.6,574.6 L1901.2,574.6 L1903.7,574.6 L1906.3,574.6 L1908.8,574.6 L1911.4,574.6 L1913.9,574.6 L1916.5,574.6 L1919.0,574.6 L1921.6,574.6 L1924.1,574.6 L1926.7,574.6 L1929.2,574.6 L1931.8,574.6 L1934.3,574.6 L1936.9,574.6 L1939.4,574.6 L1942.0,574.6 L1944.6,574.6 L1947.1,574.6 L1949.7,574.6 L1952.2,574.6 L1954.8,574.6 L1957.4,574.6 L1959.9,574.6 L1962.5,574.6 L1965.0,574.6 L1967.6,574.6 L1970.2,574.6 L1972.7,574.6 L1975.3,574.6 L1977.9,574.6 L1980.4,574.6 L1983.0,574.6 L1985.6,574.6" fill="none" stroke="#ffd700" stroke-width="3.55" stroke-linejoin="round" stroke-linecap="butt"/>
<path d="M1152.3,32.5 L1155.6,32.5 L1158.6,32.5 L1161.5,32.5 L1164.2,32.5 L1166.7,32.5 L1169.0,32.5 L1171.1,32.5 L1173.1,32.5 L1174.9,34.4 L1176.6,36.8 L1179.0,38.0 L1181.7,38.9 L1184.6,39.7 L1187.6,40.3 L1190.5,40.6 L1193.1,40.9 L1195.7,41.0 L1198.3,41.1 L1200.9,41.2 L1203.5,41.3 L1206.1,41.5 L1208.5,41.7 L1211.2,42.3 L1213.8,43.4 L1216.3,44.8 L1218.8,46.4 L1221.3,47.9 L1223.8,49.3 L1226.1,50.4 L1228.5,51.4 L1230.9,52.4 L1233.2,53.4 L1235.5,54.5 L1237.7,55.6 L1239.8,56.9 L1241.8,58.3 L1243.7,59.8 L1245.6,61.3 L1247.4,63.0 L1249.3,64.8 L1251.0,66.6 L1252.8,68.5 L1254.5,70.4 L1256.2,72.4 L1257.8,74.4 L1259.4,76.4 L1261.0,78.5 L1262.5,80.5 L1264.0,82.6 L1265.5,84.7 L1266.9,86.7 L1268.3,88.9 L1269.7,91.1 L1271.1,93.3 L1272.4,95.6 L1273.7,97.9 L1275.0,100.3 L1276.2,102.6 L1277.4,105.0 L1278.5,107.4 L1279.7,109.8 L1280.8,112.2 L1281.9,114.7 L1282.9,117.2 L1283.9,119.8 L1284.9,122.3 L1285.8,124.9 L1286.8,127.5 L1287.7,130.1 L1288.7,132.7 L1289.6,135.3 L1290.5,137.9 L1291.4,140.6 L1292.3,143.2 L1293.3,145.8 L1294.2,148.4 L1295.2,150.9 L1296.2,153.5 L1297.2,156.0 L1298.2,158.6 L1299.2,161.1 L1300.2,163.7 L1301.1,166.0 L1302.0,168.4 L1303.0,170.7 L1303.9,173.0 L1304.8,175.4 L1305.7,177.7 L1306.6,180.0 L1307.5,182.4 L1308.5,184.7 L1309.4,187.0 L1310.4,189.3 L1311.4,191.6 L1312.4,193.9 L1313.4,196.2 L1314.4,198.5 L1315.5,200.8 L1316.6,203.1 L1317.7,205.3 L1318.8,207.6 L1319.9,209.9 L1321.0,212.1 L1322.2,214.4 L1323.4,216.6 L1324.5,218.8 L1325.7,221.0 L1326.9,223.3 L1328.1,225.5 L1329.4,227.6 L1330.7,229.9 L1332.0,232.2 L1333.4,234.4 L1334.8,236.7 L1336.2,238.9 L1337.6,241.1 L1339.0,243.3 L1340.5,245.5 L1341.9,247.7 L1343.4,249.9 L1344.9,252.1 L1346.5,254.2 L1348.0,256.4 L1349.5,258.5 L1351.1,260.8 L1352.6,263.2 L1354.1,265.5 L1355.6,267.8 L1357.2,270.1 L1358.9,272.2 L1360.6,274.3 L1362.4,276.0 L1364.3,277.7 L1366.3,279.3 L1368.4,280.9 L1370.4,282.5 L1372.5,284.0 L1374.5,285.6 L1376.7,287.5 L1378.9,289.5 L1381.0,291.4 L1383.2,293.4 L1385.4,295.2 L1387.7,297.0 L1389.8,298.6 L1392.0,300.0 L1394.3,301.4 L1396.5,302.8 L1398.7,304.2 L1400.9,305.7 L1403.2,307.4 L1405.5,309.1 L1407.8,310.9 L1410.1,312.7 L1412.4,314.4 L1414.8,316.0 L1417.2,317.5 L1419.7,318.9 L1422.2,320.3 L1424.7,321.6 L1427.2,323.0 L1429.7,324.3 L1432.1,325.8 L1434.5,327.2 L1436.7,328.6 L1439.0,330.1 L1441.3,331.6 L1443.6,333.1 L1445.8,334.6 L1448.1,336.1 L1450.4,337.5 L1452.7,338.8 L1455.0,340.2 L1457.3,341.6 L1459.6,343.0 L1461.8,344.4 L1464.1,345.8 L1466.3,347.3 L1468.5,348.9 L1470.6,350.5 L1472.8,352.1 L1475.0,353.6 L1477.3,355.0 L1479.7,356.4 L1482.3,357.7 L1484.8,358.9 L1487.4,360.1 L1490.0,361.4 L1492.6,362.6 L1495.0,363.9 L1497.5,365.1 L1500.0,366.4 L1502.5,367.6 L1504.9,368.9 L1507.4,370.1 L1509.9,371.4 L1512.3,372.7 L1514.8,374.0 L1517.0,375.2 L1519.2,376.5 L1521.5,377.7 L1523.7,379.0 L1525.9,380.3 L1528.1,381.5 L1530.3,382.8 L1532.5,384.1 L1534.8,385.3 L1537.0,386.5 L1539.3,387.7 L1541.6,388.8 L1543.9,390.0 L1546.2,391.1 L1548.6,392.2 L1550.9,393.3 L1553.2,394.4 L1555.6,395.6 L1557.9,396.7 L1560.3,397.8 L1562.6,398.9 L1565.0,400.0 L1567.3,401.1 L1569.6,402.2 L1571.9,403.3 L1574.3,404.4 L1576.6,405.6 L1578.9,406.7 L1581.2,407.9 L1583.5,409.0 L1585.8,410.2 L1588.1,411.3 L1590.4,412.4 L1592.7,413.6 L1595.0,414.7 L1597.3,415.8 L1599.7,416.9 L1602.0,417.9 L1604.4,419.0 L1606.7,420.0 L1609.1,421.0 L1611.4,422.0 L1613.8,423.0 L1616.2,424.0 L1618.6,424.9 L1621.0,425.9 L1623.4,426.8 L1625.7,427.8 L1628.1,428.7 L1630.5,429.7 L1632.9,430.6 L1635.3,431.6 L1637.7,432.5 L1640.0,433.5 L1642.4,434.4 L1644.8,435.4 L1647.1,436.3 L1649.5,437.2 L1651.9,438.1 L1654.3,439.0 L1656.6,440.0 L1659.0,440.9 L1661.3,441.9 L1663.6,442.9 L1665.9,443.9 L1668.2,445.0 L1670.6,446.2 L1673.0,447.4 L1675.4,448.7 L1677.7,450.0 L1680.0,451.3 L1682.3,452.7 L1684.6,454.0 L1686.9,455.4 L1689.2,456.8 L1691.5,458.2 L1693.9,459.5 L1696.2,460.9 L1698.5,462.2 L1700.9,463.4 L1703.3,464.7 L1705.6,465.9 L1708.0,467.1 L1710.4,468.4 L1712.9,469.5 L1715.3,470.7 L1717.7,471.9 L1720.1,473.1 L1722.5,474.3 L1724.9,475.5 L1727.3,476.7 L1729.7,477.9 L1732.1,479.2 L1734.4,480.3 L1736.6,481.5 L1738.9,482.7 L1741.1,483.9 L1743.3,485.1 L1745.6,486.3 L1747.8,487.5 L1750.0,488.7 L1752.2,489.9 L1754.5,491.1 L1756.7,492.3 L1758.9,493.5 L1761.1,494.8 L1763.4,496.0 L1765.7,497.2 L1767.9,498.4 L1770.2,499.7 L1772.5,500.9 L1774.8,502.2 L1777.0,503.4 L1779.3,504.7 L1781.6,505.9 L1783.9,507.2 L1786.2,508.4 L1788.4,509.7 L1790.7,510.9 L1793.0,512.1 L1795.3,513.3 L1797.7,514.5 L1800.1,515.8 L1802.5,517.0 L1804.9,518.2 L1807.3,519.4 L1809.7,520.6 L1812.1,521.8 L1814.5,523.0 L1816.9,524.2 L1819.3,525.4 L1821.7,526.6 L1824.2,527.8 L1826.6,529.0 L1829.0,530.2 L1831.4,531.5 L1833.7,532.7 L1836.1,534.0 L1838.5,535.3 L1840.9,536.5 L1843.3,537.8 L1845.7,539.0 L1848.1,540.2 L1850.5,541.4 L1852.9,542.6 L1855.4,543.7 L1857.8,544.7 L1860.2,545.7 L1862.7,546.7 L1865.1,547.7 L1867.6,548.6 L1870.1,549.5 L1872.5,550.4 L1875.0,551.3 L1877.5,552.1 L1880.0,553.0 L1882.5,553.8 L1885.0,554.7 L1887.5,555.5 L1890.0,556.4 L1892.5,557.2 L1894.9,558.1 L1897.4,559.0 L1899.8,559.9 L1902.2,560.8 L1904.6,561.7 L1907.0,562.6 L1909.4,563.6 L1911.9,564.4 L1914.3,565.3 L1916.7,566.1 L1919.2,566.8 L1921.6,567.5 L1924.1,568.1 L1926.6,568.6 L1929.0,569.1 L1931.4,569.5 L1933.9,570.0 L1936.3,570.4 L1938.8,570.9 L1941.3,571.3 L1943.8,571.7 L1946.3,572.1 L1948.8,572.5 L1951.2,572.8 L1953.7,573.2 L1956.3,573.5 L1958.8,573.7 L1961.3,573.7 L1963.8,573.7 L1966.3,573.7 L1968.8,573.7 L1971.3,573.7 L1973.8,573.7 L1976.7,573.7 L1979.7,573.7 L1982.6,573.7 L1985.6,573.7" fill="none" stroke="#ff1493" stroke-width="4.4" stroke-dasharray="7 11" stroke-linejoin="round" stroke-linecap="butt"/>
<path d="M1152.3,32.5 L1156.5,35.2 L1159.0,37.9 L1159.7,40.3 L1160.2,42.9 L1160.6,45.6 L1161.0,48.2 L1161.4,50.9 L1161.8,53.6 L1162.1,56.4 L1162.5,59.1 L1163.0,61.8 L1163.4,64.5 L1163.9,67.2 L1164.4,69.9 L1164.8,72.7 L1165.2,75.5 L1165.7,78.3 L1166.1,81.1 L1166.5,83.9 L1166.9,86.7 L1167.3,89.3 L1167.6,91.9 L1168.0,94.5 L1168.4,97.0 L1168.7,99.6 L1169.1,102.2 L1169.4,104.8 L1169.8,107.4 L1170.2,109.9 L1170.5,112.5 L1170.9,115.1 L1171.2,117.7 L1171.6,120.3 L1171.9,122.9 L1172.3,125.4 L1172.7,128.0 L1173.0,130.6 L1173.4,133.2 L1173.8,135.8 L1174.1,138.3 L1174.5,140.9 L1174.9,143.5 L1175.3,146.1 L1175.7,148.7 L1176.1,151.3 L1176.5,153.8 L1176.8,156.4 L1177.2,159.0 L1177.6,161.6 L1178.0,164.2 L1178.4,166.7 L1178.8,169.3 L1179.2,171.9 L1179.6,174.5 L1180.0,177.1 L1180.5,179.6 L1180.9,182.2 L1181.3,184.8 L1181.7,187.4 L1182.1,190.0 L1182.5,192.5 L1182.9,195.1 L1183.2,197.7 L1183.6,200.3 L1184.0,202.9 L1184.4,205.5 L1184.7,208.1 L1185.1,210.6 L1185.5,213.2 L1185.8,215.8 L1186.2,218.4 L1186.6,221.0 L1186.9,223.6 L1187.3,226.2 L1187.7,228.8 L1188.1,231.4 L1188.5,233.9 L1188.9,236.5 L1189.3,239.1 L1189.8,241.7 L1190.2,244.2 L1190.7,246.8 L1191.2,249.3 L1191.7,251.8 L1192.2,254.3 L1192.8,256.8 L1193.4,259.3 L1194.0,261.7 L1194.6,264.2 L1195.3,266.7 L1196.0,269.1 L1196.7,271.6 L1197.4,274.0 L1198.1,276.5 L1198.8,278.9 L1199.5,281.4 L1200.2,283.9 L1201.0,286.3 L1201.7,288.8 L1202.4,291.2 L1203.1,293.7 L1203.8,296.1 L1204.5,298.6 L1205.1,301.1 L1205.8,303.5 L1206.4,306.0 L1206.9,308.6 L1207.5,311.1 L1207.9,313.8 L1208.4,316.4 L1208.9,319.1 L1209.3,321.8 L1209.7,324.5 L1210.2,327.1 L1210.6,329.8 L1211.1,332.5 L1211.6,335.1 L1212.1,337.7 L1212.6,340.2 L1213.2,342.7 L1213.8,345.1 L1214.5,347.4 L1215.3,349.7 L1216.1,351.8 L1216.9,353.9 L1217.9,355.9 L1219.0,357.7 L1221.7,359.9 L1223.2,361.7 L1224.6,363.7 L1225.8,365.7 L1227.1,367.7 L1228.2,369.9 L1229.3,372.1 L1230.3,374.4 L1231.3,376.8 L1232.3,379.1 L1233.2,381.6 L1234.1,384.0 L1234.9,386.5 L1235.8,389.0 L1236.6,391.6 L1237.5,394.1 L1238.3,396.6 L1239.2,399.2 L1240.0,401.7 L1240.9,404.2 L1241.8,406.7 L1242.8,409.1 L1243.8,411.5 L1244.8,413.9 L1245.9,416.2 L1247.1,418.4 L1248.3,420.7 L1249.5,422.9 L1250.8,425.2 L1252.1,427.4 L1253.4,429.6 L1254.8,431.8 L1256.1,434.0 L1257.5,436.2 L1258.9,438.4 L1260.4,440.6 L1261.8,442.7 L1263.3,444.9 L1264.8,447.0 L1266.3,449.1 L1267.8,451.2 L1269.4,453.3 L1270.9,455.4 L1272.5,457.4 L1274.1,459.4 L1275.7,461.5 L1277.3,463.4 L1278.9,465.3 L1280.6,467.2 L1282.3,469.1 L1284.1,470.9 L1285.8,472.7 L1287.6,474.5 L1289.4,476.3 L1291.2,478.1 L1293.0,480.0 L1294.8,481.9 L1296.7,483.9 L1298.5,485.8 L1300.4,487.6 L1302.3,489.5 L1304.2,491.2 L1306.2,492.9 L1308.1,494.6 L1310.1,496.2 L1312.1,497.9 L1314.2,499.5 L1316.2,501.1 L1318.3,502.7 L1320.4,504.2 L1322.4,505.8 L1324.5,507.3 L1326.5,508.8 L1328.6,510.3 L1330.6,511.8 L1332.7,513.3 L1334.7,514.8 L1336.8,516.2 L1338.9,517.7 L1341.0,519.1 L1343.1,520.4 L1345.3,521.8 L1347.4,523.1 L1349.8,524.4 L1352.3,525.8 L1354.7,527.0 L1357.2,528.3 L1359.7,529.5 L1362.2,530.7 L1364.7,532.0 L1367.2,533.2 L1369.6,534.4 L1372.2,535.8 L1374.8,537.2 L1377.4,538.6 L1380.1,539.9 L1382.5,540.9 L1384.9,541.9 L1387.4,542.9 L1389.8,543.9 L1392.3,544.8 L1394.8,545.7 L1397.3,546.6 L1399.8,547.4 L1402.4,548.3 L1404.9,549.1 L1407.4,549.9 L1409.9,550.7 L1412.4,551.5 L1414.9,552.3 L1417.3,553.0 L1419.8,553.8 L1422.3,554.5 L1424.8,555.2 L1427.3,555.9 L1429.8,556.6 L1432.3,557.3 L1434.8,557.9 L1437.3,558.5 L1439.8,559.1 L1442.4,559.7 L1445.0,560.3 L1447.6,560.8 L1450.2,561.3 L1452.9,561.8 L1455.5,562.3 L1458.1,562.8 L1460.8,563.3 L1463.4,563.7 L1465.9,564.2 L1468.5,564.6 L1471.0,565.1 L1473.6,565.5 L1476.1,566.0 L1478.6,566.4 L1481.2,566.8 L1483.7,567.2 L1486.3,567.6 L1488.8,568.0 L1491.4,568.3 L1493.9,568.6 L1496.5,568.9 L1499.0,569.2 L1501.5,569.4 L1504.0,569.7 L1506.6,569.9 L1509.1,570.1 L1511.6,570.4 L1514.2,570.6 L1516.7,570.8 L1519.2,571.0 L1521.8,571.2 L1524.3,571.4 L1526.8,571.5 L1529.4,571.7 L1531.9,571.8 L1534.5,572.0 L1537.1,572.1 L1539.6,572.3 L1542.2,572.4 L1544.8,572.5 L1547.3,572.6 L1549.9,572.8 L1552.5,572.8 L1555.1,572.9 L1557.6,573.0 L1560.2,573.1 L1562.7,573.2 L1565.3,573.2 L1567.8,573.3 L1570.4,573.4 L1573.0,573.4 L1575.5,573.5 L1578.1,573.6 L1580.6,573.6 L1583.2,573.7 L1585.7,573.7 L1588.3,573.7 L1590.9,573.7 L1593.4,573.7 L1596.0,573.7 L1598.5,573.7 L1601.1,573.7 L1603.7,573.7 L1606.2,573.7 L1608.8,573.7 L1611.4,573.7 L1613.9,573.7 L1616.5,573.7 L1619.1,573.7 L1621.7,573.7 L1624.2,573.7 L1626.8,573.7 L1629.4,573.7 L1631.9,573.7 L1634.5,573.7 L1637.1,573.7 L1639.7,573.7 L1642.2,573.7 L1644.8,573.7 L1647.4,573.7 L1650.0,573.7 L1652.5,573.7 L1655.1,573.7 L1657.7,573.7 L1660.2,573.7 L1662.8,573.7 L1665.4,573.7 L1668.0,573.7 L1670.5,573.7 L1673.1,573.7 L1675.6,573.7 L1678.1,573.7 L1680.7,573.7 L1683.2,573.7 L1685.7,573.7 L1688.2,573.7 L1690.7,573.7 L1693.3,573.7 L1695.8,573.7 L1698.3,573.7 L1700.8,573.7 L1703.3,573.7 L1705.9,573.7 L1708.4,573.7 L1710.9,573.7 L1713.4,573.7 L1715.9,573.7 L1718.5,573.7 L1721.0,573.7 L1723.5,573.7 L1726.0,573.7 L1728.5,573.7 L1731.1,573.7 L1733.6,573.7 L1736.1,573.7 L1738.6,573.7 L1741.1,573.7 L1743.7,573.7 L1746.2,573.7 L1748.7,573.7 L1751.2,573.7 L1753.7,573.7 L1756.3,573.7 L1758.8,573.7 L1761.3,573.7 L1763.8,573.7 L1766.3,573.7 L1768.9,573.7 L1771.4,573.7 L1773.9,573.7 L1776.4,573.7 L1778.9,573.7 L1781.5,573.7 L1784.0,573.7 L1786.5,573.7 L1789.0,573.7 L1791.5,573.7 L1794.1,573.7 L1796.6,573.7 L1799.1,573.7 L1801.6,573.7 L1804.1,573.7 L1806.7,573.7 L1809.2,573.7 L1811.7,573.7 L1814.2,573.7 L1816.7,573.7 L1819.3,573.7 L1821.8,573.7 L1824.3,573.7 L1826.8,573.7 L1829.3,573.7 L1831.9,573.7 L1834.4,573.7 L1836.9,573.7 L1839.4,573.7 L1841.9,573.7 L1844.5,573.7 L1847.0,573.7 L1849.5,573.7 L1852.0,573.7 L1854.5,573.7 L1857.1,573.7 L1859.6,573.7 L1862.1,573.7 L1864.6,573.7 L1867.1,573.7 L1869.7,573.7 L1872.2,573.7 L1874.7,573.7 L1877.2,573.7 L1879.7,573.7 L1882.3,573.7 L1884.8,573.7 L1887.3,573.7 L1889.8,573.7 L1892.3,573.7 L1894.9,573.7 L1897.4,573.7 L1899.9,573.7 L1902.4,573.7 L1904.9,573.7 L1907.5,573.7 L1910.0,573.7 L1912.5,573.7 L1915.0,573.7 L1917.5,573.7 L1920.1,573.7 L1922.6,573.7 L1925.1,573.7 L1927.6,573.7 L1930.1,573.7 L1932.7,573.7 L1935.2,573.7 L1937.7,573.7 L1940.2,573.7 L1942.7,573.7 L1945.3,573.7 L1947.8,573.7 L1950.3,573.7 L1952.8,573.7 L1955.3,573.7 L1957.9,573.7 L1960.4,573.7 L1962.9,573.7 L1965.4,573.7 L1967.9,573.7 L1970.5,573.7 L1973.0,573.7 L1975.5,573.7 L1978.0,573.7 L1980.5,573.7 L1983.1,573.7 L1985.6,573.7" fill="none" stroke="#a52a2a" stroke-width="2.3" stroke-dasharray="4.5 6.1" stroke-dashoffset="5.3" stroke-linejoin="round" stroke-linecap="butt"/>
<path d="M1152.3,32.5 L1153.3,35.2 L1154.3,37.9 L1155.1,40.6 L1155.8,43.4 L1156.2,45.8 L1156.5,48.3 L1156.9,50.7 L1157.2,53.2 L1157.4,55.7 L1157.7,58.2 L1157.9,60.8 L1158.2,63.3 L1158.4,65.8 L1158.6,68.3 L1158.8,70.9 L1159.0,73.4 L1159.2,75.9 L1159.5,78.4 L1159.7,80.9 L1160.0,83.4 L1160.2,85.9 L1160.4,88.4 L1160.6,90.9 L1160.9,93.4 L1161.1,95.9 L1161.3,98.4 L1161.5,100.9 L1161.7,103.4 L1161.9,105.9 L1162.1,108.4 L1162.4,110.9 L1162.6,113.4 L1162.8,115.9 L1163.0,118.4 L1163.2,120.9 L1163.4,123.4 L1163.6,125.9 L1163.8,128.4 L1164.0,130.9 L1164.2,133.4 L1164.4,135.9 L1164.6,138.4 L1164.8,140.9 L1165.0,143.5 L1165.2,146.1 L1165.4,148.7 L1165.6,151.2 L1165.8,153.8 L1166.0,156.4 L1166.2,159.0 L1166.5,161.6 L1166.7,164.1 L1166.9,166.7 L1167.1,169.3 L1167.3,171.9 L1167.5,174.5 L1167.6,177.1 L1167.8,179.6 L1168.0,182.2 L1168.2,184.8 L1168.4,187.4 L1168.6,190.0 L1168.8,192.5 L1169.0,195.1 L1169.1,197.7 L1169.3,200.3 L1169.5,202.9 L1169.7,205.4 L1169.8,208.0 L1170.0,210.6 L1170.2,213.2 L1170.3,215.8 L1170.5,218.4 L1170.7,220.9 L1170.8,223.5 L1171.0,226.1 L1171.1,228.7 L1171.3,231.3 L1171.5,233.8 L1171.6,236.4 L1171.8,239.0 L1171.9,241.6 L1172.1,244.2 L1172.3,246.7 L1172.4,249.3 L1172.6,251.9 L1172.8,254.5 L1172.9,257.1 L1173.1,259.7 L1173.3,262.2 L1173.4,264.8 L1173.6,267.4 L1173.8,270.0 L1173.9,272.6 L1174.1,275.1 L1174.3,277.7 L1174.4,280.3 L1174.6,282.9 L1174.8,285.5 L1174.9,288.0 L1175.1,290.6 L1175.2,293.2 L1175.4,295.8 L1175.6,298.4 L1175.7,301.0 L1175.9,303.5 L1176.1,306.1 L1176.2,308.7 L1176.4,311.3 L1176.6,313.9 L1176.7,316.4 L1176.9,319.0 L1177.0,321.6 L1177.2,324.2 L1177.4,326.8 L1177.5,329.3 L1177.7,331.9 L1177.8,334.5 L1178.0,337.1 L1178.2,339.7 L1178.3,342.3 L1178.5,344.8 L1178.7,347.4 L1178.9,350.0 L1179.0,352.6 L1179.2,355.2 L1179.4,357.7 L1179.6,360.3 L1179.7,362.9 L1179.9,365.5 L1180.1,368.1 L1180.3,370.6 L1180.5,373.2 L1180.7,375.8 L1180.9,378.4 L1181.1,381.0 L1181.3,383.6 L1181.5,386.1 L1181.7,388.7 L1181.9,391.3 L1182.1,393.9 L1182.3,396.5 L1182.5,399.0 L1182.7,401.6 L1182.9,404.2 L1183.1,406.8 L1183.3,409.4 L1183.5,411.9 L1183.7,414.5 L1183.9,417.1 L1184.1,419.7 L1184.3,422.3 L1184.5,424.9 L1184.7,427.4 L1184.8,430.0 L1185.0,432.6 L1185.2,435.2 L1185.4,437.8 L1185.6,440.4 L1185.7,442.9 L1185.9,445.5 L1186.1,448.1 L1186.3,450.7 L1186.5,453.3 L1186.8,455.8 L1187.0,458.4 L1187.2,461.0 L1187.5,463.6 L1187.7,466.1 L1188.0,468.7 L1188.3,471.2 L1188.6,473.8 L1188.9,476.3 L1189.2,478.8 L1189.5,481.4 L1189.9,483.9 L1190.3,486.4 L1190.7,488.9 L1191.1,491.5 L1191.5,494.0 L1191.9,496.5 L1192.4,499.3 L1193.0,502.1 L1193.6,504.9 L1194.3,507.7 L1194.9,510.4 L1195.5,513.2 L1196.0,516.0 L1196.5,518.7 L1196.9,521.5 L1197.3,524.2 L1197.6,527.0 L1198.0,529.7 L1198.4,532.4 L1198.9,535.1 L1199.5,537.7 L1200.5,540.6 L1201.7,543.4 L1203.1,546.3 L1204.4,549.1 L1205.5,551.8 L1206.7,554.5 L1207.9,557.2 L1209.0,559.6 L1210.1,562.0 L1211.3,564.3 L1212.7,566.4 L1214.3,568.5 L1216.2,570.3 L1218.3,571.8 L1221.6,573.6 L1225.2,573.7 L1227.6,573.7 L1230.0,573.7 L1232.4,573.7 L1234.8,573.7 L1237.1,573.7 L1239.5,573.7 L1241.9,573.7 L1244.3,573.7 L1246.7,573.7 L1249.1,573.7 L1251.5,573.7 L1253.9,573.7 L1256.3,573.7 L1258.6,573.7 L1261.0,573.7 L1263.4,573.7 L1265.8,573.7 L1268.2,573.7 L1270.6,573.7 L1273.0,573.7 L1275.4,573.7 L1277.8,573.7 L1280.2,573.7 L1282.6,573.7 L1285.0,573.7 L1287.4,573.7 L1289.8,573.7 L1292.2,573.7 L1294.6,573.7 L1297.0,573.7 L1299.4,573.7 L1301.8,573.7 L1304.2,573.7 L1306.6,573.7 L1309.0,573.7 L1311.4,573.7 L1313.8,573.7 L1316.2,573.7 L1318.6,573.7 L1321.0,573.7 L1323.4,573.7 L1325.8,573.7 L1328.2,573.7 L1330.6,573.7 L1333.0,573.7 L1335.4,573.7 L1337.8,573.7 L1340.2,573.7 L1342.6,573.7 L1345.1,573.7 L1347.5,573.7 L1349.9,573.7 L1352.3,573.7 L1354.7,573.7 L1357.1,573.7 L1359.5,573.7 L1361.9,573.7 L1364.3,573.7 L1366.8,573.7 L1369.2,573.7 L1371.6,573.7 L1374.0,573.7 L1376.4,573.7 L1378.8,573.7 L1381.3,573.7 L1383.7,573.7 L1386.1,573.7 L1388.5,573.7 L1391.0,573.7 L1393.4,573.7 L1395.8,573.7 L1398.2,573.7 L1400.6,573.7 L1403.1,573.7 L1405.5,573.7 L1407.9,573.7 L1410.3,573.7 L1412.8,573.7 L1415.2,573.7 L1417.6,573.7 L1420.1,573.7 L1422.5,573.7 L1424.9,573.7 L1427.4,573.7 L1429.8,573.7 L1432.2,573.7 L1434.7,573.7 L1437.1,573.7 L1439.5,573.7 L1442.0,573.7 L1444.4,573.7 L1446.8,573.7 L1449.3,573.7 L1451.7,573.7 L1454.1,573.7 L1456.6,573.7 L1459.0,573.7 L1461.5,573.7 L1463.9,573.7 L1466.4,573.7 L1468.8,573.7 L1471.2,573.7 L1473.7,573.7 L1476.1,573.7 L1478.6,573.7 L1481.0,573.7 L1483.5,573.7 L1485.9,573.7 L1488.4,573.7 L1490.8,573.7 L1493.3,573.7 L1495.7,573.7 L1498.2,573.7 L1500.6,573.7 L1503.1,573.7 L1505.6,573.7 L1508.0,573.7 L1510.5,573.7 L1512.9,573.7 L1515.4,573.7 L1517.8,573.7 L1520.3,573.7 L1522.8,573.7 L1525.2,573.7 L1527.7,573.7 L1530.2,573.7 L1532.6,573.7 L1535.1,573.7 L1537.6,573.7 L1540.0,573.7 L1542.5,573.7 L1545.0,573.7 L1547.4,573.7 L1549.9,573.7 L1552.4,573.7 L1554.8,573.7 L1557.3,573.7 L1559.8,573.7 L1562.3,573.7 L1564.7,573.7 L1567.2,573.7 L1569.7,573.7 L1572.2,573.7 L1574.7,573.7 L1577.1,573.7 L1579.6,573.7 L1582.1,573.7 L1584.6,573.7 L1587.1,573.7 L1589.6,573.7 L1592.0,573.7 L1594.5,573.7 L1597.0,573.7 L1599.5,573.7 L1602.0,573.7 L1604.5,573.7 L1607.0,573.7 L1609.5,573.7 L1612.0,573.7 L1614.5,573.7 L1617.0,573.7 L1619.5,573.7 L1622.0,573.7 L1624.5,573.7 L1627.0,573.7 L1629.5,573.7 L1632.0,573.7 L1634.5,573.7 L1637.0,573.7 L1639.5,573.7 L1642.0,573.7 L1644.5,573.7 L1647.0,573.7 L1649.5,573.7 L1652.0,573.7 L1654.5,573.7 L1657.0,573.7 L1659.5,573.7 L1662.1,573.7 L1664.6,573.7 L1667.1,573.7 L1669.6,573.7 L1672.1,573.7 L1674.6,573.7 L1677.2,573.7 L1679.7,573.7 L1682.2,573.7 L1684.7,573.7 L1687.3,573.7 L1689.8,573.7 L1692.3,573.7 L1694.8,573.7 L1697.4,573.7 L1699.9,573.7 L1702.4,573.7 L1705.0,573.7 L1707.5,573.7 L1710.0,573.7 L1712.6,573.7 L1715.1,573.7 L1717.6,573.7 L1720.2,573.7 L1722.7,573.7 L1725.3,573.7 L1727.8,573.7 L1730.3,573.7 L1732.9,573.7 L1735.4,573.7 L1738.0,573.7 L1740.5,573.7 L1743.1,573.7 L1745.6,573.7 L1748.2,573.7 L1750.7,573.7 L1753.3,573.7 L1755.8,573.7 L1758.4,573.7 L1761.0,573.7 L1763.5,573.7 L1766.1,573.7 L1768.6,573.7 L1771.2,573.7 L1773.8,573.7 L1776.3,573.7 L1778.9,573.7 L1781.4,573.7 L1784.0,573.7 L1786.6,573.7 L1789.2,573.7 L1791.7,573.7 L1794.3,573.7 L1796.9,573.7 L1799.4,573.7 L1802.0,573.7 L1804.6,573.7 L1807.2,573.7 L1809.8,573.7 L1812.3,573.7 L1814.9,573.7 L1817.5,573.7 L1820.1,573.7 L1822.7,573.7 L1825.3,573.7 L1827.8,573.7 L1830.4,573.7 L1833.0,573.7 L1835.6,573.7 L1838.2,573.7 L1840.8,573.7 L1843.4,573.7 L1846.0,573.7 L1848.6,573.7 L1851.2,573.7 L1853.8,573.7 L1856.4,573.7 L1859.0,573.7 L1861.6,573.7 L1864.2,573.7 L1866.8,573.7 L1869.4,573.7 L1872.0,573.7 L1874.7,573.7 L1877.3,573.7 L1879.9,573.7 L1882.5,573.7 L1885.1,573.7 L1887.7,573.7 L1890.4,573.7 L1893.0,573.7 L1895.6,573.7 L1898.2,573.7 L1900.8,573.7 L1903.5,573.7 L1906.1,573.7 L1908.7,573.7 L1911.4,573.7 L1914.0,573.7 L1916.6,573.7 L1919.3,573.7 L1921.9,573.7 L1924.5,573.7 L1927.2,573.7 L1929.8,573.7 L1932.5,573.7 L1935.1,573.7 L1937.7,573.7 L1940.4,573.7 L1943.0,573.7 L1945.7,573.7 L1948.3,573.7 L1951.0,573.7 L1953.6,573.7 L1956.3,573.7 L1958.9,573.7 L1961.6,573.7 L1964.3,573.7 L1966.9,573.7 L1969.6,573.7 L1972.2,573.7 L1974.9,573.7 L1977.6,573.7 L1980.2,573.7 L1982.9,573.7 L1985.6,573.7" fill="none" stroke="#ffc0cb" stroke-width="2.3" stroke-dasharray="4.5 6.1" stroke-dashoffset="5.3" stroke-linejoin="round" stroke-linecap="butt"/>
<path d="M1152.3,32.5 L1156.1,32.5 L1159.6,32.5 L1162.8,32.5 L1165.7,32.5 L1168.2,32.5 L1170.2,32.5 L1171.7,32.5 L1172.8,33.4 L1173.7,35.7 L1174.4,38.8 L1175.1,42.1 L1175.9,45.0 L1177.0,47.6 L1178.1,50.1 L1179.2,52.7 L1180.1,55.3 L1180.8,57.8 L1181.5,60.4 L1182.1,63.0 L1182.8,65.6 L1183.4,68.2 L1183.9,70.8 L1184.5,73.5 L1184.9,76.1 L1185.4,78.8 L1185.7,81.4 L1186.1,84.1 L1186.3,86.7 L1186.5,89.3 L1186.7,91.8 L1186.9,94.4 L1187.1,97.0 L1187.2,99.5 L1187.4,102.1 L1187.5,104.7 L1187.7,107.3 L1187.8,109.9 L1187.9,112.5 L1188.0,115.0 L1188.1,117.6 L1188.2,120.2 L1188.3,122.8 L1188.4,125.4 L1188.5,128.0 L1188.6,130.6 L1188.7,133.2 L1188.9,135.8 L1189.0,138.3 L1189.1,140.9 L1189.2,143.5 L1189.4,146.1 L1189.5,148.7 L1189.6,151.2 L1189.8,153.8 L1189.9,156.4 L1190.1,159.0 L1190.2,161.6 L1190.3,164.1 L1190.5,166.7 L1190.6,169.3 L1190.7,171.9 L1190.9,174.5 L1191.0,177.1 L1191.1,179.6 L1191.3,182.2 L1191.4,184.8 L1191.5,187.4 L1191.6,190.0 L1191.8,192.5 L1191.9,195.1 L1192.0,197.7 L1192.1,200.3 L1192.2,202.9 L1192.3,205.4 L1192.4,208.0 L1192.5,210.6 L1192.6,213.2 L1192.7,215.8 L1192.8,218.4 L1192.9,220.9 L1193.0,223.5 L1193.1,226.1 L1193.2,228.7 L1193.3,231.3 L1193.4,233.8 L1193.5,236.4 L1193.6,239.0 L1193.7,241.6 L1193.8,244.2 L1193.9,246.7 L1194.0,249.3 L1194.1,251.9 L1194.2,254.5 L1194.3,257.1 L1194.4,259.7 L1194.4,262.2 L1194.5,264.8 L1194.6,267.4 L1194.7,270.0 L1194.8,272.6 L1194.9,275.1 L1195.0,277.7 L1195.1,280.3 L1195.2,282.9 L1195.3,285.5 L1195.4,288.1 L1195.5,290.6 L1195.6,293.2 L1195.7,295.8 L1195.8,298.4 L1195.9,301.0 L1196.0,303.5 L1196.2,306.1 L1196.3,308.7 L1196.4,311.3 L1196.5,313.9 L1196.6,316.4 L1196.8,319.0 L1196.9,321.6 L1197.0,324.2 L1197.1,326.8 L1197.3,329.4 L1197.4,331.9 L1197.5,334.5 L1197.7,337.1 L1197.8,339.7 L1197.9,342.3 L1198.1,344.8 L1198.2,347.4 L1198.4,350.0 L1198.5,352.6 L1198.7,355.2 L1198.8,357.7 L1199.0,360.3 L1199.2,362.9 L1199.3,365.5 L1199.5,368.1 L1199.7,370.7 L1199.9,373.2 L1200.1,375.8 L1200.3,378.4 L1200.5,381.0 L1200.7,383.6 L1201.0,386.1 L1201.2,388.7 L1201.4,391.3 L1201.6,393.9 L1201.8,396.5 L1202.0,399.0 L1202.2,401.6 L1202.4,404.2 L1202.6,406.8 L1202.8,409.4 L1203.0,411.9 L1203.2,414.5 L1203.4,417.1 L1203.5,419.7 L1203.7,422.3 L1203.9,424.8 L1204.1,427.4 L1204.2,430.0 L1204.4,432.6 L1204.6,435.2 L1204.7,437.8 L1204.9,440.3 L1205.1,442.9 L1205.2,445.5 L1205.4,448.1 L1205.6,450.7 L1205.7,453.2 L1205.9,455.8 L1206.0,458.4 L1206.2,461.0 L1206.3,463.6 L1206.5,466.1 L1206.6,469.0 L1206.7,471.8 L1206.9,474.6 L1207.0,477.4 L1207.2,480.2 L1207.3,483.0 L1207.4,485.7 L1207.6,488.4 L1207.8,491.1 L1207.9,493.8 L1208.1,496.5 L1208.2,499.2 L1208.4,501.9 L1208.5,504.6 L1208.7,507.2 L1208.8,509.7 L1209.0,512.3 L1209.1,514.8 L1209.3,517.4 L1209.4,519.9 L1209.6,522.4 L1209.7,525.0 L1209.9,527.5 L1210.1,530.1 L1210.3,532.6 L1210.4,535.2 L1210.6,537.7 L1210.8,540.3 L1211.0,542.9 L1211.1,545.6 L1211.3,548.3 L1211.5,551.0 L1211.7,553.7 L1211.9,556.3 L1212.2,558.7 L1212.5,561.1 L1212.9,563.3 L1213.4,565.3 L1214.9,567.5 L1217.6,569.5 L1220.4,571.3 L1222.7,573.4 L1225.2,573.7 L1227.4,573.7 L1229.6,573.7 L1231.8,573.7 L1234.0,573.7 L1236.2,573.7 L1238.5,573.7 L1240.7,573.7 L1242.9,573.7 L1245.1,573.7 L1247.3,573.7 L1249.5,573.7 L1251.7,573.7 L1254.0,573.7 L1256.2,573.7 L1258.4,573.7 L1260.6,573.7 L1262.9,573.7 L1265.1,573.7 L1267.3,573.7 L1269.5,573.7 L1271.8,573.7 L1274.0,573.7 L1276.2,573.7 L1278.5,573.7 L1280.7,573.7 L1282.9,573.7 L1285.2,573.7 L1287.4,573.7 L1289.6,573.7 L1291.9,573.7 L1294.1,573.7 L1296.4,573.7 L1298.6,573.7 L1300.9,573.7 L1303.1,573.7 L1305.4,573.7 L1307.6,573.7 L1309.9,573.7 L1312.1,573.7 L1314.4,573.7 L1316.6,573.7 L1318.9,573.7 L1321.1,573.7 L1323.4,573.7 L1325.7,573.7 L1327.9,573.7 L1330.2,573.7 L1332.5,573.7 L1334.7,573.7 L1337.0,573.7 L1339.3,573.7 L1341.6,573.7 L1343.8,573.7 L1346.1,573.7 L1348.4,573.7 L1350.7,573.7 L1353.0,573.7 L1355.2,573.7 L1357.5,573.7 L1359.8,573.7 L1362.1,573.7 L1364.4,573.7 L1366.7,573.7 L1369.0,573.7 L1371.3,573.7 L1373.6,573.7 L1375.9,573.7 L1378.2,573.7 L1380.5,573.7 L1382.8,573.7 L1385.1,573.7 L1387.4,573.7 L1389.7,573.7 L1392.0,573.7 L1394.3,573.7 L1396.6,573.7 L1398.9,573.7 L1401.2,573.7 L1403.6,573.7 L1405.9,573.7 L1408.2,573.7 L1410.5,573.7 L1412.9,573.7 L1415.2,573.7 L1417.5,573.7 L1419.9,573.7 L1422.2,573.7 L1424.5,573.7 L1426.9,573.7 L1429.2,573.7 L1431.5,573.7 L1433.9,573.7 L1436.2,573.7 L1438.6,573.7 L1440.9,573.7 L1443.3,573.7 L1445.6,573.7 L1448.0,573.7 L1450.3,573.7 L1452.7,573.7 L1455.0,573.7 L1457.4,573.7 L1459.8,573.7 L1462.1,573.7 L1464.5,573.7 L1466.9,573.7 L1469.2,573.7 L1471.6,573.7 L1474.0,573.7 L1476.4,573.7 L1478.8,573.7 L1481.1,573.7 L1483.5,573.7 L1485.9,573.7 L1488.3,573.7 L1490.7,573.7 L1493.1,573.7 L1495.5,573.7 L1497.9,573.7 L1500.3,573.7 L1502.7,573.7 L1505.1,573.7 L1507.5,573.7 L1509.9,573.7 L1512.3,573.7 L1514.7,573.7 L1517.1,573.7 L1519.5,573.7 L1521.9,573.7 L1524.4,573.7 L1526.8,573.7 L1529.2,573.7 L1531.6,573.7 L1534.1,573.7 L1536.5,573.7 L1538.9,573.7 L1541.4,573.7 L1543.8,573.7 L1546.2,573.7 L1548.7,573.7 L1551.1,573.7 L1553.6,573.7 L1556.0,573.7 L1558.5,573.7 L1560.9,573.7 L1563.4,573.7 L1565.8,573.7 L1568.3,573.7 L1570.8,573.7 L1573.2,573.7 L1575.7,573.7 L1578.2,573.7 L1580.6,573.7 L1583.1,573.7 L1585.6,573.7 L1588.1,573.7 L1590.5,573.7 L1593.0,573.7 L1595.5,573.7 L1598.0,573.7 L1600.5,573.7 L1603.0,573.7 L1605.5,573.7 L1608.0,573.7 L1610.5,573.7 L1613.0,573.7 L1615.5,573.7 L1618.0,573.7 L1620.5,573.7 L1623.0,573.7 L1625.5,573.7 L1628.1,573.7 L1630.6,573.7 L1633.1,573.7 L1635.6,573.7 L1638.2,573.7 L1640.7,573.7 L1643.2,573.7 L1645.8,573.7 L1648.3,573.7 L1650.8,573.7 L1653.4,573.7 L1655.9,573.7 L1658.5,573.7 L1661.0,573.7 L1663.6,573.7 L1666.1,573.7 L1668.7,573.7 L1671.3,573.7 L1673.8,573.7 L1676.4,573.7 L1679.0,573.7 L1681.5,573.7 L1684.1,573.7 L1686.7,573.7 L1689.3,573.7 L1691.9,573.7 L1694.4,573.7 L1697.0,573.7 L1699.6,573.7 L1702.2,573.7 L1704.8,573.7 L1707.4,573.7 L1710.0,573.7 L1712.6,573.7 L1715.2,573.7 L1717.8,573.7 L1720.5,573.7 L1723.1,573.7 L1725.7,573.7 L1728.3,573.7 L1730.9,573.7 L1733.6,573.7 L1736.2,573.7 L1738.8,573.7 L1741.5,573.7 L1744.1,573.7 L1746.7,573.7 L1749.4,573.7 L1752.0,573.7 L1754.7,573.7 L1757.3,573.7 L1760.0,573.7 L1762.7,573.7 L1765.3,573.7 L1768.0,573.7 L1770.7,573.7 L1773.3,573.7 L1776.0,573.7 L1778.7,573.7 L1781.4,573.7 L1784.0,573.7 L1786.7,573.7 L1789.4,573.7 L1792.1,573.7 L1794.8,573.7 L1797.5,573.7 L1800.2,573.7 L1802.9,573.7 L1805.6,573.7 L1808.3,573.7 L1811.0,573.7 L1813.8,573.7 L1816.5,573.7 L1819.2,573.7 L1821.9,573.7 L1824.7,573.7 L1827.4,573.7 L1830.1,573.7 L1832.9,573.7 L1835.6,573.7 L1838.3,573.7 L1841.1,573.7 L1843.8,573.7 L1846.6,573.7 L1849.4,573.7 L1852.1,573.7 L1854.9,573.7 L1857.6,573.7 L1860.4,573.7 L1863.2,573.7 L1866.0,573.7 L1868.7,573.7 L1871.5,573.7 L1874.3,573.7 L1877.1,573.7 L1879.9,573.7 L1882.7,573.7 L1885.5,573.7 L1888.3,573.7 L1891.1,573.7 L1893.9,573.7 L1896.7,573.7 L1899.5,573.7 L1902.4,573.7 L1905.2,573.7 L1908.0,573.7 L1910.8,573.7 L1913.7,573.7 L1916.5,573.7 L1919.3,573.7 L1922.2,573.7 L1925.0,573.7 L1927.9,573.7 L1930.7,573.7 L1933.6,573.7 L1936.4,573.7 L1939.3,573.7 L1942.2,573.7 L1945.0,573.7 L1947.9,573.7 L1950.8,573.7 L1953.7,573.7 L1956.6,573.7 L1959.4,573.7 L1962.3,573.7 L1965.2,573.7 L1968.1,573.7 L1971.0,573.7 L1973.9,573.7 L1976.8,573.7 L1979.7,573.7 L1982.7,573.7 L1985.6,573.7" fill="none" stroke="#ffa500" stroke-width="2.3" stroke-dasharray="4.5 6.1" stroke-dashoffset="5.3" stroke-linejoin="round" stroke-linecap="butt"/>
<path d="M1152.3,32.5 L1155.5,32.5 L1158.6,32.5 L1161.7,32.5 L1164.7,32.5 L1167.7,32.5 L1170.7,32.5 L1173.6,32.5 L1176.4,32.5 L1179.2,32.5 L1182.0,32.5 L1184.8,32.5 L1187.5,32.5 L1190.1,32.5 L1192.8,32.5 L1195.4,32.5 L1197.9,32.5 L1200.4,32.5 L1202.9,32.5 L1205.4,32.5 L1207.8,32.5 L1210.2,32.5 L1212.5,32.5 L1214.8,32.5 L1217.1,32.5 L1219.4,32.5 L1221.6,32.5 L1223.8,32.5 L1226.0,32.5 L1228.1,32.5 L1230.3,32.5 L1232.4,32.5 L1234.4,32.5 L1236.5,32.5 L1238.5,32.5 L1240.5,32.5 L1242.9,33.8 L1245.2,36.7 L1247.4,39.6 L1249.2,41.5 L1250.8,43.5 L1252.5,45.4 L1254.4,47.1 L1256.5,48.7 L1258.8,50.2 L1261.1,51.6 L1263.4,53.1 L1266.0,55.0 L1268.6,57.0 L1271.0,59.1 L1273.0,61.0 L1275.0,63.0 L1276.9,65.0 L1278.7,67.2 L1280.5,69.3 L1282.2,71.5 L1283.6,73.6 L1285.1,75.7 L1286.5,77.9 L1287.8,80.1 L1289.2,82.3 L1290.5,84.5 L1291.9,86.7 L1293.4,89.0 L1294.8,91.4 L1296.3,93.7 L1297.8,96.0 L1299.3,98.4 L1300.8,100.7 L1302.3,103.0 L1303.8,105.3 L1305.3,107.6 L1306.8,110.0 L1308.4,112.3 L1310.0,114.6 L1311.6,116.7 L1313.4,118.7 L1315.1,120.4 L1317.0,122.0 L1319.0,123.5 L1321.0,125.0 L1323.1,126.5 L1325.2,127.9 L1327.3,129.3 L1329.4,130.8 L1331.5,132.2 L1333.7,133.9 L1336.0,135.5 L1338.4,137.1 L1340.7,138.7 L1343.0,140.3 L1345.2,141.9 L1347.4,143.6 L1349.4,145.3 L1351.2,147.1 L1353.1,149.0 L1354.9,150.8 L1356.7,152.7 L1358.6,154.4 L1360.6,155.9 L1362.7,157.2 L1366.3,158.5 L1369.6,159.9 L1371.6,161.4 L1373.3,163.4 L1374.9,165.7 L1376.4,168.1 L1377.8,170.7 L1379.3,173.2 L1380.8,175.6 L1382.2,177.8 L1383.6,180.0 L1385.0,182.3 L1386.4,184.5 L1387.8,186.7 L1389.1,189.0 L1390.5,191.3 L1391.9,193.5 L1393.3,195.8 L1394.6,198.1 L1396.0,200.4 L1397.4,202.7 L1398.8,205.0 L1400.2,207.4 L1401.6,209.6 L1403.0,211.9 L1404.4,214.2 L1405.9,216.4 L1407.3,218.7 L1408.8,220.9 L1410.3,223.2 L1411.8,225.4 L1413.3,227.6 L1414.8,229.8 L1416.3,232.1 L1417.9,234.4 L1419.5,236.6 L1421.0,238.9 L1422.6,241.1 L1424.2,243.3 L1425.9,245.5 L1427.4,247.5 L1429.0,249.5 L1430.6,251.4 L1432.2,253.3 L1433.8,255.3 L1435.4,257.2 L1437.0,259.1 L1438.9,261.2 L1440.8,263.4 L1442.7,265.5 L1444.6,267.6 L1446.4,269.8 L1448.1,272.1 L1449.5,274.2 L1450.9,276.4 L1452.2,278.6 L1453.5,280.9 L1454.8,283.2 L1456.0,285.5 L1457.1,287.8 L1458.4,290.3 L1459.6,292.7 L1460.9,295.2 L1462.1,297.7 L1463.2,300.2 L1464.3,302.7 L1465.3,305.3 L1466.2,307.9 L1467.0,310.6 L1467.7,313.4 L1468.4,316.2 L1469.0,319.0 L1469.7,321.9 L1470.3,324.7 L1470.9,327.1 L1471.5,329.6 L1472.1,332.1 L1472.6,334.5 L1473.2,337.0 L1473.7,339.5 L1474.3,341.9 L1474.8,344.4 L1475.4,346.9 L1476.0,349.3 L1476.6,351.8 L1477.2,354.4 L1477.9,357.1 L1478.6,359.8 L1479.3,362.4 L1480.0,365.1 L1480.7,367.7 L1481.4,370.4 L1482.1,373.0 L1482.8,375.7 L1483.5,378.3 L1484.2,380.8 L1484.8,383.3 L1485.5,385.7 L1486.2,388.2 L1486.9,390.6 L1487.5,393.1 L1488.2,395.5 L1488.8,398.0 L1489.4,400.5 L1489.9,403.0 L1490.5,405.4 L1491.0,407.9 L1491.4,410.5 L1491.9,413.0 L1492.3,415.5 L1492.8,418.0 L1493.2,420.6 L1493.6,423.1 L1494.0,425.6 L1494.4,428.2 L1494.8,430.7 L1495.1,433.2 L1495.5,435.8 L1495.9,438.3 L1496.3,440.9 L1496.7,443.4 L1497.1,445.9 L1497.5,448.4 L1497.9,451.0 L1498.3,453.5 L1498.7,456.0 L1499.1,458.6 L1499.5,461.1 L1499.9,463.6 L1500.3,466.2 L1500.7,468.7 L1501.2,471.2 L1501.6,473.7 L1502.1,476.4 L1502.5,479.1 L1503.0,481.7 L1503.5,484.4 L1504.0,487.1 L1504.5,489.7 L1505.0,492.4 L1505.6,495.0 L1506.1,497.7 L1506.6,500.4 L1507.1,503.0 L1507.7,505.7 L1508.2,508.4 L1508.6,511.0 L1509.1,513.7 L1509.6,516.4 L1510.2,519.1 L1510.7,521.7 L1511.3,524.4 L1512.0,527.0 L1512.7,529.6 L1513.5,532.2 L1514.4,534.8 L1515.5,537.5 L1516.6,540.0 L1517.8,542.6 L1519.0,545.1 L1520.3,547.5 L1521.7,549.9 L1523.3,552.3 L1525.0,554.6 L1526.8,556.9 L1528.8,559.1 L1530.8,561.2 L1532.8,563.2 L1534.9,565.0 L1537.0,566.9 L1539.2,568.6 L1541.6,570.1 L1543.9,571.3 L1546.6,572.4 L1549.4,573.5 L1552.2,573.7 L1555.1,573.7 L1557.5,573.7 L1559.9,573.7 L1562.4,573.7 L1564.8,573.7 L1567.2,573.7 L1569.7,573.7 L1572.1,573.7 L1574.6,573.7 L1577.0,573.7 L1579.4,573.7 L1581.9,573.7 L1584.3,573.7 L1586.8,573.7 L1589.2,573.7 L1591.6,573.7 L1594.1,573.7 L1596.5,573.7 L1599.0,573.7 L1601.4,573.7 L1603.9,573.7 L1606.3,573.7 L1608.8,573.7 L1611.2,573.7 L1613.6,573.7 L1616.1,573.7 L1618.5,573.7 L1621.0,573.7 L1623.4,573.7 L1625.9,573.7 L1628.3,573.7 L1630.8,573.7 L1633.2,573.7 L1635.7,573.7 L1638.2,573.7 L1640.6,573.7 L1643.1,573.7 L1645.5,573.7 L1648.0,573.7 L1650.4,573.7 L1652.9,573.7 L1655.3,573.7 L1657.8,573.7 L1660.3,573.7 L1662.7,573.7 L1665.2,573.7 L1667.6,573.7 L1670.1,573.7 L1672.6,573.7 L1675.0,573.7 L1677.5,573.7 L1680.0,573.7 L1682.4,573.7 L1684.9,573.7 L1687.4,573.7 L1689.8,573.7 L1692.3,573.7 L1694.8,573.7 L1697.2,573.7 L1699.7,573.7 L1702.2,573.7 L1704.7,573.7 L1707.1,573.7 L1709.6,573.7 L1712.1,573.7 L1714.6,573.7 L1717.0,573.7 L1719.5,573.7 L1722.0,573.7 L1724.5,573.7 L1727.0,573.7 L1729.4,573.7 L1731.9,573.7 L1734.4,573.7 L1736.9,573.7 L1739.4,573.7 L1741.9,573.7 L1744.3,573.7 L1746.8,573.7 L1749.3,573.7 L1751.8,573.7 L1754.3,573.7 L1756.8,573.7 L1759.3,573.7 L1761.8,573.7 L1764.3,573.7 L1766.8,573.7 L1769.3,573.7 L1771.8,573.7 L1774.2,573.7 L1776.7,573.7 L1779.2,573.7 L1781.7,573.7 L1784.3,573.7 L1786.8,573.7 L1789.3,573.7 L1791.8,573.7 L1794.3,573.7 L1796.8,573.7 L1799.3,573.7 L1801.8,573.7 L1804.3,573.7 L1806.8,573.7 L1809.3,573.7 L1811.8,573.7 L1814.4,573.7 L1816.9,573.7 L1819.4,573.7 L1821.9,573.7 L1824.4,573.7 L1826.9,573.7 L1829.5,573.7 L1832.0,573.7 L1834.5,573.7 L1837.0,573.7 L1839.6,573.7 L1842.1,573.7 L1844.6,573.7 L1847.1,573.7 L1849.7,573.7 L1852.2,573.7 L1854.7,573.7 L1857.3,573.7 L1859.8,573.7 L1862.3,573.7 L1864.9,573.7 L1867.4,573.7 L1869.9,573.7 L1872.5,573.7 L1875.0,573.7 L1877.6,573.7 L1880.1,573.7 L1882.7,573.7 L1885.2,573.7 L1887.8,573.7 L1890.3,573.7 L1892.9,573.7 L1895.4,573.7 L1898.0,573.7 L1900.5,573.7 L1903.1,573.7 L1905.6,573.7 L1908.2,573.7 L1910.7,573.7 L1913.3,573.7 L1915.9,573.7 L1918.4,573.7 L1921.0,573.7 L1923.6,573.7 L1926.1,573.7 L1928.7,573.7 L1931.3,573.7 L1933.8,573.7 L1936.4,573.7 L1939.0,573.7 L1941.6,573.7 L1944.1,573.7 L1946.7,573.7 L1949.3,573.7 L1951.9,573.7 L1954.5,573.7 L1957.1,573.7 L1959.6,573.7 L1962.2,573.7 L1964.8,573.7 L1967.4,573.7 L1970.0,573.7 L1972.6,573.7 L1975.2,573.7 L1977.8,573.7 L1980.4,573.7 L1983.0,573.7 L1985.6,573.7" fill="none" stroke="#ff7f50" stroke-width="2.3" stroke-dasharray="4.5 6.1" stroke-linejoin="round" stroke-linecap="butt"/>
<path d="M1152.3,32.5 L1155.8,32.5 L1159.1,32.5 L1162.3,32.5 L1165.4,32.5 L1168.4,32.5 L1171.3,32.5 L1174.1,32.5 L1176.7,32.5 L1179.2,32.5 L1181.7,32.5 L1184.0,32.5 L1186.2,32.5 L1188.3,32.5 L1190.3,32.5 L1192.2,32.5 L1194.0,32.5 L1195.7,33.3 L1197.5,35.2 L1199.1,37.9 L1200.3,40.7 L1200.9,43.4 L1201.2,45.7 L1201.4,48.1 L1201.6,50.5 L1201.7,53.0 L1201.8,55.5 L1202.0,58.0 L1202.1,60.6 L1202.1,63.2 L1202.2,65.8 L1202.3,68.4 L1202.4,71.1 L1202.4,73.7 L1202.5,76.3 L1202.6,79.0 L1202.7,81.6 L1202.8,84.2 L1203.0,86.7 L1203.2,89.3 L1203.3,91.9 L1203.5,94.5 L1203.7,97.0 L1203.9,99.6 L1204.2,102.2 L1204.4,104.8 L1204.6,107.4 L1204.9,109.9 L1205.1,112.5 L1205.4,115.1 L1205.6,117.7 L1205.9,120.3 L1206.1,122.8 L1206.3,125.4 L1206.5,128.0 L1206.8,130.6 L1207.0,133.2 L1207.2,135.8 L1207.3,138.3 L1207.5,140.9 L1207.7,143.4 L1207.8,146.0 L1207.9,148.5 L1208.1,151.0 L1208.2,153.5 L1208.4,156.0 L1208.5,158.6 L1208.6,161.1 L1208.7,163.6 L1208.9,166.1 L1209.0,168.6 L1209.1,171.2 L1209.2,173.7 L1209.3,176.2 L1209.4,178.7 L1209.5,181.2 L1209.7,183.8 L1209.8,186.3 L1209.9,188.8 L1210.0,191.3 L1210.1,193.8 L1210.2,196.4 L1210.3,198.9 L1210.4,201.4 L1210.5,203.9 L1210.6,206.5 L1210.7,209.0 L1210.8,211.5 L1210.9,214.0 L1211.0,216.5 L1211.1,219.1 L1211.2,221.6 L1211.3,224.1 L1211.4,226.6 L1211.5,229.2 L1211.6,231.7 L1211.7,234.2 L1211.8,236.7 L1211.9,239.2 L1212.0,241.8 L1212.1,244.3 L1212.2,246.8 L1212.4,249.3 L1212.5,251.9 L1212.6,254.4 L1212.7,256.9 L1212.8,259.4 L1213.0,261.9 L1213.1,264.5 L1213.2,267.0 L1213.3,269.5 L1213.5,272.0 L1213.6,274.5 L1213.7,277.1 L1213.9,279.6 L1214.0,282.1 L1214.1,284.6 L1214.3,287.1 L1214.4,289.7 L1214.5,292.2 L1214.7,294.7 L1214.8,297.2 L1214.9,299.7 L1215.0,302.3 L1215.2,304.8 L1215.3,307.3 L1215.4,309.8 L1215.6,312.4 L1215.7,314.9 L1215.8,317.4 L1215.9,319.9 L1216.1,322.4 L1216.2,325.0 L1216.3,327.5 L1216.4,330.0 L1216.5,332.5 L1216.6,335.0 L1216.8,337.6 L1216.9,340.1 L1217.0,342.6 L1217.1,345.1 L1217.2,347.7 L1217.3,350.2 L1217.4,352.7 L1217.5,355.2 L1217.6,357.7 L1217.7,360.3 L1217.7,362.8 L1217.8,365.3 L1217.9,367.8 L1218.0,370.3 L1218.1,372.9 L1218.1,375.4 L1218.2,377.9 L1218.3,380.4 L1218.4,383.0 L1218.4,385.5 L1218.5,388.0 L1218.5,390.5 L1218.6,393.0 L1218.7,395.6 L1218.7,398.1 L1218.8,400.6 L1218.9,403.1 L1218.9,405.6 L1219.0,408.2 L1219.0,410.7 L1219.1,413.2 L1219.2,415.7 L1219.2,418.3 L1219.3,420.8 L1219.3,423.3 L1219.4,425.8 L1219.5,428.3 L1219.5,430.9 L1219.6,433.4 L1219.7,435.9 L1219.7,438.4 L1219.8,441.0 L1219.9,443.5 L1220.0,446.0 L1220.1,448.5 L1220.1,451.0 L1220.2,453.6 L1220.3,456.1 L1220.4,458.6 L1220.5,461.1 L1220.6,463.6 L1220.7,466.1 L1220.8,468.7 L1220.9,471.3 L1221.1,473.9 L1221.2,476.5 L1221.4,479.1 L1221.6,481.6 L1221.8,484.2 L1221.9,486.8 L1222.1,489.4 L1222.3,492.0 L1222.5,494.5 L1222.7,497.1 L1222.9,499.7 L1223.1,502.3 L1223.3,504.9 L1223.5,507.4 L1223.6,510.0 L1223.8,512.6 L1223.9,515.2 L1224.1,517.8 L1224.2,520.4 L1224.3,522.9 L1224.4,525.5 L1224.4,528.0 L1224.5,530.6 L1224.5,533.2 L1224.6,535.8 L1224.6,538.4 L1224.7,541.0 L1224.7,543.5 L1224.8,546.1 L1224.8,548.7 L1224.9,551.2 L1225.0,553.8 L1225.1,556.3 L1225.2,558.8 L1225.4,561.3 L1225.6,563.7 L1226.1,566.7 L1227.2,569.7 L1228.7,571.8 L1231.8,573.7 L1235.6,573.7 L1238.0,573.7 L1240.4,573.7 L1242.8,573.7 L1245.2,573.7 L1247.6,573.7 L1250.0,573.7 L1252.4,573.7 L1254.8,573.7 L1257.2,573.7 L1259.6,573.7 L1262.0,573.7 L1264.4,573.7 L1266.8,573.7 L1269.2,573.7 L1271.6,573.7 L1274.0,573.7 L1276.3,573.7 L1278.7,573.7 L1281.1,573.7 L1283.6,573.7 L1286.0,573.7 L1288.4,573.7 L1290.8,573.7 L1293.2,573.7 L1295.6,573.7 L1298.0,573.7 L1300.4,573.7 L1302.8,573.7 L1305.2,573.7 L1307.6,573.7 L1310.0,573.7 L1312.4,573.7 L1314.8,573.7 L1317.2,573.7 L1319.6,573.7 L1322.0,573.7 L1324.4,573.7 L1326.8,573.7 L1329.3,573.7 L1331.7,573.7 L1334.1,573.7 L1336.5,573.7 L1338.9,573.7 L1341.3,573.7 L1343.7,573.7 L1346.1,573.7 L1348.6,573.7 L1351.0,573.7 L1353.4,573.7 L1355.8,573.7 L1358.2,573.7 L1360.6,573.7 L1363.1,573.7 L1365.5,573.7 L1367.9,573.7 L1370.3,573.7 L1372.7,573.7 L1375.2,573.7 L1377.6,573.7 L1380.0,573.7 L1382.4,573.7 L1384.9,573.7 L1387.3,573.7 L1389.7,573.7 L1392.1,573.7 L1394.6,573.7 L1397.0,573.7 L1399.4,573.7 L1401.9,573.7 L1404.3,573.7 L1406.7,573.7 L1409.1,573.7 L1411.6,573.7 L1414.0,573.7 L1416.4,573.7 L1418.9,573.7 L1421.3,573.7 L1423.7,573.7 L1426.2,573.7 L1428.6,573.7 L1431.1,573.7 L1433.5,573.7 L1435.9,573.7 L1438.4,573.7 L1440.8,573.7 L1443.3,573.7 L1445.7,573.7 L1448.1,573.7 L1450.6,573.7 L1453.0,573.7 L1455.5,573.7 L1457.9,573.7 L1460.4,573.7 L1462.8,573.7 L1465.3,573.7 L1467.7,573.7 L1470.1,573.7 L1472.6,573.7 L1475.0,573.7 L1477.5,573.7 L1480.0,573.7 L1482.4,573.7 L1484.9,573.7 L1487.3,573.7 L1489.8,573.7 L1492.2,573.7 L1494.7,573.7 L1497.1,573.7 L1499.6,573.7 L1502.1,573.7 L1504.5,573.7 L1507.0,573.7 L1509.4,573.7 L1511.9,573.7 L1514.4,573.7 L1516.8,573.7 L1519.3,573.7 L1521.8,573.7 L1524.2,573.7 L1526.7,573.7 L1529.2,573.7 L1531.6,573.7 L1534.1,573.7 L1536.6,573.7 L1539.0,573.7 L1541.5,573.7 L1544.0,573.7 L1546.5,573.7 L1548.9,573.7 L1551.4,573.7 L1553.9,573.7 L1556.4,573.7 L1558.9,573.7 L1561.3,573.7 L1563.8,573.7 L1566.3,573.7 L1568.8,573.7 L1571.3,573.7 L1573.8,573.7 L1576.2,573.7 L1578.7,573.7 L1581.2,573.7 L1583.7,573.7 L1586.2,573.7 L1588.7,573.7 L1591.2,573.7 L1593.7,573.7 L1596.2,573.7 L1598.6,573.7 L1601.1,573.7 L1603.6,573.7 L1606.1,573.7 L1608.6,573.7 L1611.1,573.7 L1613.6,573.7 L1616.1,573.7 L1618.6,573.7 L1621.1,573.7 L1623.6,573.7 L1626.1,573.7 L1628.6,573.7 L1631.2,573.7 L1633.7,573.7 L1636.2,573.7 L1638.7,573.7 L1641.2,573.7 L1643.7,573.7 L1646.2,573.7 L1648.7,573.7 L1651.2,573.7 L1653.8,573.7 L1656.3,573.7 L1658.8,573.7 L1661.3,573.7 L1663.8,573.7 L1666.4,573.7 L1668.9,573.7 L1671.4,573.7 L1673.9,573.7 L1676.5,573.7 L1679.0,573.7 L1681.5,573.7 L1684.0,573.7 L1686.6,573.7 L1689.1,573.7 L1691.6,573.7 L1694.2,573.7 L1696.7,573.7 L1699.2,573.7 L1701.8,573.7 L1704.3,573.7 L1706.8,573.7 L1709.4,573.7 L1711.9,573.7 L1714.5,573.7 L1717.0,573.7 L1719.5,573.7 L1722.1,573.7 L1724.6,573.7 L1727.2,573.7 L1729.7,573.7 L1732.3,573.7 L1734.8,573.7 L1737.4,573.7 L1739.9,573.7 L1742.5,573.7 L1745.0,573.7 L1747.6,573.7 L1750.2,573.7 L1752.7,573.7 L1755.3,573.7 L1757.8,573.7 L1760.4,573.7 L1763.0,573.7 L1765.5,573.7 L1768.1,573.7 L1770.7,573.7 L1773.2,573.7 L1775.8,573.7 L1778.4,573.7 L1780.9,573.7 L1783.5,573.7 L1786.1,573.7 L1788.7,573.7 L1791.2,573.7 L1793.8,573.7 L1796.4,573.7 L1799.0,573.7 L1801.6,573.7 L1804.1,573.7 L1806.7,573.7 L1809.3,573.7 L1811.9,573.7 L1814.5,573.7 L1817.1,573.7 L1819.7,573.7 L1822.3,573.7 L1824.9,573.7 L1827.5,573.7 L1830.0,573.7 L1832.6,573.7 L1835.2,573.7 L1837.8,573.7 L1840.4,573.7 L1843.0,573.7 L1845.6,573.7 L1848.3,573.7 L1850.9,573.7 L1853.5,573.7 L1856.1,573.7 L1858.7,573.7 L1861.3,573.7 L1863.9,573.7 L1866.5,573.7 L1869.1,573.7 L1871.8,573.7 L1874.4,573.7 L1877.0,573.7 L1879.6,573.7 L1882.2,573.7 L1884.9,573.7 L1887.5,573.7 L1890.1,573.7 L1892.7,573.7 L1895.4,573.7 L1898.0,573.7 L1900.6,573.7 L1903.3,573.7 L1905.9,573.7 L1908.5,573.7 L1911.2,573.7 L1913.8,573.7 L1916.4,573.7 L1919.1,573.7 L1921.7,573.7 L1924.4,573.7 L1927.0,573.7 L1929.7,573.7 L1932.3,573.7 L1935.0,573.7 L1937.6,573.7 L1940.3,573.7 L1942.9,573.7 L1945.6,573.7 L1948.2,573.7 L1950.9,573.7 L1953.5,573.7 L1956.2,573.7 L1958.9,573.7 L1961.5,573.7 L1964.2,573.7 L1966.9,573.7 L1969.5,573.7 L1972.2,573.7 L1974.9,573.7 L1977.6,573.7 L1980.2,573.7 L1982.9,573.7 L1985.6,573.7" fill="none" stroke="#00ee00" stroke-width="2.3" stroke-dasharray="4.5 6.1" stroke-dashoffset="5.3" stroke-linejoin="round" stroke-linecap="butt"/>
<path d="M1152.3,32.5 L1155.8,32.5 L1159.1,32.5 L1162.3,32.5 L1165.4,32.5 L1168.4,32.5 L1171.3,32.5 L1174.1,32.5 L1176.7,32.5 L1179.2,32.5 L1181.7,32.5 L1184.0,32.5 L1186.2,32.5 L1188.3,32.5 L1190.3,32.5 L1192.2,32.5 L1194.0,32.5 L1195.7,33.3 L1197.5,35.2 L1199.1,37.9 L1200.3,40.7 L1200.9,43.4 L1201.2,45.7 L1201.4,48.1 L1201.6,50.5 L1201.7,53.0 L1201.8,55.5 L1202.0,58.0 L1202.1,60.6 L1202.1,63.2 L1202.2,65.8 L1202.3,68.4 L1202.4,71.1 L1202.4,73.7 L1202.5,76.3 L1202.6,79.0 L1202.7,81.6 L1202.8,84.2 L1203.0,86.7 L1203.2,89.3 L1203.3,91.9 L1203.5,94.5 L1203.7,97.0 L1203.9,99.6 L1204.2,102.2 L1204.4,104.8 L1204.6,107.4 L1204.9,109.9 L1205.1,112.5 L1205.4,115.1 L1205.6,117.7 L1205.8,120.3 L1206.1,122.8 L1206.3,125.4 L1206.5,128.0 L1206.7,130.6 L1207.0,133.2 L1207.2,135.8 L1207.3,138.3 L1207.5,140.9 L1207.7,143.4 L1207.8,146.0 L1208.0,148.5 L1208.1,151.0 L1208.3,153.5 L1208.4,156.0 L1208.5,158.6 L1208.7,161.1 L1208.8,163.6 L1208.9,166.1 L1209.1,168.6 L1209.2,171.2 L1209.3,173.7 L1209.4,176.2 L1209.5,178.7 L1209.7,181.2 L1209.8,183.8 L1209.9,186.3 L1210.0,188.8 L1210.1,191.3 L1210.2,193.8 L1210.3,196.4 L1210.5,198.9 L1210.6,201.4 L1210.7,203.9 L1210.8,206.5 L1210.9,209.0 L1211.0,211.5 L1211.1,214.0 L1211.2,216.5 L1211.3,219.1 L1211.4,221.6 L1211.5,224.1 L1211.7,226.6 L1211.8,229.2 L1211.9,231.7 L1212.0,234.2 L1212.1,236.7 L1212.2,239.2 L1212.3,241.8 L1212.5,244.3 L1212.6,246.8 L1212.7,249.3 L1212.8,251.9 L1213.0,254.4 L1213.1,256.9 L1213.2,259.4 L1213.4,261.9 L1213.5,264.5 L1213.6,267.0 L1213.8,269.5 L1213.9,272.0 L1214.0,274.5 L1214.2,277.1 L1214.3,279.6 L1214.4,282.1 L1214.6,284.6 L1214.7,287.1 L1214.9,289.7 L1215.0,292.2 L1215.1,294.7 L1215.3,297.2 L1215.4,299.7 L1215.6,302.3 L1215.7,304.8 L1215.8,307.3 L1216.0,309.8 L1216.1,312.4 L1216.2,314.9 L1216.4,317.4 L1216.5,319.9 L1216.6,322.4 L1216.8,325.0 L1216.9,327.5 L1217.0,330.0 L1217.1,332.5 L1217.3,335.0 L1217.4,337.6 L1217.5,340.1 L1217.6,342.6 L1217.7,345.1 L1217.8,347.7 L1218.0,350.2 L1218.1,352.7 L1218.2,355.2 L1218.3,357.7 L1218.4,360.3 L1218.5,362.8 L1218.6,365.3 L1218.6,367.8 L1218.7,370.3 L1218.8,372.9 L1218.9,375.4 L1219.0,377.9 L1219.1,380.4 L1219.1,382.9 L1219.2,385.5 L1219.3,388.0 L1219.4,390.5 L1219.4,393.0 L1219.5,395.6 L1219.6,398.1 L1219.6,400.6 L1219.7,403.1 L1219.8,405.6 L1219.8,408.2 L1219.9,410.7 L1220.0,413.2 L1220.0,415.7 L1220.1,418.3 L1220.2,420.8 L1220.3,423.3 L1220.3,425.8 L1220.4,428.3 L1220.5,430.9 L1220.5,433.4 L1220.6,435.9 L1220.7,438.4 L1220.8,440.9 L1220.9,443.5 L1221.0,446.0 L1221.0,448.5 L1221.1,451.0 L1221.2,453.6 L1221.3,456.1 L1221.4,458.6 L1221.5,461.1 L1221.6,463.6 L1221.7,466.1 L1221.9,468.7 L1222.0,471.3 L1222.1,473.9 L1222.3,476.5 L1222.5,479.1 L1222.6,481.6 L1222.8,484.2 L1223.0,486.8 L1223.2,489.4 L1223.4,492.0 L1223.6,494.5 L1223.8,497.1 L1224.0,499.7 L1224.2,502.3 L1224.3,504.9 L1224.5,507.4 L1224.7,510.0 L1224.8,512.6 L1225.0,515.2 L1225.1,517.8 L1225.2,520.4 L1225.3,523.0 L1225.4,525.7 L1225.5,528.5 L1225.5,531.3 L1225.6,534.2 L1225.6,537.1 L1225.7,540.0 L1225.7,542.8 L1225.8,545.6 L1225.8,548.4 L1225.9,551.0 L1226.0,553.5 L1226.0,555.9 L1226.2,558.2 L1226.3,560.2 L1226.4,562.1 L1226.6,563.7 L1227.7,565.2 L1230.2,566.4 L1233.3,567.5 L1236.5,568.7 L1239.1,570.2 L1240.8,572.8 L1242.6,573.7 L1244.4,573.7 L1246.2,573.7 L1248.0,573.7 L1249.8,573.7 L1251.6,573.7 L1253.4,573.7 L1255.2,573.7 L1257.0,573.7 L1258.8,573.7 L1260.6,573.7 L1262.5,573.7 L1264.3,573.7 L1266.1,573.7 L1267.9,573.7 L1269.8,573.7 L1271.6,573.7 L1273.5,573.7 L1275.3,573.7 L1277.2,573.7 L1279.0,573.7 L1280.9,573.7 L1282.8,573.7 L1284.6,573.7 L1286.5,573.7 L1288.4,573.7 L1290.3,573.7 L1292.1,573.7 L1294.0,573.7 L1295.9,573.7 L1297.8,573.7 L1299.7,573.7 L1301.6,573.7 L1303.5,573.7 L1305.4,573.7 L1307.3,573.7 L1309.2,573.7 L1311.2,573.7 L1313.1,573.7 L1315.0,573.7 L1316.9,573.7 L1318.9,573.7 L1320.8,573.7 L1322.8,573.7 L1324.7,573.7 L1326.7,573.7 L1328.6,573.7 L1330.6,573.7 L1332.5,573.7 L1334.5,573.7 L1336.5,573.7 L1338.5,573.7 L1340.4,573.7 L1342.4,573.7 L1344.4,573.7 L1346.4,573.7 L1348.4,573.7 L1350.4,573.7 L1352.4,573.7 L1354.4,573.7 L1356.4,573.7 L1358.5,573.7 L1360.5,573.7 L1362.5,573.7 L1364.5,573.7 L1366.6,573.7 L1368.6,573.7 L1370.6,573.7 L1372.7,573.7 L1374.7,573.7 L1376.8,573.7 L1378.9,573.7 L1380.9,573.7 L1383.0,573.7 L1385.1,573.7 L1387.1,573.7 L1389.2,573.7 L1391.3,573.7 L1393.4,573.7 L1395.5,573.7 L1397.6,573.7 L1399.7,573.7 L1401.8,573.7 L1403.9,573.7 L1406.1,573.7 L1408.2,573.7 L1410.3,573.7 L1412.4,573.7 L1414.6,573.7 L1416.7,573.7 L1418.9,573.7 L1421.0,573.7 L1423.2,573.7 L1425.3,573.7 L1427.5,573.7 L1429.7,573.7 L1431.8,573.7 L1434.0,573.7 L1436.2,573.7 L1438.4,573.7 L1440.6,573.7 L1442.8,573.7 L1445.0,573.7 L1447.2,573.7 L1449.4,573.7 L1451.6,573.7 L1453.8,573.7 L1456.1,573.7 L1458.3,573.7 L1460.5,573.7 L1462.8,573.7 L1465.0,573.7 L1467.3,573.7 L1469.5,573.7 L1471.8,573.7 L1474.1,573.7 L1476.3,573.7 L1478.6,573.7 L1480.9,573.7 L1483.2,573.7 L1485.5,573.7 L1487.8,573.7 L1490.1,573.7 L1492.4,573.7 L1494.7,573.7 L1497.0,573.7 L1499.4,573.7 L1501.7,573.7 L1504.0,573.7 L1506.4,573.7 L1508.7,573.7 L1511.1,573.7 L1513.4,573.7 L1515.8,573.7 L1518.1,573.7 L1520.5,573.7 L1522.9,573.7 L1525.3,573.7 L1527.6,573.7 L1530.0,573.7 L1532.4,573.7 L1534.8,573.7 L1537.3,573.7 L1539.7,573.7 L1542.1,573.7 L1544.5,573.7 L1546.9,573.7 L1549.4,573.7 L1551.8,573.7 L1554.3,573.7 L1556.7,573.7 L1559.2,573.7 L1561.6,573.7 L1564.1,573.7 L1566.6,573.7 L1569.1,573.7 L1571.6,573.7 L1574.0,573.7 L1576.5,573.7 L1579.0,573.7 L1581.6,573.7 L1584.1,573.7 L1586.6,573.7 L1589.1,573.7 L1591.6,573.7 L1594.2,573.7 L1596.7,573.7 L1599.3,573.7 L1601.8,573.7 L1604.4,573.7 L1607.0,573.7 L1609.5,573.7 L1612.1,573.7 L1614.7,573.7 L1617.3,573.7 L1619.9,573.7 L1622.5,573.7 L1625.1,573.7 L1627.7,573.7 L1630.3,573.7 L1633.0,573.7 L1635.6,573.7 L1638.2,573.7 L1640.9,573.7 L1643.5,573.7 L1646.2,573.7 L1648.8,573.7 L1651.5,573.7 L1654.2,573.7 L1656.9,573.7 L1659.5,573.7 L1662.2,573.7 L1664.9,573.7 L1667.6,573.7 L1670.3,573.7 L1673.1,573.7 L1675.8,573.7 L1678.5,573.7 L1681.3,573.7 L1684.0,573.7 L1686.7,573.7 L1689.5,573.7 L1692.3,573.7 L1695.0,573.7 L1697.8,573.7 L1700.6,573.7 L1703.4,573.7 L1706.2,573.7 L1709.0,573.7 L1711.8,573.7 L1714.6,573.7 L1717.4,573.7 L1720.2,573.7 L1723.1,573.7 L1725.9,573.7 L1728.7,573.7 L1731.6,573.7 L1734.5,573.7 L1737.3,573.7 L1740.2,573.7 L1743.1,573.7 L1746.0,573.7 L1748.8,573.7 L1751.7,573.7 L1754.6,573.7 L1757.6,573.7 L1760.5,573.7 L1763.4,573.7 L1766.3,573.7 L1769.3,573.7 L1772.2,573.7 L1775.2,573.7 L1778.1,573.7 L1781.1,573.7 L1784.1,573.7 L1787.0,573.7 L1790.0,573.7 L1793.0,573.7 L1796.0,573.7 L1799.0,573.7 L1802.0,573.7 L1805.0,573.7 L1808.1,573.7 L1811.1,573.7 L1814.1,573.7 L1817.2,573.7 L1820.2,573.7 L1823.3,573.7 L1826.4,573.7 L1829.4,573.7 L1832.5,573.7 L1835.6,573.7 L1838.7,573.7 L1841.8,573.7 L1844.9,573.7 L1848.0,573.7 L1851.2,573.7 L1854.3,573.7 L1857.4,573.7 L1860.6,573.7 L1863.7,573.7 L1866.9,573.7 L1870.1,573.7 L1873.2,573.7 L1876.4,573.7 L1879.6,573.7 L1882.8,573.7 L1886.0,573.7 L1889.2,573.7 L1892.4,573.7 L1895.7,573.7 L1898.9,573.7 L1902.1,573.7 L1905.4,573.7 L1908.6,573.7 L1911.9,573.7 L1915.2,573.7 L1918.5,573.7 L1921.7,573.7 L1925.0,573.7 L1928.3,573.7 L1931.6,573.7 L1934.9,573.7 L1938.3,573.7 L1941.6,573.7 L1944.9,573.7 L1948.3,573.7 L1951.6,573.7 L1955.0,573.7 L1958.4,573.7 L1961.7,573.7 L1965.1,573.7 L1968.5,573.7 L1971.9,573.7 L1975.3,573.7 L1978.7,573.7 L1982.2,573.7 L1985.6,573.7" fill="none" stroke="#b883ff" stroke-width="2.3" stroke-dasharray="4.5 6.1" stroke-dashoffset="5.3" stroke-linejoin="round" stroke-linecap="butt"/>
<path d="M1152.3,32.5 L1156.2,32.5 L1159.7,32.5 L1162.9,32.5 L1165.6,32.5 L1167.9,32.5 L1169.7,32.5 L1171.1,34.0 L1172.2,37.3 L1173.1,40.6 L1173.9,43.7 L1174.6,46.8 L1175.2,49.9 L1175.9,53.1 L1176.7,56.4 L1177.3,59.6 L1177.8,62.3 L1178.2,65.0 L1178.6,67.7 L1179.0,70.4 L1179.4,73.2 L1179.8,75.9 L1180.2,78.6 L1180.6,81.3 L1181.0,84.0 L1181.5,86.7 L1181.9,89.2 L1182.4,91.7 L1182.9,94.1 L1183.4,96.6 L1183.9,99.1 L1184.4,101.5 L1184.9,104.0 L1185.5,106.5 L1186.0,108.9 L1186.6,111.4 L1187.1,113.9 L1187.7,116.3 L1188.3,118.8 L1188.8,121.2 L1189.4,123.7 L1190.0,126.1 L1190.5,128.6 L1191.1,131.1 L1191.7,133.5 L1192.2,136.0 L1192.7,138.5 L1193.3,140.9 L1193.8,143.4 L1194.3,145.8 L1194.8,148.3 L1195.3,150.8 L1195.8,153.2 L1196.3,155.7 L1196.8,158.2 L1197.3,160.6 L1197.8,163.1 L1198.3,165.6 L1198.8,168.0 L1199.3,170.5 L1199.8,173.0 L1200.3,175.4 L1200.8,177.9 L1201.3,180.4 L1201.8,182.8 L1202.3,185.3 L1202.8,187.7 L1203.3,190.2 L1203.9,192.7 L1204.4,195.1 L1204.9,197.6 L1205.4,200.1 L1206.0,202.5 L1206.5,205.0 L1207.0,207.5 L1207.6,209.9 L1208.1,212.4 L1208.6,214.9 L1209.2,217.3 L1209.7,219.8 L1210.3,222.3 L1210.8,224.7 L1211.4,227.2 L1211.9,229.7 L1212.5,232.1 L1213.1,234.6 L1213.6,237.0 L1214.2,239.5 L1214.8,242.0 L1215.4,244.4 L1215.9,246.9 L1216.5,249.3 L1217.1,251.8 L1217.7,254.3 L1218.3,256.8 L1219.0,259.2 L1219.6,261.7 L1220.2,264.2 L1220.8,266.6 L1221.5,269.1 L1222.1,271.6 L1222.7,274.0 L1223.4,276.5 L1224.0,279.0 L1224.7,281.4 L1225.3,283.9 L1226.0,286.4 L1226.7,288.8 L1227.3,291.3 L1228.0,293.7 L1228.7,296.2 L1229.4,298.6 L1230.1,301.1 L1230.8,303.5 L1231.5,306.0 L1232.2,308.5 L1232.9,311.0 L1233.7,313.4 L1234.4,315.9 L1235.2,318.4 L1235.9,320.8 L1236.7,323.3 L1237.5,325.8 L1238.3,328.2 L1239.0,330.7 L1239.8,333.2 L1240.6,335.6 L1241.4,338.1 L1242.2,340.5 L1243.0,343.0 L1243.8,345.5 L1244.6,347.9 L1245.4,350.4 L1246.2,352.8 L1247.0,355.3 L1247.8,357.7 L1248.6,360.1 L1249.3,362.5 L1250.1,364.9 L1250.8,367.3 L1251.6,369.7 L1252.4,372.0 L1253.1,374.4 L1253.9,376.8 L1254.7,379.2 L1255.4,381.6 L1256.2,383.9 L1257.0,386.3 L1257.8,388.7 L1258.6,391.1 L1259.4,393.5 L1260.2,395.8 L1261.0,398.2 L1261.8,400.6 L1262.6,402.9 L1263.4,405.3 L1264.3,407.6 L1265.1,410.0 L1266.0,412.3 L1266.9,414.7 L1267.8,417.1 L1268.8,419.5 L1269.8,422.0 L1270.8,424.4 L1271.8,426.8 L1272.9,429.2 L1273.9,431.6 L1275.0,434.0 L1276.1,436.4 L1277.1,438.8 L1278.2,441.3 L1279.2,443.7 L1280.2,446.1 L1281.2,448.5 L1282.2,451.0 L1283.0,453.6 L1283.8,456.3 L1284.6,459.0 L1285.5,461.6 L1286.5,464.0 L1287.7,466.1 L1291.2,468.9 L1292.8,470.8 L1294.3,473.0 L1295.7,475.4 L1296.9,477.8 L1298.2,480.2 L1299.5,482.7 L1300.8,485.0 L1302.3,487.3 L1304.0,489.5 L1305.8,491.7 L1307.7,493.9 L1309.6,496.0 L1311.5,498.1 L1313.4,500.3 L1315.0,502.2 L1316.6,504.2 L1318.1,506.2 L1319.7,508.1 L1321.2,510.1 L1322.9,512.0 L1324.5,513.9 L1326.4,515.8 L1328.4,517.7 L1330.4,519.5 L1332.4,521.4 L1334.4,523.3 L1336.3,525.2 L1338.0,527.1 L1339.6,529.0 L1341.1,531.0 L1342.7,533.0 L1344.2,535.0 L1345.8,536.9 L1347.4,538.8 L1349.2,540.8 L1350.9,542.8 L1352.7,544.8 L1354.6,546.7 L1356.5,548.4 L1358.5,549.9 L1360.7,551.2 L1363.0,552.3 L1365.5,553.4 L1368.0,554.3 L1370.5,555.3 L1373.1,556.2 L1375.7,557.0 L1378.2,557.9 L1380.8,558.8 L1383.2,559.8 L1385.7,560.7 L1388.1,561.7 L1390.6,562.6 L1393.0,563.5 L1395.5,564.4 L1398.0,565.2 L1400.5,566.0 L1403.0,566.6 L1405.5,567.3 L1408.0,567.9 L1410.5,568.4 L1413.1,569.0 L1415.6,569.5 L1418.2,569.9 L1420.8,570.4 L1423.3,570.9 L1425.9,571.3 L1428.5,571.8 L1431.0,572.2 L1433.6,572.7 L1436.2,573.2 L1438.8,573.5 L1441.4,573.7 L1443.9,573.7 L1446.5,573.7 L1449.1,573.7 L1451.7,573.7 L1454.3,573.7 L1457.0,573.7 L1459.6,573.7 L1462.2,573.7 L1464.8,573.7 L1467.3,573.7 L1469.8,573.7 L1472.3,573.7 L1474.8,573.7 L1477.3,573.7 L1479.8,573.7 L1482.3,573.7 L1484.8,573.7 L1487.3,573.7 L1489.8,573.7 L1492.3,573.7 L1494.8,573.7 L1497.3,573.7 L1499.8,573.7 L1502.3,573.7 L1504.8,573.7 L1507.3,573.7 L1509.8,573.7 L1512.3,573.7 L1514.8,573.7 L1517.3,573.7 L1519.9,573.7 L1522.4,573.7 L1524.9,573.7 L1527.4,573.7 L1529.9,573.7 L1532.4,573.7 L1534.9,573.7 L1537.4,573.7 L1539.9,573.7 L1542.4,573.7 L1544.9,573.7 L1547.4,573.7 L1549.9,573.7 L1552.4,573.7 L1554.9,573.7 L1557.4,573.7 L1559.9,573.7 L1562.4,573.7 L1564.9,573.7 L1567.4,573.7 L1569.9,573.7 L1572.4,573.7 L1574.9,573.7 L1577.4,573.7 L1579.9,573.7 L1582.4,573.7 L1584.9,573.7 L1587.4,573.7 L1589.9,573.7 L1592.5,573.7 L1595.0,573.7 L1597.5,573.7 L1600.0,573.7 L1602.5,573.7 L1605.0,573.7 L1607.5,573.7 L1610.0,573.7 L1612.5,573.7 L1615.0,573.7 L1617.5,573.7 L1620.0,573.7 L1622.5,573.7 L1625.0,573.7 L1627.5,573.7 L1630.0,573.7 L1632.5,573.7 L1635.0,573.7 L1637.5,573.7 L1640.0,573.7 L1642.5,573.7 L1645.0,573.7 L1647.5,573.7 L1650.0,573.7 L1652.5,573.7 L1655.0,573.7 L1657.5,573.7 L1660.0,573.7 L1662.6,573.7 L1665.1,573.7 L1667.6,573.7 L1670.1,573.7 L1672.6,573.7 L1675.1,573.7 L1677.6,573.7 L1680.1,573.7 L1682.6,573.7 L1685.1,573.7 L1687.6,573.7 L1690.1,573.7 L1692.6,573.7 L1695.1,573.7 L1697.6,573.7 L1700.1,573.7 L1702.6,573.7 L1705.1,573.7 L1707.6,573.7 L1710.1,573.7 L1712.6,573.7 L1715.1,573.7 L1717.6,573.7 L1720.1,573.7 L1722.6,573.7 L1725.1,573.7 L1727.6,573.7 L1730.2,573.7 L1732.7,573.7 L1735.2,573.7 L1737.7,573.7 L1740.2,573.7 L1742.7,573.7 L1745.2,573.7 L1747.7,573.7 L1750.2,573.7 L1752.7,573.7 L1755.2,573.7 L1757.7,573.7 L1760.2,573.7 L1762.7,573.7 L1765.2,573.7 L1767.7,573.7 L1770.2,573.7 L1772.7,573.7 L1775.2,573.7 L1777.7,573.7 L1780.2,573.7 L1782.7,573.7 L1785.2,573.7 L1787.7,573.7 L1790.2,573.7 L1792.7,573.7 L1795.3,573.7 L1797.8,573.7 L1800.3,573.7 L1802.8,573.7 L1805.3,573.7 L1807.8,573.7 L1810.3,573.7 L1812.8,573.7 L1815.3,573.7 L1817.8,573.7 L1820.3,573.7 L1822.8,573.7 L1825.3,573.7 L1827.8,573.7 L1830.3,573.7 L1832.8,573.7 L1835.3,573.7 L1837.8,573.7 L1840.3,573.7 L1842.8,573.7 L1845.3,573.7 L1847.8,573.7 L1850.3,573.7 L1852.8,573.7 L1855.4,573.7 L1857.9,573.7 L1860.4,573.7 L1862.9,573.7 L1865.4,573.7 L1867.9,573.7 L1870.4,573.7 L1872.9,573.7 L1875.4,573.7 L1877.9,573.7 L1880.4,573.7 L1882.9,573.7 L1885.4,573.7 L1887.9,573.7 L1890.4,573.7 L1892.9,573.7 L1895.4,573.7 L1897.9,573.7 L1900.4,573.7 L1902.9,573.7 L1905.4,573.7 L1907.9,573.7 L1910.4,573.7 L1912.9,573.7 L1915.5,573.7 L1918.0,573.7 L1920.5,573.7 L1923.0,573.7 L1925.5,573.7 L1928.0,573.7 L1930.5,573.7 L1933.0,573.7 L1935.5,573.7 L1938.0,573.7 L1940.5,573.7 L1943.0,573.7 L1945.5,573.7 L1948.0,573.7 L1950.5,573.7 L1953.0,573.7 L1955.5,573.7 L1958.0,573.7 L1960.5,573.7 L1963.0,573.7 L1965.5,573.7 L1968.0,573.7 L1970.6,573.7 L1973.1,573.7 L1975.6,573.7 L1978.1,573.7 L1980.6,573.7 L1983.1,573.7 L1985.6,573.7" fill="none" stroke="#0000ff" stroke-width="2.3" stroke-dasharray="4.5 6.1" stroke-dashoffset="5.3" stroke-linejoin="round" stroke-linecap="butt"/>
<path d="M1152.3,32.5 L1155.4,32.5 L1158.4,32.5 L1161.3,32.5 L1164.2,32.5 L1166.9,32.5 L1169.7,32.5 L1172.3,32.5 L1174.9,32.5 L1177.4,32.5 L1179.9,32.5 L1182.3,32.5 L1184.7,32.5 L1187.0,32.5 L1189.5,33.5 L1191.9,35.6 L1194.0,37.9 L1195.7,40.0 L1197.3,42.1 L1198.9,44.4 L1200.3,46.8 L1201.7,49.3 L1203.1,51.8 L1204.4,54.2 L1205.5,56.4 L1206.7,58.7 L1207.7,61.0 L1208.7,63.4 L1209.7,65.7 L1210.7,68.1 L1211.7,70.5 L1212.7,72.8 L1213.6,75.2 L1214.6,77.6 L1215.6,79.9 L1216.7,82.2 L1217.8,84.5 L1219.0,86.7 L1220.2,88.9 L1221.4,91.1 L1222.7,93.2 L1224.1,95.4 L1225.5,97.5 L1226.9,99.6 L1228.3,101.6 L1229.8,103.7 L1231.3,105.8 L1232.8,107.8 L1234.3,109.9 L1235.9,111.9 L1237.4,113.9 L1239.0,116.0 L1240.5,118.0 L1242.1,120.0 L1243.6,122.1 L1245.1,124.1 L1246.6,126.2 L1248.1,128.2 L1249.6,130.3 L1251.0,132.4 L1252.4,134.5 L1253.8,136.6 L1255.2,138.8 L1256.5,140.9 L1257.7,143.1 L1259.0,145.4 L1260.2,147.7 L1261.5,149.9 L1262.7,152.2 L1263.8,154.5 L1265.0,156.8 L1266.1,159.2 L1267.3,161.5 L1268.4,163.8 L1269.6,166.2 L1270.7,168.5 L1271.8,170.8 L1273.0,173.2 L1274.1,175.5 L1275.3,177.8 L1276.4,180.1 L1277.6,182.4 L1278.8,184.7 L1280.1,187.0 L1281.3,189.3 L1282.6,191.5 L1284.0,193.7 L1285.3,195.9 L1286.6,198.2 L1287.9,200.4 L1289.1,202.7 L1290.3,205.2 L1291.5,207.6 L1292.7,210.1 L1293.8,212.7 L1294.9,215.2 L1296.0,217.7 L1297.1,220.2 L1298.1,222.8 L1299.2,225.3 L1300.2,227.8 L1301.3,230.3 L1302.3,232.8 L1303.3,235.4 L1304.3,237.9 L1305.3,240.4 L1306.2,243.0 L1307.2,245.5 L1308.0,248.0 L1308.8,250.5 L1309.6,253.0 L1310.4,255.5 L1311.1,258.0 L1311.9,260.6 L1312.6,263.1 L1313.4,265.6 L1314.2,268.1 L1315.0,270.5 L1315.8,273.0 L1316.7,275.4 L1317.5,277.9 L1318.3,280.4 L1319.0,282.8 L1319.7,285.3 L1320.3,287.8 L1320.9,290.3 L1321.5,292.9 L1322.0,295.4 L1322.5,298.0 L1323.0,300.6 L1323.4,303.1 L1323.8,305.7 L1324.2,308.3 L1324.6,310.8 L1324.9,313.4 L1325.2,315.9 L1325.5,318.5 L1325.8,321.1 L1326.1,323.6 L1326.4,326.2 L1326.7,328.8 L1327.0,331.3 L1327.3,333.9 L1327.6,336.6 L1327.9,339.3 L1328.2,342.0 L1328.5,344.7 L1328.8,347.4 L1329.2,350.1 L1329.5,352.9 L1329.8,355.6 L1330.1,358.3 L1330.4,360.9 L1330.6,363.5 L1330.9,366.1 L1331.2,368.8 L1331.5,371.4 L1331.8,374.0 L1332.1,376.6 L1332.4,379.2 L1332.7,381.9 L1332.9,384.5 L1333.2,387.1 L1333.5,389.7 L1333.8,392.4 L1334.1,395.0 L1334.5,397.7 L1334.8,400.4 L1335.1,403.0 L1335.4,405.7 L1335.7,408.4 L1336.0,411.0 L1336.3,413.7 L1336.7,416.3 L1337.0,419.0 L1337.4,421.7 L1337.7,424.4 L1338.1,427.1 L1338.4,429.9 L1338.8,432.6 L1339.2,435.3 L1339.6,438.0 L1340.0,440.7 L1340.5,443.4 L1341.0,445.9 L1341.5,448.5 L1342.1,451.0 L1342.7,453.5 L1343.3,456.0 L1344.0,458.6 L1344.7,461.1 L1345.3,463.6 L1345.9,466.1 L1346.5,468.7 L1347.0,471.2 L1347.4,473.7 L1347.8,476.3 L1348.2,478.9 L1348.5,481.5 L1348.8,484.0 L1349.1,486.6 L1349.4,489.2 L1349.7,491.8 L1350.0,494.4 L1350.2,497.0 L1350.5,499.6 L1350.9,502.2 L1351.2,504.8 L1351.6,507.3 L1352.0,509.8 L1352.4,512.3 L1352.8,514.8 L1353.3,517.3 L1353.8,519.8 L1354.3,522.2 L1354.8,524.7 L1355.3,527.2 L1355.9,529.6 L1356.5,532.0 L1357.1,534.4 L1357.9,537.0 L1358.6,539.5 L1359.4,542.0 L1360.3,544.6 L1361.2,547.0 L1362.2,549.5 L1363.3,551.9 L1364.3,554.3 L1365.5,556.7 L1366.7,559.1 L1368.0,561.6 L1369.5,564.0 L1371.0,566.3 L1372.7,568.3 L1374.5,570.0 L1376.8,571.5 L1379.4,573.0 L1382.2,573.7 L1384.9,573.7 L1387.3,573.7 L1389.6,573.7 L1392.0,573.7 L1394.4,573.7 L1396.7,573.7 L1399.1,573.7 L1401.4,573.7 L1403.8,573.7 L1406.2,573.7 L1408.5,573.7 L1410.9,573.7 L1413.3,573.7 L1415.6,573.7 L1418.0,573.7 L1420.4,573.7 L1422.7,573.7 L1425.1,573.7 L1427.5,573.7 L1429.8,573.7 L1432.2,573.7 L1434.6,573.7 L1437.0,573.7 L1439.3,573.7 L1441.7,573.7 L1444.1,573.7 L1446.5,573.7 L1448.8,573.7 L1451.2,573.7 L1453.6,573.7 L1456.0,573.7 L1458.4,573.7 L1460.7,573.7 L1463.1,573.7 L1465.5,573.7 L1467.9,573.7 L1470.3,573.7 L1472.7,573.7 L1475.0,573.7 L1477.4,573.7 L1479.8,573.7 L1482.2,573.7 L1484.6,573.7 L1487.0,573.7 L1489.4,573.7 L1491.8,573.7 L1494.2,573.7 L1496.6,573.7 L1499.0,573.7 L1501.4,573.7 L1503.8,573.7 L1506.2,573.7 L1508.6,573.7 L1511.0,573.7 L1513.4,573.7 L1515.8,573.7 L1518.2,573.7 L1520.6,573.7 L1523.0,573.7 L1525.4,573.7 L1527.8,573.7 L1530.2,573.7 L1532.6,573.7 L1535.0,573.7 L1537.5,573.7 L1539.9,573.7 L1542.3,573.7 L1544.7,573.7 L1547.1,573.7 L1549.5,573.7 L1552.0,573.7 L1554.4,573.7 L1556.8,573.7 L1559.2,573.7 L1561.7,573.7 L1564.1,573.7 L1566.5,573.7 L1568.9,573.7 L1571.4,573.7 L1573.8,573.7 L1576.2,573.7 L1578.7,573.7 L1581.1,573.7 L1583.5,573.7 L1586.0,573.7 L1588.4,573.7 L1590.9,573.7 L1593.3,573.7 L1595.7,573.7 L1598.2,573.7 L1600.6,573.7 L1603.1,573.7 L1605.5,573.7 L1608.0,573.7 L1610.4,573.7 L1612.9,573.7 L1615.3,573.7 L1617.8,573.7 L1620.2,573.7 L1622.7,573.7 L1625.1,573.7 L1627.6,573.7 L1630.1,573.7 L1632.5,573.7 L1635.0,573.7 L1637.5,573.7 L1639.9,573.7 L1642.4,573.7 L1644.9,573.7 L1647.3,573.7 L1649.8,573.7 L1652.3,573.7 L1654.7,573.7 L1657.2,573.7 L1659.7,573.7 L1662.2,573.7 L1664.7,573.7 L1667.1,573.7 L1669.6,573.7 L1672.1,573.7 L1674.6,573.7 L1677.1,573.7 L1679.6,573.7 L1682.1,573.7 L1684.5,573.7 L1687.0,573.7 L1689.5,573.7 L1692.0,573.7 L1694.5,573.7 L1697.0,573.7 L1699.5,573.7 L1702.0,573.7 L1704.5,573.7 L1707.0,573.7 L1709.5,573.7 L1712.1,573.7 L1714.6,573.7 L1717.1,573.7 L1719.6,573.7 L1722.1,573.7 L1724.6,573.7 L1727.1,573.7 L1729.7,573.7 L1732.2,573.7 L1734.7,573.7 L1737.2,573.7 L1739.8,573.7 L1742.3,573.7 L1744.8,573.7 L1747.4,573.7 L1749.9,573.7 L1752.4,573.7 L1755.0,573.7 L1757.5,573.7 L1760.0,573.7 L1762.6,573.7 L1765.1,573.7 L1767.7,573.7 L1770.2,573.7 L1772.8,573.7 L1775.3,573.7 L1777.9,573.7 L1780.4,573.7 L1783.0,573.7 L1785.5,573.7 L1788.1,573.7 L1790.6,573.7 L1793.2,573.7 L1795.8,573.7 L1798.3,573.7 L1800.9,573.7 L1803.5,573.7 L1806.1,573.7 L1808.6,573.7 L1811.2,573.7 L1813.8,573.7 L1816.4,573.7 L1818.9,573.7 L1821.5,573.7 L1824.1,573.7 L1826.7,573.7 L1829.3,573.7 L1831.9,573.7 L1834.5,573.7 L1837.1,573.7 L1839.7,573.7 L1842.3,573.7 L1844.9,573.7 L1847.5,573.7 L1850.1,573.7 L1852.7,573.7 L1855.3,573.7 L1857.9,573.7 L1860.5,573.7 L1863.1,573.7 L1865.7,573.7 L1868.3,573.7 L1871.0,573.7 L1873.6,573.7 L1876.2,573.7 L1878.8,573.7 L1881.5,573.7 L1884.1,573.7 L1886.7,573.7 L1889.4,573.7 L1892.0,573.7 L1894.6,573.7 L1897.3,573.7 L1899.9,573.7 L1902.6,573.7 L1905.2,573.7 L1907.8,573.7 L1910.5,573.7 L1913.1,573.7 L1915.8,573.7 L1918.5,573.7 L1921.1,573.7 L1923.8,573.7 L1926.4,573.7 L1929.1,573.7 L1931.8,573.7 L1934.4,573.7 L1937.1,573.7 L1939.8,573.7 L1942.5,573.7 L1945.1,573.7 L1947.8,573.7 L1950.5,573.7 L1953.2,573.7 L1955.9,573.7 L1958.6,573.7 L1961.3,573.7 L1964.0,573.7 L1966.6,573.7 L1969.3,573.7 L1972.0,573.7 L1974.7,573.7 L1977.5,573.7 L1980.2,573.7 L1982.9,573.7 L1985.6,573.7" fill="none" stroke="#aaaaaa" stroke-width="2.3" stroke-dasharray="4.5 6.1" stroke-dashoffset="5.3" stroke-linejoin="round" stroke-linecap="butt"/>
<path d="M1152.3,32.5 L1156.0,32.5 L1159.5,32.5 L1162.9,32.5 L1166.1,32.5 L1169.3,32.5 L1172.2,32.5 L1175.1,32.5 L1177.8,32.5 L1180.3,32.5 L1182.8,32.5 L1185.0,32.5 L1187.1,32.5 L1189.1,32.5 L1190.9,32.5 L1192.5,32.5 L1194.0,32.5 L1195.3,33.1 L1196.5,34.8 L1197.5,37.2 L1198.5,40.0 L1199.4,43.1 L1200.2,46.1 L1200.9,48.8 L1201.5,51.2 L1202.1,53.7 L1202.6,56.2 L1203.1,58.7 L1203.6,61.2 L1204.1,63.7 L1204.5,66.3 L1204.9,68.8 L1205.3,71.4 L1205.6,73.9 L1206.0,76.5 L1206.4,79.1 L1206.8,81.6 L1207.1,84.2 L1207.5,86.7 L1207.9,89.3 L1208.3,91.9 L1208.7,94.4 L1209.0,97.0 L1209.4,99.6 L1209.7,102.2 L1210.1,104.8 L1210.4,107.3 L1210.8,109.9 L1211.1,112.5 L1211.5,115.1 L1211.8,117.7 L1212.1,120.3 L1212.5,122.8 L1212.8,125.4 L1213.1,128.0 L1213.5,130.6 L1213.8,133.2 L1214.1,135.8 L1214.5,138.3 L1214.8,140.9 L1215.1,143.5 L1215.5,146.1 L1215.8,148.7 L1216.2,151.2 L1216.5,153.8 L1216.9,156.4 L1217.2,159.0 L1217.6,161.6 L1217.9,164.1 L1218.3,166.7 L1218.6,169.3 L1219.0,171.9 L1219.3,174.5 L1219.6,177.0 L1219.9,179.6 L1220.3,182.2 L1220.6,184.8 L1220.9,187.4 L1221.2,190.0 L1221.5,192.5 L1221.7,195.1 L1222.0,197.7 L1222.3,200.3 L1222.5,202.9 L1222.7,205.4 L1223.0,208.0 L1223.2,210.6 L1223.4,213.2 L1223.6,215.8 L1223.8,218.4 L1224.0,221.0 L1224.2,223.5 L1224.4,226.1 L1224.6,228.7 L1224.8,231.3 L1225.1,233.9 L1225.3,236.5 L1225.5,239.0 L1225.8,241.6 L1226.0,244.2 L1226.3,246.8 L1226.6,249.3 L1226.9,251.9 L1227.3,254.5 L1227.6,257.1 L1228.0,259.7 L1228.4,262.3 L1228.8,264.9 L1229.2,267.4 L1229.7,270.0 L1230.1,272.6 L1230.6,275.2 L1231.1,277.7 L1231.5,280.3 L1232.0,282.9 L1232.5,285.5 L1232.9,288.1 L1233.4,290.6 L1233.9,293.2 L1234.3,295.8 L1234.8,298.4 L1235.2,301.0 L1235.6,303.5 L1236.0,306.1 L1236.4,308.7 L1236.8,311.3 L1237.2,313.9 L1237.6,316.5 L1238.0,319.0 L1238.3,321.6 L1238.7,324.2 L1239.1,326.8 L1239.4,329.4 L1239.8,332.0 L1240.2,334.6 L1240.6,337.1 L1241.0,339.7 L1241.4,342.3 L1241.8,344.9 L1242.2,347.5 L1242.6,350.0 L1243.0,352.6 L1243.5,355.2 L1244.0,357.7 L1244.4,360.2 L1244.9,362.7 L1245.4,365.2 L1246.0,367.6 L1246.5,370.1 L1247.1,372.6 L1247.7,375.0 L1248.2,377.5 L1248.8,379.9 L1249.4,382.4 L1250.0,384.9 L1250.7,387.3 L1251.3,389.8 L1251.9,392.2 L1252.5,394.7 L1253.1,397.2 L1253.7,399.6 L1254.3,402.1 L1254.8,404.5 L1255.4,407.0 L1255.9,409.5 L1256.5,411.9 L1257.0,414.4 L1257.5,416.9 L1258.0,419.3 L1258.4,421.8 L1258.9,424.2 L1259.4,426.7 L1259.8,429.2 L1260.3,431.6 L1260.7,434.1 L1261.2,436.6 L1261.6,439.1 L1262.1,441.5 L1262.5,444.0 L1263.0,446.5 L1263.5,448.9 L1263.9,451.4 L1264.4,453.9 L1264.9,456.3 L1265.4,458.8 L1265.9,461.2 L1266.4,463.7 L1266.9,466.1 L1267.4,468.7 L1267.9,471.2 L1268.5,473.8 L1269.0,476.3 L1269.6,478.8 L1270.1,481.4 L1270.7,483.9 L1271.3,486.4 L1271.9,488.9 L1272.5,491.5 L1273.1,494.0 L1273.8,496.4 L1274.5,498.9 L1275.2,501.4 L1276.0,503.9 L1276.9,506.5 L1277.8,509.0 L1278.8,511.6 L1279.8,514.1 L1280.8,516.6 L1281.9,519.1 L1283.0,521.6 L1284.1,524.1 L1285.2,526.6 L1286.3,529.0 L1287.4,531.5 L1288.5,533.9 L1289.7,536.4 L1290.8,538.8 L1292.0,541.2 L1293.3,543.5 L1294.7,545.8 L1296.3,548.3 L1298.1,550.7 L1299.7,552.8 L1301.3,555.0 L1303.0,557.1 L1304.6,559.2 L1306.4,561.3 L1308.2,563.2 L1310.0,564.9 L1312.0,566.4 L1314.1,567.8 L1316.3,569.0 L1318.6,570.2 L1321.0,571.2 L1323.5,572.1 L1325.9,572.9 L1329.3,573.7 L1332.8,573.7 L1335.3,573.7 L1337.8,573.7 L1340.2,573.7 L1342.7,573.7 L1345.1,573.7 L1347.6,573.7 L1350.0,573.7 L1352.5,573.7 L1355.0,573.7 L1357.4,573.7 L1359.9,573.7 L1362.3,573.7 L1364.8,573.7 L1367.3,573.7 L1369.7,573.7 L1372.2,573.7 L1374.6,573.7 L1377.1,573.7 L1379.6,573.7 L1382.0,573.7 L1384.5,573.7 L1386.9,573.7 L1389.4,573.7 L1391.9,573.7 L1394.3,573.7 L1396.8,573.7 L1399.2,573.7 L1401.7,573.7 L1404.2,573.7 L1406.6,573.7 L1409.1,573.7 L1411.6,573.7 L1414.0,573.7 L1416.5,573.7 L1419.0,573.7 L1421.4,573.7 L1423.9,573.7 L1426.3,573.7 L1428.8,573.7 L1431.3,573.7 L1433.7,573.7 L1436.2,573.7 L1438.7,573.7 L1441.1,573.7 L1443.6,573.7 L1446.1,573.7 L1448.5,573.7 L1451.0,573.7 L1453.5,573.7 L1455.9,573.7 L1458.4,573.7 L1460.9,573.7 L1463.3,573.7 L1465.8,573.7 L1468.3,573.7 L1470.8,573.7 L1473.2,573.7 L1475.7,573.7 L1478.2,573.7 L1480.6,573.7 L1483.1,573.7 L1485.6,573.7 L1488.1,573.7 L1490.5,573.7 L1493.0,573.7 L1495.5,573.7 L1497.9,573.7 L1500.4,573.7 L1502.9,573.7 L1505.4,573.7 L1507.8,573.7 L1510.3,573.7 L1512.8,573.7 L1515.3,573.7 L1517.7,573.7 L1520.2,573.7 L1522.7,573.7 L1525.2,573.7 L1527.6,573.7 L1530.1,573.7 L1532.6,573.7 L1535.1,573.7 L1537.5,573.7 L1540.0,573.7 L1542.5,573.7 L1545.0,573.7 L1547.5,573.7 L1549.9,573.7 L1552.4,573.7 L1554.9,573.7 L1557.4,573.7 L1559.9,573.7 L1562.3,573.7 L1564.8,573.7 L1567.3,573.7 L1569.8,573.7 L1572.3,573.7 L1574.8,573.7 L1577.2,573.7 L1579.7,573.7 L1582.2,573.7 L1584.7,573.7 L1587.2,573.7 L1589.7,573.7 L1592.1,573.7 L1594.6,573.7 L1597.1,573.7 L1599.6,573.7 L1602.1,573.7 L1604.6,573.7 L1607.1,573.7 L1609.5,573.7 L1612.0,573.7 L1614.5,573.7 L1617.0,573.7 L1619.5,573.7 L1622.0,573.7 L1624.5,573.7 L1627.0,573.7 L1629.5,573.7 L1632.0,573.7 L1634.5,573.7 L1636.9,573.7 L1639.4,573.7 L1641.9,573.7 L1644.4,573.7 L1646.9,573.7 L1649.4,573.7 L1651.9,573.7 L1654.4,573.7 L1656.9,573.7 L1659.4,573.7 L1661.9,573.7 L1664.4,573.7 L1666.9,573.7 L1669.4,573.7 L1671.9,573.7 L1674.4,573.7 L1676.9,573.7 L1679.4,573.7 L1681.9,573.7 L1684.4,573.7 L1686.9,573.7 L1689.4,573.7 L1691.9,573.7 L1694.4,573.7 L1696.9,573.7 L1699.4,573.7 L1701.9,573.7 L1704.4,573.7 L1706.9,573.7 L1709.4,573.7 L1711.9,573.7 L1714.4,573.7 L1716.9,573.7 L1719.4,573.7 L1721.9,573.7 L1724.4,573.7 L1727.0,573.7 L1729.5,573.7 L1732.0,573.7 L1734.5,573.7 L1737.0,573.7 L1739.5,573.7 L1742.0,573.7 L1744.5,573.7 L1747.0,573.7 L1749.5,573.7 L1752.1,573.7 L1754.6,573.7 L1757.1,573.7 L1759.6,573.7 L1762.1,573.7 L1764.6,573.7 L1767.1,573.7 L1769.7,573.7 L1772.2,573.7 L1774.7,573.7 L1777.2,573.7 L1779.7,573.7 L1782.3,573.7 L1784.8,573.7 L1787.3,573.7 L1789.8,573.7 L1792.3,573.7 L1794.9,573.7 L1797.4,573.7 L1799.9,573.7 L1802.4,573.7 L1804.9,573.7 L1807.5,573.7 L1810.0,573.7 L1812.5,573.7 L1815.0,573.7 L1817.6,573.7 L1820.1,573.7 L1822.6,573.7 L1825.2,573.7 L1827.7,573.7 L1830.2,573.7 L1832.7,573.7 L1835.3,573.7 L1837.8,573.7 L1840.3,573.7 L1842.9,573.7 L1845.4,573.7 L1847.9,573.7 L1850.5,573.7 L1853.0,573.7 L1855.5,573.7 L1858.1,573.7 L1860.6,573.7 L1863.1,573.7 L1865.7,573.7 L1868.2,573.7 L1870.7,573.7 L1873.3,573.7 L1875.8,573.7 L1878.4,573.7 L1880.9,573.7 L1883.4,573.7 L1886.0,573.7 L1888.5,573.7 L1891.1,573.7 L1893.6,573.7 L1896.2,573.7 L1898.7,573.7 L1901.2,573.7 L1903.8,573.7 L1906.3,573.7 L1908.9,573.7 L1911.4,573.7 L1914.0,573.7 L1916.5,573.7 L1919.1,573.7 L1921.6,573.7 L1924.2,573.7 L1926.7,573.7 L1929.3,573.7 L1931.8,573.7 L1934.4,573.7 L1936.9,573.7 L1939.5,573.7 L1942.1,573.7 L1944.6,573.7 L1947.2,573.7 L1949.7,573.7 L1952.3,573.7 L1954.8,573.7 L1957.4,573.7 L1960.0,573.7 L1962.5,573.7 L1965.1,573.7 L1967.6,573.7 L1970.2,573.7 L1972.8,573.7 L1975.3,573.7 L1977.9,573.7 L1980.4,573.7 L1983.0,573.7 L1985.6,573.7" fill="none" stroke="#afeeee" stroke-width="2.3" stroke-dasharray="4.5 6.1" stroke-dashoffset="5.3" stroke-linejoin="round" stroke-linecap="butt"/>
<path d="M1152.3,32.5 L1155.6,32.5 L1158.7,32.5 L1161.9,32.5 L1164.9,32.5 L1167.8,32.5 L1170.7,32.5 L1173.6,32.5 L1176.3,32.5 L1179.0,32.5 L1181.6,32.5 L1184.2,32.5 L1186.6,32.5 L1189.1,32.5 L1191.4,32.5 L1193.7,32.5 L1196.0,32.5 L1198.2,32.5 L1200.3,32.5 L1202.4,32.5 L1204.5,32.5 L1206.5,32.5 L1208.8,33.4 L1211.1,35.6 L1212.9,38.4 L1214.1,41.2 L1214.7,44.2 L1215.1,47.6 L1215.5,50.9 L1215.8,53.5 L1216.2,56.0 L1216.5,58.6 L1216.9,61.2 L1217.2,63.7 L1217.6,66.3 L1217.9,68.8 L1218.3,71.4 L1218.6,73.9 L1219.0,76.5 L1219.3,79.0 L1219.7,81.6 L1220.0,84.2 L1220.4,86.7 L1220.7,89.3 L1221.1,91.9 L1221.5,94.5 L1221.9,97.0 L1222.2,99.6 L1222.6,102.2 L1223.0,104.8 L1223.4,107.4 L1223.8,109.9 L1224.2,112.5 L1224.6,115.1 L1225.0,117.7 L1225.4,120.2 L1225.8,122.8 L1226.1,125.4 L1226.5,128.0 L1226.8,130.6 L1227.1,133.2 L1227.4,135.7 L1227.7,138.3 L1228.0,140.9 L1228.2,143.5 L1228.5,146.1 L1228.7,148.6 L1228.9,151.2 L1229.1,153.8 L1229.3,156.4 L1229.5,159.0 L1229.7,161.5 L1229.9,164.1 L1230.1,166.7 L1230.2,169.3 L1230.4,171.9 L1230.6,174.5 L1230.8,177.1 L1231.0,179.6 L1231.1,182.2 L1231.3,184.8 L1231.5,187.4 L1231.7,190.0 L1231.9,192.5 L1232.2,195.1 L1232.4,197.7 L1232.6,200.3 L1232.9,202.9 L1233.1,205.5 L1233.3,208.0 L1233.6,210.6 L1233.8,213.2 L1234.1,215.8 L1234.4,218.4 L1234.6,221.0 L1234.9,223.5 L1235.2,226.1 L1235.4,228.7 L1235.7,231.3 L1236.0,233.9 L1236.3,236.4 L1236.6,239.0 L1236.8,241.6 L1237.1,244.2 L1237.4,246.8 L1237.7,249.3 L1238.0,251.9 L1238.3,254.5 L1238.6,257.1 L1239.0,259.7 L1239.3,262.2 L1239.6,264.8 L1240.0,267.4 L1240.3,270.0 L1240.7,272.6 L1241.0,275.1 L1241.4,277.7 L1241.7,280.3 L1242.1,282.9 L1242.4,285.5 L1242.7,288.0 L1243.1,290.6 L1243.4,293.2 L1243.7,295.8 L1244.0,298.4 L1244.4,301.0 L1244.7,303.5 L1244.9,306.1 L1245.2,308.7 L1245.5,311.3 L1245.7,313.9 L1246.0,316.4 L1246.2,319.0 L1246.5,321.6 L1246.7,324.2 L1247.0,326.8 L1247.2,329.4 L1247.4,332.0 L1247.7,334.5 L1247.9,337.1 L1248.2,339.7 L1248.4,342.3 L1248.7,344.9 L1249.0,347.4 L1249.3,350.0 L1249.6,352.6 L1249.9,355.2 L1250.2,357.7 L1250.5,360.2 L1250.9,362.7 L1251.3,365.2 L1251.7,367.6 L1252.1,370.1 L1252.5,372.6 L1253.0,375.0 L1253.4,377.5 L1253.9,379.9 L1254.4,382.4 L1254.8,384.9 L1255.3,387.3 L1255.8,389.8 L1256.3,392.2 L1256.8,394.7 L1257.2,397.2 L1257.7,399.6 L1258.2,402.1 L1258.6,404.5 L1259.1,407.0 L1259.5,409.5 L1259.9,411.9 L1260.4,414.5 L1260.8,417.1 L1261.2,419.7 L1261.5,422.3 L1261.9,424.9 L1262.3,427.4 L1262.7,430.0 L1263.0,432.6 L1263.4,435.2 L1263.8,437.8 L1264.1,440.4 L1264.5,443.0 L1264.9,445.6 L1265.3,448.1 L1265.7,450.7 L1266.1,453.3 L1266.5,455.9 L1266.9,458.5 L1267.3,461.0 L1267.8,463.6 L1268.3,466.1 L1268.8,468.7 L1269.3,471.2 L1269.8,473.8 L1270.3,476.3 L1270.9,478.9 L1271.5,481.4 L1272.1,484.0 L1272.7,486.5 L1273.3,489.0 L1273.9,491.5 L1274.6,494.1 L1275.2,496.6 L1275.9,499.1 L1276.6,501.6 L1277.3,504.1 L1278.0,506.6 L1278.7,509.1 L1279.5,511.6 L1280.2,514.1 L1281.0,516.6 L1281.8,519.0 L1282.7,521.5 L1283.5,524.0 L1284.4,526.4 L1285.4,528.8 L1286.3,531.2 L1287.3,533.6 L1288.5,535.9 L1289.6,538.3 L1290.8,540.6 L1292.1,542.9 L1293.4,545.2 L1294.7,547.5 L1296.0,549.9 L1297.4,552.4 L1298.7,554.9 L1300.2,557.4 L1301.7,559.7 L1303.3,561.8 L1305.1,563.7 L1307.0,565.3 L1309.2,566.8 L1311.5,568.2 L1314.0,569.5 L1316.5,570.7 L1319.0,571.8 L1322.4,573.6 L1325.9,573.7 L1328.3,573.7 L1330.7,573.7 L1333.1,573.7 L1335.5,573.7 L1337.9,573.7 L1340.3,573.7 L1342.7,573.7 L1345.1,573.7 L1347.4,573.7 L1349.8,573.7 L1352.2,573.7 L1354.6,573.7 L1357.0,573.7 L1359.4,573.7 L1361.8,573.7 L1364.2,573.7 L1366.6,573.7 L1369.0,573.7 L1371.4,573.7 L1373.8,573.7 L1376.2,573.7 L1378.6,573.7 L1381.0,573.7 L1383.5,573.7 L1385.9,573.7 L1388.3,573.7 L1390.7,573.7 L1393.1,573.7 L1395.5,573.7 L1397.9,573.7 L1400.3,573.7 L1402.7,573.7 L1405.1,573.7 L1407.5,573.7 L1409.9,573.7 L1412.4,573.7 L1414.8,573.7 L1417.2,573.7 L1419.6,573.7 L1422.0,573.7 L1424.4,573.7 L1426.8,573.7 L1429.3,573.7 L1431.7,573.7 L1434.1,573.7 L1436.5,573.7 L1438.9,573.7 L1441.3,573.7 L1443.8,573.7 L1446.2,573.7 L1448.6,573.7 L1451.0,573.7 L1453.5,573.7 L1455.9,573.7 L1458.3,573.7 L1460.7,573.7 L1463.2,573.7 L1465.6,573.7 L1468.0,573.7 L1470.4,573.7 L1472.9,573.7 L1475.3,573.7 L1477.7,573.7 L1480.2,573.7 L1482.6,573.7 L1485.0,573.7 L1487.5,573.7 L1489.9,573.7 L1492.3,573.7 L1494.8,573.7 L1497.2,573.7 L1499.6,573.7 L1502.1,573.7 L1504.5,573.7 L1507.0,573.7 L1509.4,573.7 L1511.8,573.7 L1514.3,573.7 L1516.7,573.7 L1519.2,573.7 L1521.6,573.7 L1524.1,573.7 L1526.5,573.7 L1529.0,573.7 L1531.4,573.7 L1533.9,573.7 L1536.3,573.7 L1538.8,573.7 L1541.2,573.7 L1543.7,573.7 L1546.1,573.7 L1548.6,573.7 L1551.0,573.7 L1553.5,573.7 L1556.0,573.7 L1558.4,573.7 L1560.9,573.7 L1563.3,573.7 L1565.8,573.7 L1568.3,573.7 L1570.7,573.7 L1573.2,573.7 L1575.6,573.7 L1578.1,573.7 L1580.6,573.7 L1583.0,573.7 L1585.5,573.7 L1588.0,573.7 L1590.5,573.7 L1592.9,573.7 L1595.4,573.7 L1597.9,573.7 L1600.4,573.7 L1602.8,573.7 L1605.3,573.7 L1607.8,573.7 L1610.3,573.7 L1612.7,573.7 L1615.2,573.7 L1617.7,573.7 L1620.2,573.7 L1622.7,573.7 L1625.2,573.7 L1627.6,573.7 L1630.1,573.7 L1632.6,573.7 L1635.1,573.7 L1637.6,573.7 L1640.1,573.7 L1642.6,573.7 L1645.1,573.7 L1647.6,573.7 L1650.1,573.7 L1652.6,573.7 L1655.1,573.7 L1657.6,573.7 L1660.1,573.7 L1662.6,573.7 L1665.1,573.7 L1667.6,573.7 L1670.1,573.7 L1672.6,573.7 L1675.1,573.7 L1677.6,573.7 L1680.1,573.7 L1682.6,573.7 L1685.1,573.7 L1687.6,573.7 L1690.2,573.7 L1692.7,573.7 L1695.2,573.7 L1697.7,573.7 L1700.2,573.7 L1702.8,573.7 L1705.3,573.7 L1707.8,573.7 L1710.3,573.7 L1712.8,573.7 L1715.4,573.7 L1717.9,573.7 L1720.4,573.7 L1723.0,573.7 L1725.5,573.7 L1728.0,573.7 L1730.6,573.7 L1733.1,573.7 L1735.6,573.7 L1738.2,573.7 L1740.7,573.7 L1743.2,573.7 L1745.8,573.7 L1748.3,573.7 L1750.9,573.7 L1753.4,573.7 L1756.0,573.7 L1758.5,573.7 L1761.1,573.7 L1763.6,573.7 L1766.2,573.7 L1768.7,573.7 L1771.3,573.7 L1773.8,573.7 L1776.4,573.7 L1778.9,573.7 L1781.5,573.7 L1784.0,573.7 L1786.6,573.7 L1789.2,573.7 L1791.7,573.7 L1794.3,573.7 L1796.9,573.7 L1799.4,573.7 L1802.0,573.7 L1804.6,573.7 L1807.2,573.7 L1809.7,573.7 L1812.3,573.7 L1814.9,573.7 L1817.5,573.7 L1820.0,573.7 L1822.6,573.7 L1825.2,573.7 L1827.8,573.7 L1830.4,573.7 L1833.0,573.7 L1835.5,573.7 L1838.1,573.7 L1840.7,573.7 L1843.3,573.7 L1845.9,573.7 L1848.5,573.7 L1851.1,573.7 L1853.7,573.7 L1856.3,573.7 L1858.9,573.7 L1861.5,573.7 L1864.1,573.7 L1866.7,573.7 L1869.3,573.7 L1871.9,573.7 L1874.5,573.7 L1877.2,573.7 L1879.8,573.7 L1882.4,573.7 L1885.0,573.7 L1887.6,573.7 L1890.2,573.7 L1892.9,573.7 L1895.5,573.7 L1898.1,573.7 L1900.7,573.7 L1903.4,573.7 L1906.0,573.7 L1908.6,573.7 L1911.2,573.7 L1913.9,573.7 L1916.5,573.7 L1919.1,573.7 L1921.8,573.7 L1924.4,573.7 L1927.1,573.7 L1929.7,573.7 L1932.4,573.7 L1935.0,573.7 L1937.6,573.7 L1940.3,573.7 L1942.9,573.7 L1945.6,573.7 L1948.3,573.7 L1950.9,573.7 L1953.6,573.7 L1956.2,573.7 L1958.9,573.7 L1961.5,573.7 L1964.2,573.7 L1966.9,573.7 L1969.5,573.7 L1972.2,573.7 L1974.9,573.7 L1977.6,573.7 L1980.2,573.7 L1982.9,573.7 L1985.6,573.7" fill="none" stroke="#90ee90" stroke-width="2.3" stroke-dasharray="4.5 6.1" stroke-dashoffset="5.3" stroke-linejoin="round" stroke-linecap="butt"/>
<path d="M1152.3,32.5 L1155.2,32.5 L1158.1,32.5 L1161.0,32.5 L1163.8,32.5 L1166.5,32.5 L1169.3,32.5 L1172.0,32.5 L1174.6,32.5 L1177.3,32.5 L1179.9,32.5 L1182.5,32.5 L1185.0,32.5 L1187.5,32.5 L1190.0,32.5 L1192.4,32.5 L1194.9,32.5 L1197.3,32.5 L1199.7,32.5 L1202.0,32.5 L1204.4,32.5 L1206.7,32.5 L1209.0,32.5 L1211.3,32.5 L1215.5,35.2 L1217.8,37.0 L1220.0,39.0 L1222.1,41.1 L1223.8,43.4 L1225.3,45.7 L1226.6,48.3 L1227.7,51.0 L1228.7,53.6 L1229.4,56.1 L1230.1,58.6 L1230.7,61.1 L1231.2,63.6 L1231.8,66.2 L1232.2,68.7 L1232.7,71.3 L1233.2,73.9 L1233.6,76.5 L1234.1,79.0 L1234.6,81.6 L1235.1,84.2 L1235.6,86.7 L1236.2,89.2 L1236.7,91.7 L1237.3,94.1 L1237.9,96.6 L1238.4,99.1 L1239.0,101.5 L1239.6,104.0 L1240.2,106.5 L1240.7,108.9 L1241.3,111.4 L1241.9,113.8 L1242.5,116.3 L1243.1,118.8 L1243.7,121.2 L1244.3,123.7 L1244.9,126.2 L1245.5,128.6 L1246.1,131.1 L1246.7,133.5 L1247.3,136.0 L1247.9,138.5 L1248.5,140.9 L1249.1,143.4 L1249.7,145.9 L1250.3,148.3 L1250.9,150.8 L1251.5,153.3 L1252.1,155.7 L1252.7,158.2 L1253.3,160.6 L1254.0,163.1 L1254.6,165.6 L1255.2,168.0 L1255.8,170.5 L1256.4,173.0 L1257.1,175.4 L1257.7,177.9 L1258.3,180.3 L1258.9,182.8 L1259.5,185.3 L1260.2,187.7 L1260.8,190.2 L1261.4,192.7 L1262.0,195.1 L1262.6,197.6 L1263.2,200.1 L1263.8,202.5 L1264.4,205.0 L1265.0,207.5 L1265.5,210.0 L1266.1,212.5 L1266.7,214.9 L1267.2,217.4 L1267.8,219.9 L1268.4,222.4 L1269.0,224.9 L1269.6,227.3 L1270.2,229.8 L1270.8,232.3 L1271.4,234.7 L1272.0,237.2 L1272.7,239.6 L1273.4,242.1 L1274.1,244.5 L1274.8,246.9 L1275.6,249.3 L1276.4,251.7 L1277.4,254.1 L1278.3,256.5 L1279.3,258.8 L1280.1,261.3 L1280.8,263.8 L1281.4,266.3 L1281.9,268.9 L1282.5,271.5 L1283.0,274.0 L1283.6,276.6 L1284.2,279.1 L1284.9,281.6 L1285.6,284.1 L1286.4,286.6 L1287.1,289.1 L1287.9,291.5 L1288.7,294.0 L1289.5,296.5 L1290.4,298.9 L1291.2,301.4 L1292.1,303.9 L1293.0,306.4 L1293.9,309.0 L1294.8,311.5 L1295.8,314.0 L1296.8,316.5 L1297.7,319.1 L1298.7,321.6 L1299.6,324.1 L1300.5,326.6 L1301.4,329.2 L1302.3,331.7 L1303.1,334.2 L1303.9,336.7 L1304.6,339.3 L1305.4,341.8 L1306.1,344.3 L1306.8,346.9 L1307.6,349.4 L1308.3,351.9 L1309.0,354.5 L1309.7,357.0 L1310.4,359.6 L1311.1,362.1 L1311.9,364.6 L1312.6,367.1 L1313.4,369.7 L1314.2,372.1 L1314.9,374.5 L1315.7,376.9 L1316.5,379.3 L1317.3,381.7 L1318.1,384.1 L1318.9,386.5 L1319.7,388.9 L1320.5,391.3 L1321.4,393.7 L1322.2,396.1 L1323.0,398.5 L1323.7,400.9 L1324.5,403.3 L1325.3,405.7 L1326.0,408.2 L1326.7,410.6 L1327.5,413.1 L1328.2,415.5 L1328.9,418.0 L1329.6,420.4 L1330.3,422.9 L1331.1,425.3 L1331.9,427.7 L1332.7,430.1 L1333.5,432.5 L1334.6,435.2 L1335.7,437.8 L1336.9,440.3 L1338.1,442.9 L1339.1,445.6 L1340.0,448.1 L1340.8,450.6 L1341.5,453.2 L1342.3,455.7 L1343.0,458.3 L1343.7,460.9 L1344.4,463.5 L1345.1,466.1 L1345.8,468.6 L1346.6,471.2 L1347.4,473.7 L1348.3,476.2 L1349.1,478.6 L1350.0,481.1 L1350.9,483.5 L1351.9,486.0 L1352.8,488.4 L1353.8,490.8 L1354.7,493.2 L1355.6,495.7 L1356.5,498.1 L1357.3,500.6 L1358.1,503.1 L1358.9,505.5 L1359.7,508.0 L1360.5,510.5 L1361.3,513.0 L1362.1,515.4 L1362.9,517.9 L1363.7,520.4 L1364.6,522.8 L1365.5,525.2 L1366.5,527.8 L1367.5,530.3 L1368.6,532.9 L1369.7,535.4 L1370.9,537.9 L1372.0,540.4 L1373.3,542.9 L1374.5,545.3 L1375.8,547.6 L1377.1,549.9 L1378.4,552.2 L1379.8,554.5 L1381.3,556.7 L1382.8,558.8 L1384.5,561.0 L1386.2,563.2 L1387.9,565.4 L1389.8,567.3 L1391.9,568.9 L1394.2,570.3 L1396.8,571.6 L1399.5,572.7 L1402.3,573.5 L1405.7,573.7 L1409.2,573.7 L1411.7,573.7 L1414.2,573.7 L1416.7,573.7 L1419.2,573.7 L1421.7,573.7 L1424.1,573.7 L1426.6,573.7 L1429.1,573.7 L1431.6,573.7 L1434.1,573.7 L1436.6,573.7 L1439.1,573.7 L1441.6,573.7 L1444.0,573.7 L1446.5,573.7 L1449.0,573.7 L1451.5,573.7 L1454.0,573.7 L1456.5,573.7 L1459.0,573.7 L1461.5,573.7 L1463.9,573.7 L1466.4,573.7 L1468.9,573.7 L1471.4,573.7 L1473.9,573.7 L1476.4,573.7 L1478.9,573.7 L1481.4,573.7 L1483.9,573.7 L1486.3,573.7 L1488.8,573.7 L1491.3,573.7 L1493.8,573.7 L1496.3,573.7 L1498.8,573.7 L1501.3,573.7 L1503.8,573.7 L1506.3,573.7 L1508.7,573.7 L1511.2,573.7 L1513.7,573.7 L1516.2,573.7 L1518.7,573.7 L1521.2,573.7 L1523.7,573.7 L1526.2,573.7 L1528.7,573.7 L1531.2,573.7 L1533.7,573.7 L1536.2,573.7 L1538.6,573.7 L1541.1,573.7 L1543.6,573.7 L1546.1,573.7 L1548.6,573.7 L1551.1,573.7 L1553.6,573.7 L1556.1,573.7 L1558.6,573.7 L1561.1,573.7 L1563.6,573.7 L1566.1,573.7 L1568.6,573.7 L1571.1,573.7 L1573.5,573.7 L1576.0,573.7 L1578.5,573.7 L1581.0,573.7 L1583.5,573.7 L1586.0,573.7 L1588.5,573.7 L1591.0,573.7 L1593.5,573.7 L1596.0,573.7 L1598.5,573.7 L1601.0,573.7 L1603.5,573.7 L1606.0,573.7 L1608.5,573.7 L1611.0,573.7 L1613.5,573.7 L1616.0,573.7 L1618.5,573.7 L1621.0,573.7 L1623.5,573.7 L1626.0,573.7 L1628.5,573.7 L1631.0,573.7 L1633.5,573.7 L1636.0,573.7 L1638.5,573.7 L1641.0,573.7 L1643.5,573.7 L1646.0,573.7 L1648.5,573.7 L1651.0,573.7 L1653.4,573.7 L1655.9,573.7 L1658.5,573.7 L1661.0,573.7 L1663.5,573.7 L1666.0,573.7 L1668.5,573.7 L1671.0,573.7 L1673.5,573.7 L1676.0,573.7 L1678.5,573.7 L1681.0,573.7 L1683.5,573.7 L1686.0,573.7 L1688.5,573.7 L1691.0,573.7 L1693.5,573.7 L1696.0,573.7 L1698.5,573.7 L1701.0,573.7 L1703.5,573.7 L1706.0,573.7 L1708.5,573.7 L1711.0,573.7 L1713.5,573.7 L1716.0,573.7 L1718.5,573.7 L1721.0,573.7 L1723.5,573.7 L1726.0,573.7 L1728.5,573.7 L1731.0,573.7 L1733.6,573.7 L1736.1,573.7 L1738.6,573.7 L1741.1,573.7 L1743.6,573.7 L1746.1,573.7 L1748.6,573.7 L1751.1,573.7 L1753.6,573.7 L1756.1,573.7 L1758.6,573.7 L1761.1,573.7 L1763.7,573.7 L1766.2,573.7 L1768.7,573.7 L1771.2,573.7 L1773.7,573.7 L1776.2,573.7 L1778.7,573.7 L1781.2,573.7 L1783.7,573.7 L1786.3,573.7 L1788.8,573.7 L1791.3,573.7 L1793.8,573.7 L1796.3,573.7 L1798.8,573.7 L1801.3,573.7 L1803.8,573.7 L1806.4,573.7 L1808.9,573.7 L1811.4,573.7 L1813.9,573.7 L1816.4,573.7 L1818.9,573.7 L1821.4,573.7 L1824.0,573.7 L1826.5,573.7 L1829.0,573.7 L1831.5,573.7 L1834.0,573.7 L1836.5,573.7 L1839.1,573.7 L1841.6,573.7 L1844.1,573.7 L1846.6,573.7 L1849.1,573.7 L1851.7,573.7 L1854.2,573.7 L1856.7,573.7 L1859.2,573.7 L1861.7,573.7 L1864.2,573.7 L1866.8,573.7 L1869.3,573.7 L1871.8,573.7 L1874.3,573.7 L1876.9,573.7 L1879.4,573.7 L1881.9,573.7 L1884.4,573.7 L1886.9,573.7 L1889.5,573.7 L1892.0,573.7 L1894.5,573.7 L1897.0,573.7 L1899.6,573.7 L1902.1,573.7 L1904.6,573.7 L1907.1,573.7 L1909.7,573.7 L1912.2,573.7 L1914.7,573.7 L1917.2,573.7 L1919.8,573.7 L1922.3,573.7 L1924.8,573.7 L1927.4,573.7 L1929.9,573.7 L1932.4,573.7 L1934.9,573.7 L1937.5,573.7 L1940.0,573.7 L1942.5,573.7 L1945.1,573.7 L1947.6,573.7 L1950.1,573.7 L1952.6,573.7 L1955.2,573.7 L1957.7,573.7 L1960.2,573.7 L1962.8,573.7 L1965.3,573.7 L1967.8,573.7 L1970.4,573.7 L1972.9,573.7 L1975.4,573.7 L1978.0,573.7 L1980.5,573.7 L1983.0,573.7 L1985.6,573.7" fill="none" stroke="#ff4500" stroke-width="2.3" stroke-dasharray="4.5 6.1" stroke-dashoffset="5.3" stroke-linejoin="round" stroke-linecap="butt"/>
<path d="M1152.3,32.5 L1155.2,32.5 L1158.0,32.5 L1160.8,32.5 L1163.7,32.5 L1166.5,32.5 L1169.3,32.5 L1172.1,32.5 L1174.9,32.5 L1177.6,32.5 L1180.4,32.5 L1183.2,32.5 L1185.9,32.5 L1188.6,32.5 L1191.4,32.5 L1194.1,32.5 L1196.8,32.5 L1199.5,32.5 L1202.2,32.5 L1204.8,32.5 L1207.5,32.5 L1210.2,32.5 L1212.8,32.5 L1215.5,32.5 L1218.1,32.5 L1220.7,32.5 L1223.3,32.5 L1225.9,32.5 L1228.5,32.5 L1231.1,32.5 L1233.7,32.5 L1236.3,32.5 L1238.8,32.5 L1241.4,32.5 L1243.9,32.5 L1246.5,32.5 L1249.0,32.5 L1251.5,32.5 L1254.1,32.5 L1256.6,32.5 L1259.1,32.5 L1261.6,32.5 L1264.1,32.5 L1266.6,32.5 L1269.0,32.5 L1271.5,32.5 L1274.0,32.5 L1276.4,32.5 L1278.9,32.5 L1281.3,32.5 L1283.7,32.5 L1286.2,32.5 L1288.6,32.5 L1291.0,32.5 L1293.4,32.5 L1295.8,32.5 L1298.2,32.5 L1300.6,32.5 L1303.0,32.5 L1305.4,32.5 L1307.7,32.5 L1310.1,32.5 L1312.5,32.5 L1314.8,32.5 L1317.2,32.5 L1319.5,32.5 L1321.9,32.5 L1324.2,32.5 L1326.5,32.5 L1328.9,32.5 L1331.2,32.5 L1333.5,32.5 L1335.8,32.5 L1338.1,32.5 L1340.4,32.5 L1342.7,32.5 L1345.0,32.5 L1347.3,32.5 L1349.6,32.5 L1351.9,32.5 L1354.2,32.5 L1356.5,32.5 L1358.8,33.1 L1361.2,34.4 L1363.4,36.2 L1365.5,37.9 L1367.5,39.7 L1369.3,41.7 L1371.1,43.8 L1372.8,46.0 L1374.5,48.2 L1376.3,50.6 L1378.0,53.1 L1379.7,55.6 L1381.3,58.1 L1382.8,60.7 L1384.1,62.9 L1385.3,65.1 L1386.4,67.4 L1387.6,69.7 L1388.7,72.0 L1389.8,74.2 L1391.0,76.8 L1392.2,79.4 L1393.3,82.1 L1394.5,84.7 L1395.6,87.3 L1396.7,90.0 L1397.8,92.5 L1398.9,95.0 L1399.9,97.5 L1401.0,100.1 L1402.0,102.6 L1403.0,105.1 L1403.9,107.7 L1404.9,110.2 L1405.8,112.8 L1406.7,115.3 L1407.5,117.9 L1408.4,120.5 L1409.2,123.0 L1410.1,125.6 L1410.9,128.3 L1411.8,130.9 L1412.6,133.5 L1413.4,136.2 L1414.1,138.8 L1414.8,141.5 L1415.3,144.0 L1415.9,146.5 L1416.3,149.0 L1416.8,151.5 L1417.2,154.1 L1417.7,156.6 L1418.1,159.2 L1418.5,161.7 L1418.9,164.2 L1419.4,166.9 L1419.9,169.5 L1420.3,172.2 L1420.8,174.9 L1421.2,177.5 L1421.7,180.2 L1422.1,182.8 L1422.6,185.5 L1423.0,188.2 L1423.4,190.8 L1423.8,193.5 L1424.2,196.2 L1424.6,198.8 L1425.0,201.5 L1425.4,204.1 L1425.8,206.8 L1426.1,209.5 L1426.5,212.1 L1426.9,214.8 L1427.3,217.4 L1427.6,220.1 L1428.0,222.8 L1428.3,225.5 L1428.7,228.2 L1429.1,230.9 L1429.5,233.6 L1429.9,236.3 L1430.2,239.0 L1430.6,241.7 L1430.9,244.4 L1431.2,247.2 L1431.4,249.9 L1431.7,252.5 L1431.9,255.2 L1432.1,257.8 L1432.3,260.5 L1432.5,263.2 L1432.6,265.8 L1432.8,268.5 L1433.0,271.2 L1433.1,273.8 L1433.3,276.5 L1433.5,279.1 L1433.7,281.9 L1434.0,284.6 L1434.2,287.3 L1434.4,290.0 L1434.7,292.7 L1434.9,295.4 L1435.1,298.1 L1435.4,300.8 L1435.6,303.5 L1435.8,306.1 L1436.1,308.7 L1436.3,311.3 L1436.5,313.8 L1436.7,316.4 L1437.0,319.0 L1437.2,321.6 L1437.4,324.1 L1437.6,326.7 L1437.9,329.3 L1438.1,331.9 L1438.3,334.4 L1438.5,337.0 L1438.7,339.6 L1438.9,342.2 L1439.1,344.7 L1439.3,347.3 L1439.4,349.9 L1439.6,352.5 L1439.7,355.1 L1439.9,357.7 L1440.0,360.2 L1440.2,362.8 L1440.3,365.4 L1440.5,368.0 L1440.6,370.6 L1440.8,373.2 L1441.0,375.8 L1441.2,378.3 L1441.4,380.9 L1441.6,383.5 L1441.9,386.1 L1442.2,388.7 L1442.5,391.3 L1442.8,393.9 L1443.0,396.4 L1443.3,399.0 L1443.6,401.6 L1443.9,404.2 L1444.2,406.8 L1444.4,409.4 L1444.6,411.9 L1444.8,414.4 L1445.0,416.9 L1445.2,419.4 L1445.3,421.9 L1445.5,424.5 L1445.6,427.0 L1445.7,429.5 L1445.9,432.0 L1446.0,434.5 L1446.2,437.0 L1446.3,439.5 L1446.5,442.0 L1446.7,444.5 L1447.0,447.1 L1447.2,449.8 L1447.5,452.5 L1447.8,455.1 L1448.1,457.8 L1448.5,460.4 L1448.8,463.1 L1449.1,465.8 L1449.5,468.4 L1449.8,471.1 L1450.2,473.7 L1450.5,476.3 L1450.9,478.9 L1451.3,481.5 L1451.6,484.1 L1452.0,486.7 L1452.4,489.3 L1452.8,491.8 L1453.2,494.4 L1453.5,497.0 L1453.9,499.6 L1454.3,502.2 L1454.7,504.8 L1455.1,507.3 L1455.4,510.0 L1455.8,512.7 L1456.1,515.3 L1456.5,518.0 L1456.8,520.7 L1457.2,523.3 L1457.5,526.0 L1457.9,528.7 L1458.3,531.3 L1458.8,534.0 L1459.2,536.6 L1459.8,539.7 L1460.5,542.8 L1461.3,545.8 L1462.3,548.6 L1463.5,551.3 L1464.8,554.0 L1466.2,556.7 L1467.6,559.7 L1469.2,562.6 L1471.0,565.1 L1475.2,567.8 L1477.9,569.9 L1480.8,571.7 L1483.5,572.7 L1486.5,573.7 L1489.5,573.7 L1492.6,573.7 L1495.0,573.7 L1497.5,573.7 L1499.9,573.7 L1502.4,573.7 L1504.8,573.7 L1507.3,573.7 L1509.8,573.7 L1512.2,573.7 L1514.7,573.7 L1517.1,573.7 L1519.6,573.7 L1522.0,573.7 L1524.5,573.7 L1527.0,573.7 L1529.4,573.7 L1531.9,573.7 L1534.3,573.7 L1536.8,573.7 L1539.3,573.7 L1541.7,573.7 L1544.2,573.7 L1546.6,573.7 L1549.1,573.7 L1551.6,573.7 L1554.0,573.7 L1556.5,573.7 L1559.0,573.7 L1561.4,573.7 L1563.9,573.7 L1566.3,573.7 L1568.8,573.7 L1571.3,573.7 L1573.7,573.7 L1576.2,573.7 L1578.7,573.7 L1581.1,573.7 L1583.6,573.7 L1586.1,573.7 L1588.5,573.7 L1591.0,573.7 L1593.5,573.7 L1596.0,573.7 L1598.4,573.7 L1600.9,573.7 L1603.4,573.7 L1605.8,573.7 L1608.3,573.7 L1610.8,573.7 L1613.2,573.7 L1615.7,573.7 L1618.2,573.7 L1620.7,573.7 L1623.1,573.7 L1625.6,573.7 L1628.1,573.7 L1630.6,573.7 L1633.0,573.7 L1635.5,573.7 L1638.0,573.7 L1640.5,573.7 L1642.9,573.7 L1645.4,573.7 L1647.9,573.7 L1650.4,573.7 L1652.9,573.7 L1655.3,573.7 L1657.8,573.7 L1660.3,573.7 L1662.8,573.7 L1665.3,573.7 L1667.7,573.7 L1670.2,573.7 L1672.7,573.7 L1675.2,573.7 L1677.7,573.7 L1680.2,573.7 L1682.6,573.7 L1685.1,573.7 L1687.6,573.7 L1690.1,573.7 L1692.6,573.7 L1695.1,573.7 L1697.6,573.7 L1700.1,573.7 L1702.5,573.7 L1705.0,573.7 L1707.5,573.7 L1710.0,573.7 L1712.5,573.7 L1715.0,573.7 L1717.5,573.7 L1720.0,573.7 L1722.5,573.7 L1725.0,573.7 L1727.5,573.7 L1730.0,573.7 L1732.5,573.7 L1735.0,573.7 L1737.4,573.7 L1739.9,573.7 L1742.4,573.7 L1744.9,573.7 L1747.4,573.7 L1749.9,573.7 L1752.4,573.7 L1754.9,573.7 L1757.4,573.7 L1759.9,573.7 L1762.5,573.7 L1765.0,573.7 L1767.5,573.7 L1770.0,573.7 L1772.5,573.7 L1775.0,573.7 L1777.5,573.7 L1780.0,573.7 L1782.5,573.7 L1785.0,573.7 L1787.5,573.7 L1790.0,573.7 L1792.5,573.7 L1795.1,573.7 L1797.6,573.7 L1800.1,573.7 L1802.6,573.7 L1805.1,573.7 L1807.6,573.7 L1810.1,573.7 L1812.7,573.7 L1815.2,573.7 L1817.7,573.7 L1820.2,573.7 L1822.7,573.7 L1825.2,573.7 L1827.8,573.7 L1830.3,573.7 L1832.8,573.7 L1835.3,573.7 L1837.9,573.7 L1840.4,573.7 L1842.9,573.7 L1845.4,573.7 L1848.0,573.7 L1850.5,573.7 L1853.0,573.7 L1855.5,573.7 L1858.1,573.7 L1860.6,573.7 L1863.1,573.7 L1865.7,573.7 L1868.2,573.7 L1870.7,573.7 L1873.3,573.7 L1875.8,573.7 L1878.3,573.7 L1880.9,573.7 L1883.4,573.7 L1885.9,573.7 L1888.5,573.7 L1891.0,573.7 L1893.6,573.7 L1896.1,573.7 L1898.6,573.7 L1901.2,573.7 L1903.7,573.7 L1906.3,573.7 L1908.8,573.7 L1911.4,573.7 L1913.9,573.7 L1916.5,573.7 L1919.0,573.7 L1921.6,573.7 L1924.1,573.7 L1926.7,573.7 L1929.2,573.7 L1931.8,573.7 L1934.3,573.7 L1936.9,573.7 L1939.4,573.7 L1942.0,573.7 L1944.5,573.7 L1947.1,573.7 L1949.7,573.7 L1952.2,573.7 L1954.8,573.7 L1957.3,573.7 L1959.9,573.7 L1962.5,573.7 L1965.0,573.7 L1967.6,573.7 L1970.2,573.7 L1972.7,573.7 L1975.3,573.7 L1977.9,573.7 L1980.4,573.7 L1983.0,573.7 L1985.6,573.7" fill="none" stroke="#ffd700" stroke-width="2.3" stroke-dasharray="4.5 6.1" stroke-dashoffset="5.3" stroke-linejoin="round" stroke-linecap="butt"/>
<rect x="731" y="14.3" width="213" height="29.5" fill="#fff"/>
<text x="833.0" y="38.6" font-family="'Liberation Serif', serif" stroke="#000" stroke-width="0.3" font-size="28.7" text-anchor="end">Tumour</text>
<line x1="850.1" y1="28.3" x2="927.2" y2="28.3" stroke="#ff0000" stroke-width="4.0"/>
<rect x="1619.5" y="14.3" width="349.5" height="371" fill="#fff"/>
<text x="1857.8" y="38.3" font-family="'Liberation Serif', serif" stroke="#000" stroke-width="0.3" font-size="28.7" text-anchor="end">Mucosa</text>
<line x1="1875" y1="28.6" x2="1952" y2="28.6" stroke="#ff1493" stroke-width="5.0"/>
<text x="1857.8" y="66.8" font-family="'Liberation Serif', serif" stroke="#000" stroke-width="0.3" font-size="28.7" text-anchor="end">Body</text>
<line x1="1875" y1="57.1" x2="1952" y2="57.1" stroke="#a52a2a" stroke-width="3.5"/>
<text x="1857.8" y="95.3" font-family="'Liberation Serif', serif" stroke="#000" stroke-width="0.3" font-size="28.7" text-anchor="end">Brain</text>
<line x1="1875" y1="85.6" x2="1952" y2="85.6" stroke="#ffc0cb" stroke-width="3.5"/>
<text x="1857.8" y="123.7" font-family="'Liberation Serif', serif" stroke="#000" stroke-width="0.3" font-size="28.7" text-anchor="end">Brainstem</text>
<line x1="1875" y1="114.0" x2="1952" y2="114.0" stroke="#ffa500" stroke-width="3.5"/>
<text x="1857.8" y="152.2" font-family="'Liberation Serif', serif" stroke="#000" stroke-width="0.3" font-size="28.7" text-anchor="end">Esophagus</text>
<line x1="1875" y1="142.5" x2="1952" y2="142.5" stroke="#ff7f50" stroke-width="3.5"/>
<text x="1857.8" y="180.7" font-family="'Liberation Serif', serif" stroke="#000" stroke-width="0.3" font-size="28.7" text-anchor="end">Eye(Left)</text>
<line x1="1875" y1="171.0" x2="1952" y2="171.0" stroke="#00ee00" stroke-width="3.5"/>
<text x="1857.8" y="209.2" font-family="'Liberation Serif', serif" stroke="#000" stroke-width="0.3" font-size="28.7" text-anchor="end">Eye(Right)</text>
<line x1="1875" y1="199.5" x2="1952" y2="199.5" stroke="#b883ff" stroke-width="3.5"/>
<text x="1857.8" y="237.7" font-family="'Liberation Serif', serif" stroke="#000" stroke-width="0.3" font-size="28.7" text-anchor="end">Lung</text>
<line x1="1875" y1="228.0" x2="1952" y2="228.0" stroke="#0000ff" stroke-width="3.5"/>
<text x="1857.8" y="266.1" font-family="'Liberation Serif', serif" stroke="#000" stroke-width="0.3" font-size="28.7" text-anchor="end">Mandible</text>
<line x1="1875" y1="256.4" x2="1952" y2="256.4" stroke="#aaaaaa" stroke-width="3.5"/>
<text x="1857.8" y="294.6" font-family="'Liberation Serif', serif" stroke="#000" stroke-width="0.3" font-size="28.7" text-anchor="end">Parotid(Left)</text>
<line x1="1875" y1="284.9" x2="1952" y2="284.9" stroke="#afeeee" stroke-width="3.5"/>
<text x="1857.8" y="323.1" font-family="'Liberation Serif', serif" stroke="#000" stroke-width="0.3" font-size="28.7" text-anchor="end">Parotid(Right)</text>
<line x1="1875" y1="313.4" x2="1952" y2="313.4" stroke="#90ee90" stroke-width="3.5"/>
<text x="1857.8" y="351.6" font-family="'Liberation Serif', serif" stroke="#000" stroke-width="0.3" font-size="28.7" text-anchor="end">Spinal cord</text>
<line x1="1875" y1="341.9" x2="1952" y2="341.9" stroke="#ff4500" stroke-width="3.5"/>
<text x="1857.8" y="380.1" font-family="'Liberation Serif', serif" stroke="#000" stroke-width="0.3" font-size="28.7" text-anchor="end">Thyroid</text>
<line x1="1875" y1="370.4" x2="1952" y2="370.4" stroke="#ffd700" stroke-width="3.5"/>
<rect x="127.8" y="5.0" width="833.6" height="569.6" fill="none" stroke="#000" stroke-width="1.5"/><text x="130.8" y="612.8" font-family="'Liberation Serif', serif" stroke="#000" stroke-width="0.3" font-size="29.5" text-anchor="middle">0</text><text x="235.1" y="612.8" font-family="'Liberation Serif', serif" stroke="#000" stroke-width="0.3" font-size="29.5" text-anchor="middle">5</text><text x="339.4" y="612.8" font-family="'Liberation Serif', serif" stroke="#000" stroke-width="0.3" font-size="29.5" text-anchor="middle">10</text><text x="443.8" y="612.8" font-family="'Liberation Serif', serif" stroke="#000" stroke-width="0.3" font-size="29.5" text-anchor="middle">15</text><text x="548.1" y="612.8" font-family="'Liberation Serif', serif" stroke="#000" stroke-width="0.3" font-size="29.5" text-anchor="middle">20</text><text x="652.4" y="612.8" font-family="'Liberation Serif', serif" stroke="#000" stroke-width="0.3" font-size="29.5" text-anchor="middle">25</text><text x="756.8" y="612.8" font-family="'Liberation Serif', serif" stroke="#000" stroke-width="0.3" font-size="29.5" text-anchor="middle">30</text><text x="861.1" y="612.8" font-family="'Liberation Serif', serif" stroke="#000" stroke-width="0.3" font-size="29.5" text-anchor="middle">35</text><text x="965.4" y="612.8" font-family="'Liberation Serif', serif" stroke="#000" stroke-width="0.3" font-size="29.5" text-anchor="middle">40</text><text x="111.6" y="583.9" font-family="'Liberation Serif', serif" stroke="#000" stroke-width="0.3" font-size="29.5" text-anchor="end">0</text><text x="111.6" y="475.3" font-family="'Liberation Serif', serif" stroke="#000" stroke-width="0.3" font-size="29.5" text-anchor="end">20</text><text x="111.6" y="366.8" font-family="'Liberation Serif', serif" stroke="#000" stroke-width="0.3" font-size="29.5" text-anchor="end">40</text><text x="111.6" y="259.0" font-family="'Liberation Serif', serif" stroke="#000" stroke-width="0.3" font-size="29.5" text-anchor="end">60</text><text x="111.6" y="150.4" font-family="'Liberation Serif', serif" stroke="#000" stroke-width="0.3" font-size="29.5" text-anchor="end">80</text><text x="111.6" y="41.6" font-family="'Liberation Serif', serif" stroke="#000" stroke-width="0.3" font-size="29.5" text-anchor="end">100</text><text x="544.6" y="654.1" font-family="'Liberation Serif', serif" stroke="#000" stroke-width="0.3" font-size="32.8" text-anchor="middle" textLength="466" lengthAdjust="spacing">Biologically weighted dose (Gy<tspan font-size="25.5" dy="8.6">w</tspan><tspan dy="-8.6">)</tspan></text><text x="25.9" y="290" font-family="'Liberation Serif', serif" stroke="#000" stroke-width="0.3" font-size="32.4" text-anchor="middle" textLength="169" lengthAdjust="spacing" transform="rotate(-90 25.9 290)">Volume (%)</text>
<rect x="1152.9" y="5.0" width="832.9" height="569.6" fill="none" stroke="#000" stroke-width="1.5"/><text x="1155.8" y="612.8" font-family="'Liberation Serif', serif" stroke="#000" stroke-width="0.3" font-size="29.5" text-anchor="middle">0</text><text x="1294.7" y="612.8" font-family="'Liberation Serif', serif" stroke="#000" stroke-width="0.3" font-size="29.5" text-anchor="middle">2</text><text x="1433.6" y="612.8" font-family="'Liberation Serif', serif" stroke="#000" stroke-width="0.3" font-size="29.5" text-anchor="middle">4</text><text x="1572.4" y="612.8" font-family="'Liberation Serif', serif" stroke="#000" stroke-width="0.3" font-size="29.5" text-anchor="middle">6</text><text x="1711.3" y="612.8" font-family="'Liberation Serif', serif" stroke="#000" stroke-width="0.3" font-size="29.5" text-anchor="middle">8</text><text x="1850.2" y="612.8" font-family="'Liberation Serif', serif" stroke="#000" stroke-width="0.3" font-size="29.5" text-anchor="middle">10</text><text x="1989.1" y="612.8" font-family="'Liberation Serif', serif" stroke="#000" stroke-width="0.3" font-size="29.5" text-anchor="middle">12</text><text x="1136.7" y="583.9" font-family="'Liberation Serif', serif" stroke="#000" stroke-width="0.3" font-size="29.5" text-anchor="end">0</text><text x="1136.7" y="475.3" font-family="'Liberation Serif', serif" stroke="#000" stroke-width="0.3" font-size="29.5" text-anchor="end">20</text><text x="1136.7" y="366.8" font-family="'Liberation Serif', serif" stroke="#000" stroke-width="0.3" font-size="29.5" text-anchor="end">40</text><text x="1136.7" y="259.0" font-family="'Liberation Serif', serif" stroke="#000" stroke-width="0.3" font-size="29.5" text-anchor="end">60</text><text x="1136.7" y="150.4" font-family="'Liberation Serif', serif" stroke="#000" stroke-width="0.3" font-size="29.5" text-anchor="end">80</text><text x="1136.7" y="41.6" font-family="'Liberation Serif', serif" stroke="#000" stroke-width="0.3" font-size="29.5" text-anchor="end">100</text><text x="1568.9" y="654.1" font-family="'Liberation Serif', serif" stroke="#000" stroke-width="0.3" font-size="32.8" text-anchor="middle" textLength="466" lengthAdjust="spacing">Biologically weighted dose (Gy<tspan font-size="25.5" dy="8.6">w</tspan><tspan dy="-8.6">)</tspan></text><text x="1051.0" y="290" font-family="'Liberation Serif', serif" stroke="#000" stroke-width="0.3" font-size="32.4" text-anchor="middle" textLength="169" lengthAdjust="spacing" transform="rotate(-90 1051.0 290)">Volume (%)</text>
</svg></body></html>
